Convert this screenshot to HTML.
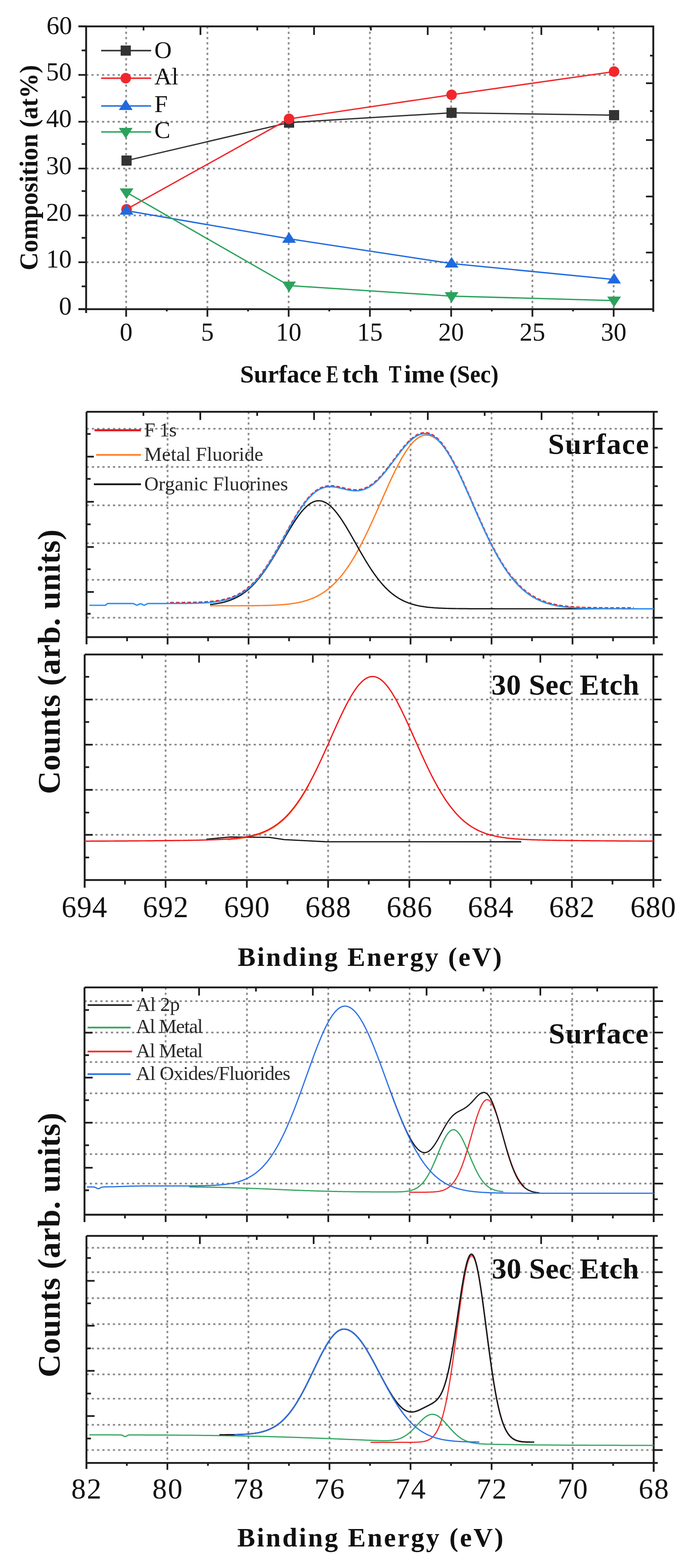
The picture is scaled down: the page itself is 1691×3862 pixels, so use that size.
<!DOCTYPE html>
<html><head><meta charset="utf-8"><title>XPS figure</title>
<style>html,body{margin:0;padding:0;background:#fff}svg{display:block}</style>
</head><body>
<svg width="1691" height="3862" viewBox="0 0 1691 3862">
<style>.g{stroke:#8c8c8c;stroke-width:4.2;stroke-dasharray:5.5 7.5;fill:none}</style>
<rect width="1691" height="3862" fill="#fff"/>
<line x1="212.0" y1="645.9" x2="1608.0" y2="645.9" class="g"/>
<line x1="212.0" y1="530.7" x2="1608.0" y2="530.7" class="g"/>
<line x1="212.0" y1="415.1" x2="1608.0" y2="415.1" class="g"/>
<line x1="212.0" y1="299.8" x2="1608.0" y2="299.8" class="g"/>
<line x1="212.0" y1="184.5" x2="1608.0" y2="184.5" class="g"/>
<line x1="310.5" y1="65.0" x2="310.5" y2="761.5" class="g"/>
<line x1="510.5" y1="65.0" x2="510.5" y2="761.5" class="g"/>
<line x1="710.5" y1="65.0" x2="710.5" y2="761.5" class="g"/>
<line x1="910.5" y1="65.0" x2="910.5" y2="761.5" class="g"/>
<line x1="1110.5" y1="65.0" x2="1110.5" y2="761.5" class="g"/>
<line x1="1310.5" y1="65.0" x2="1310.5" y2="761.5" class="g"/>
<line x1="1510.5" y1="65.0" x2="1510.5" y2="761.5" class="g"/>
<line x1="212.0" y1="65.0" x2="212.0" y2="771.0" stroke="#1c1c1c" stroke-width="4.6" />
<line x1="193.0" y1="65.0" x2="1610.0" y2="65.0" stroke="#1c1c1c" stroke-width="4.6" />
<line x1="193.0" y1="761.5" x2="1608.0" y2="761.5" stroke="#1c1c1c" stroke-width="4.6" />
<line x1="1608.0" y1="63.0" x2="1608.0" y2="768.0" stroke="#1c1c1c" stroke-width="4.6" />
<line x1="193.0" y1="761.2" x2="212.0" y2="761.2" stroke="#1c1c1c" stroke-width="4.2" />
<line x1="193.0" y1="645.9" x2="212.0" y2="645.9" stroke="#1c1c1c" stroke-width="4.2" />
<line x1="193.0" y1="530.7" x2="212.0" y2="530.7" stroke="#1c1c1c" stroke-width="4.2" />
<line x1="193.0" y1="415.1" x2="212.0" y2="415.1" stroke="#1c1c1c" stroke-width="4.2" />
<line x1="193.0" y1="299.8" x2="212.0" y2="299.8" stroke="#1c1c1c" stroke-width="4.2" />
<line x1="193.0" y1="184.5" x2="212.0" y2="184.5" stroke="#1c1c1c" stroke-width="4.2" />
<line x1="193.0" y1="64.8" x2="212.0" y2="64.8" stroke="#1c1c1c" stroke-width="4.2" />
<line x1="201.0" y1="705.3" x2="212.0" y2="705.3" stroke="#1c1c1c" stroke-width="4.2" />
<line x1="201.0" y1="585.8" x2="212.0" y2="585.8" stroke="#1c1c1c" stroke-width="4.2" />
<line x1="201.0" y1="470.6" x2="212.0" y2="470.6" stroke="#1c1c1c" stroke-width="4.2" />
<line x1="201.0" y1="354.7" x2="212.0" y2="354.7" stroke="#1c1c1c" stroke-width="4.2" />
<line x1="201.0" y1="239.5" x2="212.0" y2="239.5" stroke="#1c1c1c" stroke-width="4.2" />
<line x1="201.0" y1="124.2" x2="212.0" y2="124.2" stroke="#1c1c1c" stroke-width="4.2" />
<line x1="310.5" y1="761.5" x2="310.5" y2="780.0" stroke="#1c1c1c" stroke-width="4.2" />
<line x1="510.5" y1="761.5" x2="510.5" y2="780.0" stroke="#1c1c1c" stroke-width="4.2" />
<line x1="710.5" y1="761.5" x2="710.5" y2="780.0" stroke="#1c1c1c" stroke-width="4.2" />
<line x1="910.5" y1="761.5" x2="910.5" y2="780.0" stroke="#1c1c1c" stroke-width="4.2" />
<line x1="1110.5" y1="761.5" x2="1110.5" y2="780.0" stroke="#1c1c1c" stroke-width="4.2" />
<line x1="1310.5" y1="761.5" x2="1310.5" y2="780.0" stroke="#1c1c1c" stroke-width="4.2" />
<line x1="1510.5" y1="761.5" x2="1510.5" y2="780.0" stroke="#1c1c1c" stroke-width="4.2" />
<line x1="410.5" y1="761.5" x2="410.5" y2="767.0" stroke="#1c1c1c" stroke-width="4.2" />
<line x1="610.5" y1="761.5" x2="610.5" y2="767.0" stroke="#1c1c1c" stroke-width="4.2" />
<line x1="810.5" y1="761.5" x2="810.5" y2="767.0" stroke="#1c1c1c" stroke-width="4.2" />
<line x1="1010.5" y1="761.5" x2="1010.5" y2="767.0" stroke="#1c1c1c" stroke-width="4.2" />
<line x1="1210.5" y1="761.5" x2="1210.5" y2="767.0" stroke="#1c1c1c" stroke-width="4.2" />
<line x1="1410.5" y1="761.5" x2="1410.5" y2="767.0" stroke="#1c1c1c" stroke-width="4.2" />
<line x1="353.3" y1="65.0" x2="353.3" y2="75.0" stroke="#1c1c1c" stroke-width="4.2" />
<line x1="493.4" y1="65.0" x2="493.4" y2="86.0" stroke="#1c1c1c" stroke-width="4.2" />
<line x1="633.3" y1="65.0" x2="633.3" y2="75.0" stroke="#1c1c1c" stroke-width="4.2" />
<line x1="773.0" y1="65.0" x2="773.0" y2="86.0" stroke="#1c1c1c" stroke-width="4.2" />
<line x1="912.9" y1="65.0" x2="912.9" y2="75.0" stroke="#1c1c1c" stroke-width="4.2" />
<line x1="1052.8" y1="65.0" x2="1052.8" y2="86.0" stroke="#1c1c1c" stroke-width="4.2" />
<line x1="1192.6" y1="65.0" x2="1192.6" y2="75.0" stroke="#1c1c1c" stroke-width="4.2" />
<line x1="1332.5" y1="65.0" x2="1332.5" y2="86.0" stroke="#1c1c1c" stroke-width="4.2" />
<line x1="1472.4" y1="65.0" x2="1472.4" y2="75.0" stroke="#1c1c1c" stroke-width="4.2" />
<line x1="1608.0" y1="137.0" x2="1600.0" y2="137.0" stroke="#1c1c1c" stroke-width="4.2" />
<line x1="1608.0" y1="205.0" x2="1590.0" y2="205.0" stroke="#1c1c1c" stroke-width="4.2" />
<line x1="1608.0" y1="273.6" x2="1600.0" y2="273.6" stroke="#1c1c1c" stroke-width="4.2" />
<line x1="1608.0" y1="345.0" x2="1590.0" y2="345.0" stroke="#1c1c1c" stroke-width="4.2" />
<line x1="1608.0" y1="414.4" x2="1600.0" y2="414.4" stroke="#1c1c1c" stroke-width="4.2" />
<line x1="1608.0" y1="484.0" x2="1590.0" y2="484.0" stroke="#1c1c1c" stroke-width="4.2" />
<line x1="1608.0" y1="551.6" x2="1600.0" y2="551.6" stroke="#1c1c1c" stroke-width="4.2" />
<line x1="1608.0" y1="622.0" x2="1590.0" y2="622.0" stroke="#1c1c1c" stroke-width="4.2" />
<line x1="1608.0" y1="691.0" x2="1600.0" y2="691.0" stroke="#1c1c1c" stroke-width="4.2" />
<text x="176.5" y="774.7" font-family="'Liberation Serif','Times New Roman',serif" font-size="63" font-weight="normal" text-anchor="end" fill="#111">0</text>
<text x="176.5" y="659.4" font-family="'Liberation Serif','Times New Roman',serif" font-size="63" font-weight="normal" text-anchor="end" fill="#111">10</text>
<text x="176.5" y="544.2" font-family="'Liberation Serif','Times New Roman',serif" font-size="63" font-weight="normal" text-anchor="end" fill="#111">20</text>
<text x="176.5" y="428.6" font-family="'Liberation Serif','Times New Roman',serif" font-size="63" font-weight="normal" text-anchor="end" fill="#111">30</text>
<text x="176.5" y="313.3" font-family="'Liberation Serif','Times New Roman',serif" font-size="63" font-weight="normal" text-anchor="end" fill="#111">40</text>
<text x="176.5" y="198.0" font-family="'Liberation Serif','Times New Roman',serif" font-size="63" font-weight="normal" text-anchor="end" fill="#111">50</text>
<text x="177.5" y="83.5" font-family="'Liberation Serif','Times New Roman',serif" font-size="63" font-weight="normal" text-anchor="end" fill="#111">60</text>
<text x="310.5" y="838.5" font-family="'Liberation Serif','Times New Roman',serif" font-size="63" font-weight="normal" text-anchor="middle" fill="#111">0</text>
<text x="510.5" y="838.5" font-family="'Liberation Serif','Times New Roman',serif" font-size="63" font-weight="normal" text-anchor="middle" fill="#111">5</text>
<text x="710.5" y="838.5" font-family="'Liberation Serif','Times New Roman',serif" font-size="63" font-weight="normal" text-anchor="middle" fill="#111">10</text>
<text x="910.5" y="838.5" font-family="'Liberation Serif','Times New Roman',serif" font-size="63" font-weight="normal" text-anchor="middle" fill="#111">15</text>
<text x="1110.5" y="838.5" font-family="'Liberation Serif','Times New Roman',serif" font-size="63" font-weight="normal" text-anchor="middle" fill="#111">20</text>
<text x="1310.5" y="838.5" font-family="'Liberation Serif','Times New Roman',serif" font-size="63" font-weight="normal" text-anchor="middle" fill="#111">25</text>
<text x="1510.5" y="838.5" font-family="'Liberation Serif','Times New Roman',serif" font-size="63" font-weight="normal" text-anchor="middle" fill="#111">30</text>
<text x="591.0" y="941.5" font-family="'Liberation Serif','Times New Roman',serif" font-size="62" font-weight="bold" text-anchor="start" fill="#111" textLength="200" lengthAdjust="spacingAndGlyphs">Surface</text>
<text x="803.0" y="941.5" font-family="'Liberation Serif','Times New Roman',serif" font-size="62" font-weight="bold" text-anchor="start" fill="#111" textLength="30" lengthAdjust="spacingAndGlyphs">E</text>
<text x="842.0" y="941.5" font-family="'Liberation Serif','Times New Roman',serif" font-size="62" font-weight="bold" text-anchor="start" fill="#111" textLength="90" lengthAdjust="spacingAndGlyphs">tch</text>
<text x="957.0" y="941.5" font-family="'Liberation Serif','Times New Roman',serif" font-size="62" font-weight="bold" text-anchor="start" fill="#111" textLength="31" lengthAdjust="spacingAndGlyphs">T</text>
<text x="994.5" y="941.5" font-family="'Liberation Serif','Times New Roman',serif" font-size="62" font-weight="bold" text-anchor="start" fill="#111" textLength="99.5" lengthAdjust="spacingAndGlyphs">ime</text>
<text x="1106.0" y="941.5" font-family="'Liberation Serif','Times New Roman',serif" font-size="62" font-weight="bold" text-anchor="start" fill="#111" textLength="121" lengthAdjust="spacingAndGlyphs">(Sec)</text>
<text x="92.0" y="666.0" font-family="'Liberation Serif','Times New Roman',serif" font-size="64" font-weight="bold" text-anchor="start" fill="#111" textLength="506" lengthAdjust="spacingAndGlyphs" transform="rotate(-90 92.0 666.0)">Composition (at%)</text>
<polyline points="311.5,395.5 711.5,302.0 1111.5,277.8 1511.5,283.6" fill="none" stroke="#333333" stroke-width="3.3" stroke-linejoin="round" />
<polyline points="311.5,515.4 711.5,292.8 1111.5,233.4 1511.5,176.3" fill="none" stroke="#f0282d" stroke-width="3.3" stroke-linejoin="round" />
<polyline points="311.5,518.9 711.5,588.1 1111.5,649.2 1511.5,688.4" fill="none" stroke="#1f6ae0" stroke-width="3.3" stroke-linejoin="round" />
<polyline points="311.5,473.9 711.5,703.4 1111.5,729.4 1511.5,740.3" fill="none" stroke="#2ba35c" stroke-width="3.3" stroke-linejoin="round" />
<rect x="299.0" y="383.0" width="25" height="25" fill="#333333"/>
<rect x="699.0" y="289.5" width="25" height="25" fill="#333333"/>
<rect x="1099.0" y="265.3" width="25" height="25" fill="#333333"/>
<rect x="1499.0" y="271.1" width="25" height="25" fill="#333333"/>
<circle cx="311.5" cy="515.4" r="13.0" fill="#f0282d"/>
<circle cx="711.5" cy="292.8" r="13.0" fill="#f0282d"/>
<circle cx="1111.5" cy="233.4" r="13.0" fill="#f0282d"/>
<circle cx="1511.5" cy="176.3" r="13.0" fill="#f0282d"/>
<polygon points="311.5,502.8 294.5,528.8 328.5,528.8" fill="#1f6ae0"/>
<polygon points="711.5,572.0 694.5,598.0 728.5,598.0" fill="#1f6ae0"/>
<polygon points="1111.5,633.1 1094.5,659.1 1128.5,659.1" fill="#1f6ae0"/>
<polygon points="1511.5,672.3 1494.5,698.3 1528.5,698.3" fill="#1f6ae0"/>
<polygon points="311.5,490.0 294.5,464.0 328.5,464.0" fill="#2ba35c"/>
<polygon points="711.5,719.6 694.5,693.6 728.5,693.6" fill="#2ba35c"/>
<polygon points="1111.5,745.5 1094.5,719.5 1128.5,719.5" fill="#2ba35c"/>
<polygon points="1511.5,756.5 1494.5,730.5 1528.5,730.5" fill="#2ba35c"/>
<line x1="249.0" y1="124.6" x2="372.0" y2="124.6" stroke="#333333" stroke-width="3.6" />
<rect x="297.0" y="112.1" width="25" height="25" fill="#333333"/>
<text x="380.0" y="143.0" font-family="'Liberation Serif','Times New Roman',serif" font-size="59" font-weight="normal" text-anchor="start" fill="#111">O</text>
<line x1="249.0" y1="192.6" x2="372.0" y2="192.6" stroke="#f0282d" stroke-width="3.6" />
<circle cx="309.5" cy="192.6" r="13.0" fill="#f0282d"/>
<text x="380.0" y="207.6" font-family="'Liberation Serif','Times New Roman',serif" font-size="59" font-weight="normal" text-anchor="start" fill="#111">Al</text>
<line x1="249.0" y1="261.0" x2="372.0" y2="261.0" stroke="#1f6ae0" stroke-width="3.6" />
<polygon points="309.5,244.9 292.5,270.9 326.5,270.9" fill="#1f6ae0"/>
<text x="380.0" y="275.6" font-family="'Liberation Serif','Times New Roman',serif" font-size="59" font-weight="normal" text-anchor="start" fill="#111">F</text>
<line x1="249.0" y1="325.0" x2="372.0" y2="325.0" stroke="#2ba35c" stroke-width="3.6" />
<polygon points="309.5,341.1 292.5,315.1 326.5,315.1" fill="#2ba35c"/>
<text x="380.0" y="340.0" font-family="'Liberation Serif','Times New Roman',serif" font-size="59" font-weight="normal" text-anchor="start" fill="#111">C</text>
<line x1="213.0" y1="1056.0" x2="1609.0" y2="1056.0" class="g"/>
<line x1="213.0" y1="1150.2" x2="1609.0" y2="1150.2" class="g"/>
<line x1="213.0" y1="1244.6" x2="1609.0" y2="1244.6" class="g"/>
<line x1="213.0" y1="1337.8" x2="1609.0" y2="1337.8" class="g"/>
<line x1="213.0" y1="1428.2" x2="1609.0" y2="1428.2" class="g"/>
<line x1="213.0" y1="1521.5" x2="1609.0" y2="1521.5" class="g"/>
<line x1="412.5" y1="1014.3" x2="412.5" y2="1569.3" class="g"/>
<line x1="611.8" y1="1014.3" x2="611.8" y2="1569.3" class="g"/>
<line x1="811.2" y1="1014.3" x2="811.2" y2="1569.3" class="g"/>
<line x1="1010.5" y1="1014.3" x2="1010.5" y2="1569.3" class="g"/>
<line x1="1209.9" y1="1014.3" x2="1209.9" y2="1569.3" class="g"/>
<line x1="1409.2" y1="1014.3" x2="1409.2" y2="1569.3" class="g"/>
<line x1="213.0" y1="1068.8" x2="223.0" y2="1068.8" stroke="#1c1c1c" stroke-width="4.2" />
<line x1="213.0" y1="1124.7" x2="231.0" y2="1124.7" stroke="#1c1c1c" stroke-width="4.2" />
<line x1="213.0" y1="1179.5" x2="223.0" y2="1179.5" stroke="#1c1c1c" stroke-width="4.2" />
<line x1="213.0" y1="1235.9" x2="231.0" y2="1235.9" stroke="#1c1c1c" stroke-width="4.2" />
<line x1="213.0" y1="1291.4" x2="223.0" y2="1291.4" stroke="#1c1c1c" stroke-width="4.2" />
<line x1="213.0" y1="1347.3" x2="231.0" y2="1347.3" stroke="#1c1c1c" stroke-width="4.2" />
<line x1="213.0" y1="1402.0" x2="223.0" y2="1402.0" stroke="#1c1c1c" stroke-width="4.2" />
<line x1="213.0" y1="1458.0" x2="231.0" y2="1458.0" stroke="#1c1c1c" stroke-width="4.2" />
<line x1="213.0" y1="1511.7" x2="223.0" y2="1511.7" stroke="#1c1c1c" stroke-width="4.2" />
<line x1="1609.0" y1="1056.0" x2="1631.0" y2="1056.0" stroke="#1c1c1c" stroke-width="4.2" />
<line x1="1609.0" y1="1150.2" x2="1631.0" y2="1150.2" stroke="#1c1c1c" stroke-width="4.2" />
<line x1="1609.0" y1="1244.6" x2="1631.0" y2="1244.6" stroke="#1c1c1c" stroke-width="4.2" />
<line x1="1609.0" y1="1337.8" x2="1631.0" y2="1337.8" stroke="#1c1c1c" stroke-width="4.2" />
<line x1="1609.0" y1="1428.2" x2="1631.0" y2="1428.2" stroke="#1c1c1c" stroke-width="4.2" />
<line x1="1609.0" y1="1521.5" x2="1631.0" y2="1521.5" stroke="#1c1c1c" stroke-width="4.2" />
<line x1="1609.0" y1="1102.4" x2="1619.0" y2="1102.4" stroke="#1c1c1c" stroke-width="4.2" />
<line x1="1609.0" y1="1197.4" x2="1619.0" y2="1197.4" stroke="#1c1c1c" stroke-width="4.2" />
<line x1="1609.0" y1="1291.0" x2="1619.0" y2="1291.0" stroke="#1c1c1c" stroke-width="4.2" />
<line x1="1609.0" y1="1385.3" x2="1619.0" y2="1385.3" stroke="#1c1c1c" stroke-width="4.2" />
<line x1="1609.0" y1="1475.0" x2="1619.0" y2="1475.0" stroke="#1c1c1c" stroke-width="4.2" />
<line x1="312.8" y1="1569.3" x2="312.8" y2="1579.3" stroke="#1c1c1c" stroke-width="4.2" />
<line x1="412.5" y1="1569.3" x2="412.5" y2="1587.3" stroke="#1c1c1c" stroke-width="4.2" />
<line x1="512.2" y1="1569.3" x2="512.2" y2="1579.3" stroke="#1c1c1c" stroke-width="4.2" />
<line x1="611.8" y1="1569.3" x2="611.8" y2="1587.3" stroke="#1c1c1c" stroke-width="4.2" />
<line x1="711.5" y1="1569.3" x2="711.5" y2="1579.3" stroke="#1c1c1c" stroke-width="4.2" />
<line x1="811.2" y1="1569.3" x2="811.2" y2="1587.3" stroke="#1c1c1c" stroke-width="4.2" />
<line x1="910.9" y1="1569.3" x2="910.9" y2="1579.3" stroke="#1c1c1c" stroke-width="4.2" />
<line x1="1010.5" y1="1569.3" x2="1010.5" y2="1587.3" stroke="#1c1c1c" stroke-width="4.2" />
<line x1="1110.2" y1="1569.3" x2="1110.2" y2="1579.3" stroke="#1c1c1c" stroke-width="4.2" />
<line x1="1209.9" y1="1569.3" x2="1209.9" y2="1587.3" stroke="#1c1c1c" stroke-width="4.2" />
<line x1="1309.5" y1="1569.3" x2="1309.5" y2="1579.3" stroke="#1c1c1c" stroke-width="4.2" />
<line x1="1409.2" y1="1569.3" x2="1409.2" y2="1587.3" stroke="#1c1c1c" stroke-width="4.2" />
<line x1="1508.9" y1="1569.3" x2="1508.9" y2="1579.3" stroke="#1c1c1c" stroke-width="4.2" />
<line x1="353.0" y1="1014.3" x2="353.0" y2="1024.3" stroke="#1c1c1c" stroke-width="4.2" />
<line x1="493.0" y1="1014.3" x2="493.0" y2="1034.3" stroke="#1c1c1c" stroke-width="4.2" />
<line x1="633.0" y1="1014.3" x2="633.0" y2="1024.3" stroke="#1c1c1c" stroke-width="4.2" />
<line x1="773.0" y1="1014.3" x2="773.0" y2="1034.3" stroke="#1c1c1c" stroke-width="4.2" />
<line x1="913.0" y1="1014.3" x2="913.0" y2="1024.3" stroke="#1c1c1c" stroke-width="4.2" />
<line x1="1053.0" y1="1014.3" x2="1053.0" y2="1034.3" stroke="#1c1c1c" stroke-width="4.2" />
<line x1="1193.0" y1="1014.3" x2="1193.0" y2="1024.3" stroke="#1c1c1c" stroke-width="4.2" />
<line x1="1333.0" y1="1014.3" x2="1333.0" y2="1034.3" stroke="#1c1c1c" stroke-width="4.2" />
<line x1="1473.0" y1="1014.3" x2="1473.0" y2="1024.3" stroke="#1c1c1c" stroke-width="4.2" />
<line x1="213.0" y1="1014.3" x2="213.0" y2="1587.0" stroke="#1c1c1c" stroke-width="4.6" />
<line x1="1609.0" y1="1014.3" x2="1609.0" y2="1587.0" stroke="#1c1c1c" stroke-width="4.6" />
<line x1="213.0" y1="1014.3" x2="1619.0" y2="1014.3" stroke="#1c1c1c" stroke-width="4.6" />
<line x1="213.0" y1="1569.3" x2="1619.0" y2="1569.3" stroke="#1c1c1c" stroke-width="4.6" />
<polyline points="419.0,1484.2 422.0,1484.2 425.0,1484.2 428.0,1484.2 431.0,1484.2 434.0,1484.2 437.0,1484.2 440.0,1484.1 443.0,1484.1 446.0,1484.1 449.0,1484.1 452.0,1484.0 455.0,1484.0 458.0,1484.0 461.0,1483.9 464.0,1483.9 467.0,1483.8 470.0,1483.8 473.0,1483.7 476.0,1483.7 479.0,1483.6 482.0,1483.5 485.0,1483.4 488.0,1483.3 491.0,1483.2 494.0,1483.1 497.0,1482.9 500.0,1482.8 503.0,1482.6 506.0,1482.4 509.0,1482.2 512.0,1482.0 515.0,1481.8 518.0,1481.5 521.0,1481.2 524.0,1480.9 527.0,1480.6 530.0,1480.2 533.0,1479.8 536.0,1479.4 539.0,1478.9 542.0,1478.3 545.0,1477.8 548.0,1477.2 551.0,1476.5 554.0,1475.8 557.0,1475.0 560.0,1474.2 563.0,1473.3 566.0,1472.3 569.0,1471.3 572.0,1470.2 575.0,1469.0 578.0,1467.7 581.0,1466.4 584.0,1464.9 587.0,1463.4 590.0,1461.7 593.0,1460.0 596.0,1458.2 599.0,1456.2 602.0,1454.1 605.0,1452.0 608.0,1449.6 611.0,1447.2 614.0,1444.7 617.0,1442.0 620.0,1439.2 623.0,1436.2 626.0,1433.2 629.0,1430.0 632.0,1426.6 635.0,1423.1 638.0,1419.5 641.0,1415.8 644.0,1411.9 647.0,1407.9 650.0,1403.7 653.0,1399.5 656.0,1395.1 659.0,1390.5 662.0,1385.9 665.0,1381.2 668.0,1376.3 671.0,1371.4 674.0,1366.4 677.0,1361.2 680.0,1356.0 683.0,1350.8 686.0,1345.4 689.0,1340.1 692.0,1334.6 695.0,1329.2 698.0,1323.7 701.0,1318.2 704.0,1312.7 707.0,1307.3 710.0,1301.8 713.0,1296.4 716.0,1291.0 719.0,1285.7 722.0,1280.5 725.0,1275.3 728.0,1270.3 731.0,1265.3 734.0,1260.5 737.0,1255.8 740.0,1251.2 743.0,1246.8 746.0,1242.5 749.0,1238.4 752.0,1234.4 755.0,1230.6 758.0,1227.1 761.0,1223.7 764.0,1220.5 767.0,1217.5 770.0,1214.7 773.0,1212.1 776.0,1209.8 779.0,1207.6 782.0,1205.6 785.0,1203.9 788.0,1202.3 791.0,1201.0 794.0,1199.8 797.0,1198.8 800.0,1198.1 803.0,1197.5 806.0,1197.0 809.0,1196.7 812.0,1196.6 815.0,1196.6 818.0,1196.8 821.0,1197.0 824.0,1197.4 827.0,1197.8 830.0,1198.4 833.0,1199.0 836.0,1199.6 839.0,1200.3 842.0,1201.0 845.0,1201.7 848.0,1202.5 851.0,1203.2 854.0,1203.8 857.0,1204.5 860.0,1205.0 863.0,1205.5 866.0,1205.9 869.0,1206.2 872.0,1206.5 875.0,1206.6 878.0,1206.5 881.0,1206.4 884.0,1206.0 887.0,1205.6 890.0,1205.0 893.0,1204.2 896.0,1203.2 899.0,1202.1 902.0,1200.8 905.0,1199.3 908.0,1197.7 911.0,1195.8 914.0,1193.8 917.0,1191.7 920.0,1189.3 923.0,1186.8 926.0,1184.1 929.0,1181.3 932.0,1178.3 935.0,1175.1 938.0,1171.9 941.0,1168.5 944.0,1164.9 947.0,1161.3 950.0,1157.6 953.0,1153.8 956.0,1150.0 959.0,1146.0 962.0,1142.1 965.0,1138.0 968.0,1134.0 971.0,1130.0 974.0,1126.0 977.0,1122.0 980.0,1118.0 983.0,1114.1 986.0,1110.2 989.0,1106.5 992.0,1102.8 995.0,1099.2 998.0,1095.7 1001.0,1092.4 1004.0,1089.2 1007.0,1086.2 1010.0,1083.4 1013.0,1080.7 1016.0,1078.2 1019.0,1075.9 1022.0,1073.8 1025.0,1072.0 1028.0,1070.3 1031.0,1069.0 1034.0,1067.8 1037.0,1066.9 1040.0,1066.3 1043.0,1065.9 1046.0,1065.7 1049.0,1065.9 1052.0,1066.3 1055.0,1067.0 1058.0,1068.0 1061.0,1069.2 1064.0,1070.7 1067.0,1072.5 1070.0,1074.5 1073.0,1076.8 1076.0,1079.4 1079.0,1082.3 1082.0,1085.4 1085.0,1088.7 1088.0,1092.4 1091.0,1096.2 1094.0,1100.3 1097.0,1104.6 1100.0,1109.1 1103.0,1113.9 1106.0,1118.8 1109.0,1123.9 1112.0,1129.3 1115.0,1134.8 1118.0,1140.4 1121.0,1146.2 1124.0,1152.2 1127.0,1158.3 1130.0,1164.5 1133.0,1170.9 1136.0,1177.3 1139.0,1183.8 1142.0,1190.4 1145.0,1197.1 1148.0,1203.9 1151.0,1210.7 1154.0,1217.5 1157.0,1224.4 1160.0,1231.2 1163.0,1238.1 1166.0,1245.0 1169.0,1251.9 1172.0,1258.7 1175.0,1265.6 1178.0,1272.4 1181.0,1279.1 1184.0,1285.8 1187.0,1292.4 1190.0,1299.0 1193.0,1305.5 1196.0,1311.9 1199.0,1318.2 1202.0,1324.4 1205.0,1330.6 1208.0,1336.6 1211.0,1342.5 1214.0,1348.3 1217.0,1354.0 1220.0,1359.5 1223.0,1365.0 1226.0,1370.3 1229.0,1375.5 1232.0,1380.5 1235.0,1385.5 1238.0,1390.3 1241.0,1394.9 1244.0,1399.5 1247.0,1403.9 1250.0,1408.1 1253.0,1412.2 1256.0,1416.2 1259.0,1420.1 1262.0,1423.8 1265.0,1427.4 1268.0,1430.9 1271.0,1434.2 1274.0,1437.4 1277.0,1440.5 1280.0,1443.5 1283.0,1446.3 1286.0,1449.1 1289.0,1451.7 1292.0,1454.2 1295.0,1456.6 1298.0,1458.9 1301.0,1461.1 1304.0,1463.2 1307.0,1465.1 1310.0,1467.0 1313.0,1468.8 1316.0,1470.6 1319.0,1472.2 1322.0,1473.7 1325.0,1475.2 1328.0,1476.6 1331.0,1477.9 1334.0,1479.2 1337.0,1480.3 1340.0,1481.4 1343.0,1482.5 1346.0,1483.5 1349.0,1484.4 1352.0,1485.3 1355.0,1486.1 1358.0,1486.9 1361.0,1487.6 1364.0,1488.3 1367.0,1489.0 1370.0,1489.6 1373.0,1490.1 1376.0,1490.6 1379.0,1491.1 1382.0,1491.6 1385.0,1492.0 1388.0,1492.4 1391.0,1492.8 1394.0,1493.1 1397.0,1493.5 1400.0,1493.8 1403.0,1494.1 1406.0,1494.3 1409.0,1494.6 1412.0,1494.8 1415.0,1495.0 1418.0,1495.2 1421.0,1495.4 1424.0,1495.5 1427.0,1495.7 1430.0,1495.8 1433.0,1495.9 1436.0,1496.1 1439.0,1496.2 1442.0,1496.3 1445.0,1496.4 1448.0,1496.4 1451.0,1496.5 1454.0,1496.6 1457.0,1496.6 1460.0,1496.7 1463.0,1496.8 1466.0,1496.8 1469.0,1496.9 1472.0,1496.9 1475.0,1496.9 1478.0,1497.0 1481.0,1497.0 1484.0,1497.0 1487.0,1497.1 1490.0,1497.1 1493.0,1497.1 1496.0,1497.1 1499.0,1497.1 1502.0,1497.2 1505.0,1497.2 1508.0,1497.2 1511.0,1497.2 1514.0,1497.2 1517.0,1497.2 1520.0,1497.2 1523.0,1497.2 1526.0,1497.2 1529.0,1497.2 1532.0,1497.3 1535.0,1497.3 1538.0,1497.3 1541.0,1497.3 1544.0,1497.3 1547.0,1497.3 1550.0,1497.3 1553.0,1497.3 1556.0,1497.3 1559.0,1497.3 1560.0,1497.3" fill="none" stroke="#e8141c" stroke-width="3.4" stroke-linejoin="round" stroke-dasharray="9 5"/>
<polyline points="517.0,1492.0 519.0,1492.0 521.0,1492.0 523.0,1492.0 525.0,1492.0 527.0,1492.0 529.0,1492.0 531.0,1492.0 533.0,1492.0 535.0,1492.0 537.0,1492.0 539.0,1492.0 541.0,1492.0 543.0,1492.0 545.0,1492.0 547.0,1492.0 549.0,1492.0 551.0,1492.0 553.0,1492.0 555.0,1492.0 557.0,1492.0 559.0,1492.0 561.0,1492.0 563.0,1492.0 565.0,1492.0 567.0,1492.0 569.0,1492.0 571.0,1492.0 573.0,1492.0 575.0,1492.0 577.0,1492.0 579.0,1492.0 581.0,1492.0 583.0,1492.0 585.0,1492.0 587.0,1492.0 589.0,1492.0 591.0,1491.9 593.0,1491.9 595.0,1491.9 597.0,1491.9 599.0,1491.9 601.0,1491.9 603.0,1491.9 605.0,1491.9 607.0,1491.9 609.0,1491.9 611.0,1491.9 613.0,1491.8 615.0,1491.8 617.0,1491.8 619.0,1491.8 621.0,1491.8 623.0,1491.8 625.0,1491.8 627.0,1491.7 629.0,1491.7 631.0,1491.7 633.0,1491.7 635.0,1491.6 637.0,1491.6 639.0,1491.6 641.0,1491.5 643.0,1491.5 645.0,1491.5 647.0,1491.4 649.0,1491.4 651.0,1491.4 653.0,1491.3 655.0,1491.3 657.0,1491.2 659.0,1491.1 661.0,1491.1 663.0,1491.0 665.0,1491.0 667.0,1490.9 669.0,1490.8 671.0,1490.7 673.0,1490.6 675.0,1490.6 677.0,1490.5 679.0,1490.4 681.0,1490.3 683.0,1490.1 685.0,1490.0 687.0,1489.9 689.0,1489.8 691.0,1489.6 693.0,1489.5 695.0,1489.3 697.0,1489.2 699.0,1489.0 701.0,1488.8 703.0,1488.6 705.0,1488.4 707.0,1488.2 709.0,1488.0 711.0,1487.8 713.0,1487.5 715.0,1487.3 717.0,1487.0 719.0,1486.7 721.0,1486.4 723.0,1486.1 725.0,1485.8 727.0,1485.5 729.0,1485.1 731.0,1484.7 733.0,1484.4 735.0,1484.0 737.0,1483.5 739.0,1483.1 741.0,1482.6 743.0,1482.2 745.0,1481.7 747.0,1481.1 749.0,1480.6 751.0,1480.0 753.0,1479.4 755.0,1478.8 757.0,1478.2 759.0,1477.5 761.0,1476.8 763.0,1476.1 765.0,1475.3 767.0,1474.6 769.0,1473.7 771.0,1472.9 773.0,1472.0 775.0,1471.1 777.0,1470.2 779.0,1469.2 781.0,1468.2 783.0,1467.2 785.0,1466.1 787.0,1465.0 789.0,1463.8 791.0,1462.6 793.0,1461.3 795.0,1460.1 797.0,1458.7 799.0,1457.4 801.0,1456.0 803.0,1454.5 805.0,1453.0 807.0,1451.5 809.0,1449.9 811.0,1448.2 813.0,1446.5 815.0,1444.8 817.0,1443.0 819.0,1441.1 821.0,1439.2 823.0,1437.3 825.0,1435.3 827.0,1433.2 829.0,1431.1 831.0,1428.9 833.0,1426.7 835.0,1424.4 837.0,1422.1 839.0,1419.7 841.0,1417.2 843.0,1414.7 845.0,1412.1 847.0,1409.5 849.0,1406.8 851.0,1404.1 853.0,1401.2 855.0,1398.4 857.0,1395.5 859.0,1392.5 861.0,1389.4 863.0,1386.3 865.0,1383.1 867.0,1379.9 869.0,1376.6 871.0,1373.3 873.0,1369.9 875.0,1366.5 877.0,1362.9 879.0,1359.4 881.0,1355.8 883.0,1352.1 885.0,1348.4 887.0,1344.6 889.0,1340.7 891.0,1336.9 893.0,1332.9 895.0,1329.0 897.0,1324.9 899.0,1320.9 901.0,1316.8 903.0,1312.6 905.0,1308.4 907.0,1304.2 909.0,1299.9 911.0,1295.6 913.0,1291.3 915.0,1286.9 917.0,1282.5 919.0,1278.1 921.0,1273.7 923.0,1269.2 925.0,1264.7 927.0,1260.3 929.0,1255.7 931.0,1251.2 933.0,1246.7 935.0,1242.2 937.0,1237.6 939.0,1233.1 941.0,1228.5 943.0,1224.0 945.0,1219.5 947.0,1215.0 949.0,1210.5 951.0,1206.0 953.0,1201.6 955.0,1197.1 957.0,1192.7 959.0,1188.3 961.0,1184.0 963.0,1179.7 965.0,1175.4 967.0,1171.2 969.0,1167.0 971.0,1162.9 973.0,1158.8 975.0,1154.8 977.0,1150.9 979.0,1147.0 981.0,1143.2 983.0,1139.4 985.0,1135.7 987.0,1132.1 989.0,1128.6 991.0,1125.1 993.0,1121.8 995.0,1118.5 997.0,1115.3 999.0,1112.2 1001.0,1109.2 1003.0,1106.3 1005.0,1103.5 1007.0,1100.8 1009.0,1098.2 1011.0,1095.8 1013.0,1093.4 1015.0,1091.1 1017.0,1089.0 1019.0,1087.0 1021.0,1085.1 1023.0,1083.3 1025.0,1081.6 1027.0,1080.1 1029.0,1078.6 1031.0,1077.4 1033.0,1076.2 1035.0,1075.2 1037.0,1074.3 1039.0,1073.5 1041.0,1072.8 1043.0,1072.3 1045.0,1072.0 1047.0,1071.7 1049.0,1071.6 1051.0,1071.6 1053.0,1071.8 1055.0,1072.1 1057.0,1072.5 1059.0,1073.1 1061.0,1073.7 1063.0,1074.6 1065.0,1075.5 1067.0,1076.6 1069.0,1077.8 1071.0,1079.1 1073.0,1080.6 1075.0,1082.2 1077.0,1083.9 1079.0,1085.7 1081.0,1087.7 1083.0,1089.8 1085.0,1092.0 1087.0,1094.3 1089.0,1096.7 1091.0,1099.2 1093.0,1101.8 1095.0,1104.6 1097.0,1107.4 1099.0,1110.4 1101.0,1113.4 1103.0,1116.6 1105.0,1119.8 1107.0,1123.1 1109.0,1126.5 1111.0,1130.0 1113.0,1133.6 1115.0,1137.3 1117.0,1141.0 1119.0,1144.8 1121.0,1148.7 1123.0,1152.6 1125.0,1156.6 1127.0,1160.7 1129.0,1164.8 1131.0,1169.0 1133.0,1173.2 1135.0,1177.5 1137.0,1181.8 1139.0,1186.1 1141.0,1190.5 1143.0,1195.0 1145.0,1199.4 1147.0,1203.9 1149.0,1208.4 1151.0,1212.9 1153.0,1217.5 1155.0,1222.0 1157.0,1226.6 1159.0,1231.2 1161.0,1235.8 1163.0,1240.4 1165.0,1245.0 1167.0,1249.5 1169.0,1254.1 1171.0,1258.7 1173.0,1263.3 1175.0,1267.8 1177.0,1272.3 1179.0,1276.8 1181.0,1281.3 1183.0,1285.8 1185.0,1290.2 1187.0,1294.6 1189.0,1299.0 1191.0,1303.4 1193.0,1307.7 1195.0,1312.0 1197.0,1316.2 1199.0,1320.4 1201.0,1324.6 1203.0,1328.7 1205.0,1332.8 1207.0,1336.8 1209.0,1340.8 1211.0,1344.7 1213.0,1348.6 1215.0,1352.4 1217.0,1356.2 1219.0,1359.9 1221.0,1363.6 1223.0,1367.2 1225.0,1370.7 1227.0,1374.2 1229.0,1377.7 1231.0,1381.1 1233.0,1384.4 1235.0,1387.7 1237.0,1390.9 1239.0,1394.0 1241.0,1397.1 1243.0,1400.2 1245.0,1403.1 1247.0,1406.1 1249.0,1408.9 1251.0,1411.7 1253.0,1414.4 1255.0,1417.1 1257.0,1419.7 1259.0,1422.3 1261.0,1424.8 1263.0,1427.2 1265.0,1429.6 1267.0,1431.9 1269.0,1434.2 1271.0,1436.4 1273.0,1438.6 1275.0,1440.7 1277.0,1442.7 1279.0,1444.7 1281.0,1446.6 1283.0,1448.5 1285.0,1450.4 1287.0,1452.2 1289.0,1453.9 1291.0,1455.6 1293.0,1457.2 1295.0,1458.8 1297.0,1460.3 1299.0,1461.8 1301.0,1463.3 1303.0,1464.7 1305.0,1466.0 1307.0,1467.3 1309.0,1468.6 1311.0,1469.8 1313.0,1471.0 1315.0,1472.2 1317.0,1473.3 1319.0,1474.4 1321.0,1475.4 1323.0,1476.4 1325.0,1477.4 1327.0,1478.3 1329.0,1479.2 1331.0,1480.1 1333.0,1480.9 1335.0,1481.8 1337.0,1482.5 1339.0,1483.3 1341.0,1484.0 1343.0,1484.7 1345.0,1485.4 1347.0,1486.0 1349.0,1486.6 1351.0,1487.2 1353.0,1487.8 1355.0,1488.3 1357.0,1488.8 1359.0,1489.3 1361.0,1489.8 1363.0,1490.3 1365.0,1490.7 1367.0,1491.2 1369.0,1491.6 1371.0,1491.9 1373.0,1492.3 1375.0,1492.7 1377.0,1493.0 1379.0,1493.3 1381.0,1493.6 1383.0,1493.9 1385.0,1494.2 1387.0,1494.5 1389.0,1494.8 1391.0,1495.0 1393.0,1495.2 1395.0,1495.5 1397.0,1495.7 1399.0,1495.9 1401.0,1496.1 1403.0,1496.3 1405.0,1496.4 1407.0,1496.6 1409.0,1496.8 1411.0,1496.9 1413.0,1497.0 1415.0,1497.2 1417.0,1497.3 1419.0,1497.4 1421.0,1497.6 1423.0,1497.7 1425.0,1497.8 1427.0,1497.9 1429.0,1498.0 1431.0,1498.0 1433.0,1498.1 1435.0,1498.2 1437.0,1498.3 1439.0,1498.4 1441.0,1498.4 1443.0,1498.5 1445.0,1498.6 1447.0,1498.6 1449.0,1498.7 1451.0,1498.7 1453.0,1498.8 1455.0,1498.8 1457.0,1498.8 1459.0,1498.9 1461.0,1498.9 1463.0,1499.0 1465.0,1499.0 1467.0,1499.0 1469.0,1499.1 1471.0,1499.1 1473.0,1499.1 1475.0,1499.1 1477.0,1499.2 1479.0,1499.2 1481.0,1499.2 1483.0,1499.2 1485.0,1499.2 1487.0,1499.3 1489.0,1499.3 1491.0,1499.3 1493.0,1499.3 1495.0,1499.3 1497.0,1499.3 1499.0,1499.3 1501.0,1499.4 1503.0,1499.4 1505.0,1499.4 1507.0,1499.4 1509.0,1499.4 1511.0,1499.4 1513.0,1499.4 1515.0,1499.4 1517.0,1499.4 1519.0,1499.4 1521.0,1499.4 1523.0,1499.4 1525.0,1499.4 1527.0,1499.4 1529.0,1499.4 1531.0,1499.5 1533.0,1499.5 1535.0,1499.5 1537.0,1499.5 1539.0,1499.5 1541.0,1499.5 1543.0,1499.5 1545.0,1499.5 1547.0,1499.5 1549.0,1499.5 1551.0,1499.5 1553.0,1499.5 1555.0,1499.5 1557.0,1499.5 1559.0,1499.5 1561.0,1499.5 1563.0,1499.5 1565.0,1499.5 1567.0,1499.5 1569.0,1499.5 1571.0,1499.5 1573.0,1499.5 1575.0,1499.5 1577.0,1499.5 1579.0,1499.5 1581.0,1499.5 1583.0,1499.5 1585.0,1499.5 1587.0,1499.5 1589.0,1499.5 1591.0,1499.5 1593.0,1499.5 1595.0,1499.5 1597.0,1499.5 1599.0,1499.5 1601.0,1499.5 1603.0,1499.5 1605.0,1499.5 1607.0,1499.5 1609.0,1499.5" fill="none" stroke="#ff7f27" stroke-width="3.2" stroke-linejoin="round" />
<polyline points="517.0,1488.9 519.0,1488.7 521.0,1488.5 523.0,1488.3 525.0,1488.0 527.0,1487.7 529.0,1487.5 531.0,1487.2 533.0,1486.9 535.0,1486.5 537.0,1486.2 539.0,1485.8 541.0,1485.4 543.0,1485.0 545.0,1484.6 547.0,1484.1 549.0,1483.7 551.0,1483.2 553.0,1482.6 555.0,1482.1 557.0,1481.5 559.0,1480.9 561.0,1480.3 563.0,1479.6 565.0,1478.9 567.0,1478.2 569.0,1477.4 571.0,1476.6 573.0,1475.8 575.0,1475.0 577.0,1474.0 579.0,1473.1 581.0,1472.1 583.0,1471.1 585.0,1470.0 587.0,1468.9 589.0,1467.8 591.0,1466.6 593.0,1465.3 595.0,1464.1 597.0,1462.7 599.0,1461.3 601.0,1459.9 603.0,1458.4 605.0,1456.9 607.0,1455.3 609.0,1453.7 611.0,1452.0 613.0,1450.2 615.0,1448.4 617.0,1446.6 619.0,1444.7 621.0,1442.7 623.0,1440.7 625.0,1438.6 627.0,1436.4 629.0,1434.2 631.0,1432.0 633.0,1429.7 635.0,1427.3 637.0,1424.9 639.0,1422.4 641.0,1419.9 643.0,1417.3 645.0,1414.6 647.0,1411.9 649.0,1409.2 651.0,1406.4 653.0,1403.5 655.0,1400.6 657.0,1397.6 659.0,1394.6 661.0,1391.6 663.0,1388.5 665.0,1385.4 667.0,1382.2 669.0,1379.0 671.0,1375.7 673.0,1372.4 675.0,1369.1 677.0,1365.7 679.0,1362.4 681.0,1359.0 683.0,1355.5 685.0,1352.1 687.0,1348.6 689.0,1345.2 691.0,1341.7 693.0,1338.2 695.0,1334.7 697.0,1331.2 699.0,1327.7 701.0,1324.2 703.0,1320.8 705.0,1317.3 707.0,1313.9 709.0,1310.5 711.0,1307.1 713.0,1303.7 715.0,1300.4 717.0,1297.1 719.0,1293.9 721.0,1290.7 723.0,1287.5 725.0,1284.4 727.0,1281.4 729.0,1278.4 731.0,1275.5 733.0,1272.7 735.0,1269.9 737.0,1267.2 739.0,1264.6 741.0,1262.1 743.0,1259.6 745.0,1257.3 747.0,1255.0 749.0,1252.9 751.0,1250.8 753.0,1248.9 755.0,1247.0 757.0,1245.3 759.0,1243.6 761.0,1242.1 763.0,1240.7 765.0,1239.4 767.0,1238.3 769.0,1237.2 771.0,1236.3 773.0,1235.5 775.0,1234.8 777.0,1234.3 779.0,1233.9 781.0,1233.6 783.0,1233.4 785.0,1233.4 787.0,1233.5 789.0,1233.7 791.0,1234.0 793.0,1234.5 795.0,1235.1 797.0,1235.9 799.0,1236.7 801.0,1237.7 803.0,1238.8 805.0,1240.0 807.0,1241.4 809.0,1242.9 811.0,1244.4 813.0,1246.1 815.0,1247.9 817.0,1249.9 819.0,1251.9 821.0,1254.0 823.0,1256.2 825.0,1258.5 827.0,1260.9 829.0,1263.5 831.0,1266.0 833.0,1268.7 835.0,1271.5 837.0,1274.3 839.0,1277.2 841.0,1280.2 843.0,1283.2 845.0,1286.3 847.0,1289.5 849.0,1292.7 851.0,1295.9 853.0,1299.2 855.0,1302.6 857.0,1306.0 859.0,1309.4 861.0,1312.8 863.0,1316.3 865.0,1319.8 867.0,1323.3 869.0,1326.8 871.0,1330.4 873.0,1333.9 875.0,1337.5 877.0,1341.0 879.0,1344.6 881.0,1348.1 883.0,1351.6 885.0,1355.2 887.0,1358.7 889.0,1362.1 891.0,1365.6 893.0,1369.0 895.0,1372.4 897.0,1375.8 899.0,1379.2 901.0,1382.5 903.0,1385.7 905.0,1389.0 907.0,1392.2 909.0,1395.3 911.0,1398.4 913.0,1401.5 915.0,1404.5 917.0,1407.5 919.0,1410.4 921.0,1413.2 923.0,1416.0 925.0,1418.8 927.0,1421.5 929.0,1424.1 931.0,1426.7 933.0,1429.3 935.0,1431.7 937.0,1434.1 939.0,1436.5 941.0,1438.8 943.0,1441.1 945.0,1443.2 947.0,1445.4 949.0,1447.5 951.0,1449.5 953.0,1451.4 955.0,1453.3 957.0,1455.2 959.0,1457.0 961.0,1458.7 963.0,1460.4 965.0,1462.0 967.0,1463.6 969.0,1465.1 971.0,1466.6 973.0,1468.0 975.0,1469.4 977.0,1470.7 979.0,1472.0 981.0,1473.3 983.0,1474.5 985.0,1475.6 987.0,1476.7 989.0,1477.8 991.0,1478.8 993.0,1479.8 995.0,1480.7 997.0,1481.6 999.0,1482.5 1001.0,1483.3 1003.0,1484.1 1005.0,1484.9 1007.0,1485.6 1009.0,1486.3 1011.0,1487.0 1013.0,1487.6 1015.0,1488.2 1017.0,1488.8 1019.0,1489.3 1021.0,1489.9 1023.0,1490.4 1025.0,1490.9 1027.0,1491.3 1029.0,1491.7 1031.0,1492.2 1033.0,1492.6 1035.0,1492.9 1037.0,1493.3 1039.0,1493.6 1041.0,1493.9 1043.0,1494.2 1045.0,1494.5 1047.0,1494.8 1049.0,1495.1 1051.0,1495.3 1053.0,1495.6 1055.0,1495.8 1057.0,1496.0 1059.0,1496.2 1061.0,1496.4 1063.0,1496.5 1065.0,1496.7 1067.0,1496.9 1069.0,1497.0 1071.0,1497.2 1073.0,1497.3 1075.0,1497.4 1077.0,1497.5 1079.0,1497.6 1081.0,1497.8 1083.0,1497.9 1085.0,1497.9 1087.0,1498.0 1089.0,1498.1 1091.0,1498.2 1093.0,1498.3 1095.0,1498.3 1097.0,1498.4 1099.0,1498.5 1101.0,1498.5 1103.0,1498.6 1105.0,1498.6 1107.0,1498.7 1109.0,1498.7 1111.0,1498.8 1113.0,1498.8 1115.0,1498.8 1117.0,1498.9 1119.0,1498.9 1121.0,1498.9 1123.0,1499.0 1125.0,1499.0 1127.0,1499.0 1129.0,1499.1 1131.0,1499.1 1133.0,1499.1 1135.0,1499.1 1137.0,1499.1 1139.0,1499.2 1141.0,1499.2 1143.0,1499.2 1145.0,1499.2 1147.0,1499.2 1149.0,1499.2 1151.0,1499.3 1153.0,1499.3 1155.0,1499.3 1157.0,1499.3 1159.0,1499.3 1161.0,1499.3 1163.0,1499.3 1165.0,1499.3 1167.0,1499.3 1169.0,1499.3 1171.0,1499.3 1173.0,1499.4 1175.0,1499.4 1177.0,1499.4 1179.0,1499.4 1181.0,1499.4 1183.0,1499.4 1185.0,1499.4 1187.0,1499.4 1189.0,1499.4 1191.0,1499.4 1193.0,1499.4 1195.0,1499.4 1197.0,1499.4 1199.0,1499.4 1201.0,1499.4 1203.0,1499.4 1205.0,1499.4 1207.0,1499.4 1209.0,1499.4 1211.0,1499.4 1213.0,1499.4 1215.0,1499.4 1217.0,1499.4 1219.0,1499.5 1221.0,1499.5 1223.0,1499.5 1225.0,1499.5 1227.0,1499.5 1229.0,1499.5 1231.0,1499.5 1233.0,1499.5 1235.0,1499.5 1237.0,1499.5 1239.0,1499.5 1241.0,1499.5 1243.0,1499.5 1245.0,1499.5 1247.0,1499.5 1249.0,1499.5 1251.0,1499.5 1253.0,1499.5 1255.0,1499.5 1257.0,1499.5 1259.0,1499.5 1261.0,1499.5 1263.0,1499.5 1265.0,1499.5 1267.0,1499.5 1269.0,1499.5 1271.0,1499.5 1273.0,1499.5 1275.0,1499.5 1277.0,1499.5 1279.0,1499.5 1281.0,1499.5 1283.0,1499.5 1285.0,1499.5 1287.0,1499.5 1289.0,1499.5 1291.0,1499.5 1293.0,1499.5 1295.0,1499.5 1297.0,1499.5 1299.0,1499.5 1301.0,1499.5 1303.0,1499.5 1305.0,1499.5 1307.0,1499.5 1309.0,1499.5 1311.0,1499.5 1313.0,1499.5 1315.0,1499.5 1317.0,1499.5 1319.0,1499.5 1321.0,1499.5 1323.0,1499.5 1325.0,1499.5 1327.0,1499.5 1329.0,1499.5 1331.0,1499.5 1333.0,1499.5 1335.0,1499.5 1337.0,1499.5 1339.0,1499.5 1341.0,1499.5 1343.0,1499.5 1345.0,1499.5 1347.0,1499.5 1349.0,1499.5 1351.0,1499.5 1353.0,1499.5 1355.0,1499.5 1357.0,1499.5 1359.0,1499.5 1361.0,1499.5 1363.0,1499.5 1365.0,1499.5 1367.0,1499.5 1369.0,1499.5 1371.0,1499.5 1373.0,1499.5 1375.0,1499.5 1377.0,1499.5 1379.0,1499.5 1381.0,1499.5 1383.0,1499.5 1385.0,1499.5 1387.0,1499.5 1389.0,1499.5 1391.0,1499.5 1393.0,1499.5 1395.0,1499.5 1397.0,1499.5 1399.0,1499.5 1401.0,1499.5 1403.0,1499.5 1405.0,1499.5 1407.0,1499.5 1409.0,1499.5 1411.0,1499.5 1413.0,1499.5 1415.0,1499.5 1417.0,1499.5 1419.0,1499.5 1421.0,1499.5 1423.0,1499.5 1425.0,1499.5 1427.0,1499.5 1429.0,1499.5 1431.0,1499.5 1433.0,1499.5 1435.0,1499.5 1437.0,1499.5 1439.0,1499.5 1441.0,1499.5 1443.0,1499.5 1445.0,1499.5 1447.0,1499.5 1449.0,1499.5 1451.0,1499.5 1453.0,1499.5 1455.0,1499.5 1457.0,1499.5 1459.0,1499.5 1461.0,1499.5 1463.0,1499.5 1465.0,1499.5 1467.0,1499.5 1469.0,1499.5 1471.0,1499.5 1473.0,1499.5 1475.0,1499.5 1477.0,1499.5 1479.0,1499.5 1481.0,1499.5 1483.0,1499.5 1485.0,1499.5 1487.0,1499.5" fill="none" stroke="#1a1a1a" stroke-width="3.2" stroke-linejoin="round" />
<polyline points="220.0,1490.9 221.5,1490.9 223.0,1490.9 224.5,1490.9 226.0,1490.9 227.5,1490.9 229.0,1490.9 230.5,1490.9 232.0,1490.9 233.5,1490.9 235.0,1490.9 236.5,1490.9 238.0,1490.9 239.5,1490.9 241.0,1490.9 242.5,1490.9 244.0,1490.9 245.5,1490.9 247.0,1490.9 248.5,1490.9 250.0,1490.9 251.5,1490.9 253.0,1490.9 254.5,1490.9 256.0,1490.9 257.5,1490.9 259.0,1490.8 260.5,1490.3 262.0,1488.7 263.5,1487.1 265.0,1486.6 266.5,1486.5 268.0,1486.5 269.5,1486.5 271.0,1486.5 272.5,1486.5 274.0,1486.5 275.5,1486.5 277.0,1486.5 278.5,1486.5 280.0,1486.5 281.5,1486.5 283.0,1486.5 284.5,1486.5 286.0,1486.5 287.5,1486.5 289.0,1486.5 290.5,1486.5 292.0,1486.5 293.5,1486.5 295.0,1486.5 296.5,1486.5 298.0,1486.5 299.5,1486.5 301.0,1486.5 302.5,1486.5 304.0,1486.5 305.5,1486.5 307.0,1486.5 308.5,1486.5 310.0,1486.5 311.5,1486.5 313.0,1486.5 314.5,1486.5 316.0,1486.5 317.5,1486.5 319.0,1486.5 320.5,1486.5 322.0,1486.5 323.5,1486.5 325.0,1486.5 326.5,1486.6 328.0,1486.8 329.5,1487.2 331.0,1487.8 332.5,1488.6 334.0,1489.5 335.5,1490.2 337.0,1490.5 338.5,1490.2 340.0,1489.5 341.5,1488.6 343.0,1487.8 344.5,1487.3 346.0,1487.1 347.5,1487.3 349.0,1487.8 350.5,1488.6 352.0,1489.5 353.5,1490.2 355.0,1490.5 356.5,1490.2 358.0,1489.5 359.5,1488.6 361.0,1487.8 362.5,1487.2 364.0,1486.8 365.5,1486.6 367.0,1486.5 368.5,1486.5 370.0,1486.5 371.5,1486.5 373.0,1486.5 374.5,1486.5 376.0,1486.5 377.5,1486.5 379.0,1486.5 380.5,1486.5 382.0,1486.5 383.5,1486.5 385.0,1486.5 386.5,1486.5 388.0,1486.5 389.5,1486.5 391.0,1486.5 392.5,1486.5 394.0,1486.5 395.5,1486.5 397.0,1486.5 398.5,1486.5 400.0,1486.5 401.5,1486.5 403.0,1486.5 404.5,1486.5 406.0,1486.5 407.5,1486.5 409.0,1486.5 410.5,1486.5 412.0,1486.5 413.5,1486.5 415.0,1486.4 416.5,1486.4 418.0,1486.4 419.5,1486.4 421.0,1486.4 422.5,1486.4 424.0,1486.4 425.5,1486.4 427.0,1486.4 428.5,1486.4 430.0,1486.4 431.5,1486.4 433.0,1486.4 434.5,1486.4 436.0,1486.4 437.5,1486.4 439.0,1486.4 440.5,1486.3 442.0,1486.3 443.5,1486.3 445.0,1486.3 446.5,1486.3 448.0,1486.3 449.5,1486.3 451.0,1486.3 452.5,1486.2 454.0,1486.2 455.5,1486.2 457.0,1486.2 458.5,1486.2 460.0,1486.2 461.5,1486.1 463.0,1486.1 464.5,1486.1 466.0,1486.1 467.5,1486.0 469.0,1486.0 470.5,1486.0 472.0,1486.0 473.5,1485.9 475.0,1485.9 476.5,1485.9 478.0,1485.8 479.5,1485.8 481.0,1485.7 482.5,1485.7 484.0,1485.6 485.5,1485.6 487.0,1485.5 488.5,1485.5 490.0,1485.4 491.5,1485.4 493.0,1485.3 494.5,1485.3 496.0,1485.2 497.5,1485.1 499.0,1485.0 500.5,1485.0 502.0,1484.9 503.5,1484.8 505.0,1484.7 506.5,1484.6 508.0,1484.5 509.5,1484.4 511.0,1484.3 512.5,1484.2 514.0,1484.1 515.5,1483.9 517.0,1483.8 518.5,1483.7 520.0,1483.5 521.5,1483.4 523.0,1483.2 524.5,1483.1 526.0,1482.9 527.5,1482.7 529.0,1482.5 530.5,1482.3 532.0,1482.1 533.5,1481.9 535.0,1481.7 536.5,1481.5 538.0,1481.2 539.5,1481.0 541.0,1480.7 542.5,1480.5 544.0,1480.2 545.5,1479.9 547.0,1479.6 548.5,1479.3 550.0,1478.9 551.5,1478.6 553.0,1478.2 554.5,1477.9 556.0,1477.5 557.5,1477.1 559.0,1476.7 560.5,1476.2 562.0,1475.8 563.5,1475.3 565.0,1474.9 566.5,1474.4 568.0,1473.8 569.5,1473.3 571.0,1472.8 572.5,1472.2 574.0,1471.6 575.5,1471.0 577.0,1470.4 578.5,1469.7 580.0,1469.0 581.5,1468.3 583.0,1467.6 584.5,1466.9 586.0,1466.1 587.5,1465.3 589.0,1464.5 590.5,1463.7 592.0,1462.8 593.5,1461.9 595.0,1461.0 596.5,1460.0 598.0,1459.1 599.5,1458.1 601.0,1457.0 602.5,1456.0 604.0,1454.9 605.5,1453.8 607.0,1452.6 608.5,1451.4 610.0,1450.2 611.5,1449.0 613.0,1447.7 614.5,1446.4 616.0,1445.1 617.5,1443.7 619.0,1442.3 620.5,1440.9 622.0,1439.4 623.5,1437.9 625.0,1436.4 626.5,1434.8 628.0,1433.2 629.5,1431.6 631.0,1429.9 632.5,1428.2 634.0,1426.5 635.5,1424.7 637.0,1422.9 638.5,1421.1 640.0,1419.2 641.5,1417.3 643.0,1415.4 644.5,1413.4 646.0,1411.4 647.5,1409.4 649.0,1407.3 650.5,1405.2 652.0,1403.1 653.5,1400.9 655.0,1398.7 656.5,1396.5 658.0,1394.3 659.5,1392.0 661.0,1389.7 662.5,1387.3 664.0,1385.0 665.5,1382.6 667.0,1380.2 668.5,1377.7 670.0,1375.2 671.5,1372.8 673.0,1370.2 674.5,1367.7 676.0,1365.1 677.5,1362.6 679.0,1360.0 680.5,1357.4 682.0,1354.7 683.5,1352.1 685.0,1349.4 686.5,1346.7 688.0,1344.0 689.5,1341.4 691.0,1338.6 692.5,1335.9 694.0,1333.2 695.5,1330.5 697.0,1327.7 698.5,1325.0 700.0,1322.2 701.5,1319.5 703.0,1316.8 704.5,1314.0 706.0,1311.3 707.5,1308.6 709.0,1305.8 710.5,1303.1 712.0,1300.4 713.5,1297.7 715.0,1295.0 716.5,1292.4 718.0,1289.7 719.5,1287.1 721.0,1284.4 722.5,1281.8 724.0,1279.3 725.5,1276.7 727.0,1274.2 728.5,1271.6 730.0,1269.2 731.5,1266.7 733.0,1264.3 734.5,1261.9 736.0,1259.5 737.5,1257.2 739.0,1254.9 740.5,1252.6 742.0,1250.4 743.5,1248.2 745.0,1246.1 746.5,1244.0 748.0,1241.9 749.5,1239.9 751.0,1237.9 752.5,1236.0 754.0,1234.1 755.5,1232.2 757.0,1230.4 758.5,1228.7 760.0,1227.0 761.5,1225.3 763.0,1223.7 764.5,1222.2 766.0,1220.7 767.5,1219.2 769.0,1217.8 770.5,1216.5 772.0,1215.2 773.5,1213.9 775.0,1212.7 776.5,1211.6 778.0,1210.5 779.5,1209.4 781.0,1208.5 782.5,1207.5 784.0,1206.6 785.5,1205.8 787.0,1205.0 788.5,1204.3 790.0,1203.6 791.5,1203.0 793.0,1202.4 794.5,1201.8 796.0,1201.3 797.5,1200.9 799.0,1200.5 800.5,1200.1 802.0,1199.8 803.5,1199.6 805.0,1199.3 806.5,1199.2 808.0,1199.0 809.5,1198.9 811.0,1198.8 812.5,1198.8 814.0,1198.8 815.5,1198.8 817.0,1198.9 818.5,1199.0 820.0,1199.1 821.5,1199.3 823.0,1199.4 824.5,1199.6 826.0,1199.9 827.5,1200.1 829.0,1200.4 830.5,1200.7 832.0,1201.0 833.5,1201.3 835.0,1201.6 836.5,1201.9 838.0,1202.3 839.5,1202.6 841.0,1203.0 842.5,1203.3 844.0,1203.7 845.5,1204.1 847.0,1204.4 848.5,1204.8 850.0,1205.1 851.5,1205.5 853.0,1205.8 854.5,1206.1 856.0,1206.5 857.5,1206.8 859.0,1207.0 860.5,1207.3 862.0,1207.6 863.5,1207.8 865.0,1208.0 866.5,1208.2 868.0,1208.4 869.5,1208.5 871.0,1208.6 872.5,1208.7 874.0,1208.7 875.5,1208.8 877.0,1208.7 878.5,1208.7 880.0,1208.6 881.5,1208.5 883.0,1208.4 884.5,1208.2 886.0,1208.0 887.5,1207.7 889.0,1207.4 890.5,1207.0 892.0,1206.7 893.5,1206.2 895.0,1205.8 896.5,1205.3 898.0,1204.7 899.5,1204.1 901.0,1203.5 902.5,1202.8 904.0,1202.0 905.5,1201.3 907.0,1200.4 908.5,1199.6 910.0,1198.7 911.5,1197.7 913.0,1196.7 914.5,1195.7 916.0,1194.6 917.5,1193.5 919.0,1192.3 920.5,1191.1 922.0,1189.8 923.5,1188.5 925.0,1187.2 926.5,1185.8 928.0,1184.4 929.5,1183.0 931.0,1181.5 932.5,1179.9 934.0,1178.4 935.5,1176.8 937.0,1175.2 938.5,1173.5 940.0,1171.8 941.5,1170.1 943.0,1168.3 944.5,1166.6 946.0,1164.7 947.5,1162.9 949.0,1161.1 950.5,1159.2 952.0,1157.3 953.5,1155.4 955.0,1153.4 956.5,1151.5 958.0,1149.5 959.5,1147.6 961.0,1145.6 962.5,1143.6 964.0,1141.6 965.5,1139.6 967.0,1137.6 968.5,1135.5 970.0,1133.5 971.5,1131.5 973.0,1129.5 974.5,1127.5 976.0,1125.5 977.5,1123.5 979.0,1121.5 980.5,1119.5 982.0,1117.6 983.5,1115.6 985.0,1113.7 986.5,1111.8 988.0,1109.9 989.5,1108.0 991.0,1106.2 992.5,1104.4 994.0,1102.6 995.5,1100.8 997.0,1099.1 998.5,1097.4 1000.0,1095.7 1001.5,1094.1 1003.0,1092.5 1004.5,1090.9 1006.0,1089.4 1007.5,1087.9 1009.0,1086.5 1010.5,1085.1 1012.0,1083.7 1013.5,1082.4 1015.0,1081.2 1016.5,1080.0 1018.0,1078.8 1019.5,1077.7 1021.0,1076.7 1022.5,1075.7 1024.0,1074.8 1025.5,1073.9 1027.0,1073.1 1028.5,1072.3 1030.0,1071.6 1031.5,1070.9 1033.0,1070.4 1034.5,1069.8 1036.0,1069.4 1037.5,1069.0 1039.0,1068.6 1040.5,1068.4 1042.0,1068.2 1043.5,1068.0 1045.0,1068.0 1046.5,1068.0 1048.0,1068.0 1049.5,1068.1 1051.0,1068.3 1052.5,1068.6 1054.0,1068.9 1055.5,1069.3 1057.0,1069.8 1058.5,1070.3 1060.0,1070.9 1061.5,1071.6 1063.0,1072.4 1064.5,1073.2 1066.0,1074.1 1067.5,1075.0 1069.0,1076.0 1070.5,1077.1 1072.0,1078.2 1073.5,1079.5 1075.0,1080.7 1076.5,1082.1 1078.0,1083.5 1079.5,1085.0 1081.0,1086.5 1082.5,1088.1 1084.0,1089.8 1085.5,1091.5 1087.0,1093.3 1088.5,1095.2 1090.0,1097.1 1091.5,1099.1 1093.0,1101.1 1094.5,1103.2 1096.0,1105.3 1097.5,1107.5 1099.0,1109.8 1100.5,1112.1 1102.0,1114.5 1103.5,1116.9 1105.0,1119.3 1106.5,1121.8 1108.0,1124.4 1109.5,1127.0 1111.0,1129.7 1112.5,1132.4 1114.0,1135.1 1115.5,1137.9 1117.0,1140.7 1118.5,1143.6 1120.0,1146.5 1121.5,1149.4 1123.0,1152.4 1124.5,1155.4 1126.0,1158.5 1127.5,1161.5 1129.0,1164.6 1130.5,1167.8 1132.0,1170.9 1133.5,1174.1 1135.0,1177.3 1136.5,1180.6 1138.0,1183.8 1139.5,1187.1 1141.0,1190.4 1142.5,1193.8 1144.0,1197.1 1145.5,1200.4 1147.0,1203.8 1148.5,1207.2 1150.0,1210.6 1151.5,1214.0 1153.0,1217.4 1154.5,1220.8 1156.0,1224.3 1157.5,1227.7 1159.0,1231.1 1160.5,1234.6 1162.0,1238.0 1163.5,1241.5 1165.0,1244.9 1166.5,1248.4 1168.0,1251.8 1169.5,1255.2 1171.0,1258.7 1172.5,1262.1 1174.0,1265.5 1175.5,1268.9 1177.0,1272.3 1178.5,1275.7 1180.0,1279.1 1181.5,1282.4 1183.0,1285.8 1184.5,1289.1 1186.0,1292.4 1187.5,1295.7 1189.0,1299.0 1190.5,1302.3 1192.0,1305.5 1193.5,1308.8 1195.0,1312.0 1196.5,1315.2 1198.0,1318.3 1199.5,1321.5 1201.0,1324.6 1202.5,1327.7 1204.0,1330.7 1205.5,1333.8 1207.0,1336.8 1208.5,1339.8 1210.0,1342.7 1211.5,1345.7 1213.0,1348.6 1214.5,1351.5 1216.0,1354.3 1217.5,1357.1 1219.0,1359.9 1220.5,1362.7 1222.0,1365.4 1223.5,1368.1 1225.0,1370.7 1226.5,1373.4 1228.0,1376.0 1229.5,1378.5 1231.0,1381.1 1232.5,1383.6 1234.0,1386.0 1235.5,1388.5 1237.0,1390.9 1238.5,1393.3 1240.0,1395.6 1241.5,1397.9 1243.0,1400.2 1244.5,1402.4 1246.0,1404.6 1247.5,1406.8 1249.0,1408.9 1250.5,1411.0 1252.0,1413.1 1253.5,1415.1 1255.0,1417.1 1256.5,1419.1 1258.0,1421.0 1259.5,1422.9 1261.0,1424.8 1262.5,1426.6 1264.0,1428.4 1265.5,1430.2 1267.0,1431.9 1268.5,1433.6 1270.0,1435.3 1271.5,1437.0 1273.0,1438.6 1274.5,1440.2 1276.0,1441.7 1277.5,1443.2 1279.0,1444.7 1280.5,1446.2 1282.0,1447.6 1283.5,1449.0 1285.0,1450.4 1286.5,1451.7 1288.0,1453.0 1289.5,1454.3 1291.0,1455.6 1292.5,1456.8 1294.0,1458.0 1295.5,1459.2 1297.0,1460.3 1298.5,1461.4 1300.0,1462.5 1301.5,1463.6 1303.0,1464.7 1304.5,1465.7 1306.0,1466.7 1307.5,1467.7 1309.0,1468.6 1310.5,1469.5 1312.0,1470.4 1313.5,1471.3 1315.0,1472.2 1316.5,1473.0 1318.0,1473.9 1319.5,1474.6 1321.0,1475.4 1322.5,1476.2 1324.0,1476.9 1325.5,1477.6 1327.0,1478.3 1328.5,1479.0 1330.0,1479.7 1331.5,1480.3 1333.0,1480.9 1334.5,1481.6 1336.0,1482.1 1337.5,1482.7 1339.0,1483.3 1340.5,1483.8 1342.0,1484.3 1343.5,1484.9 1345.0,1485.4 1346.5,1485.8 1348.0,1486.3 1349.5,1486.8 1351.0,1487.2 1352.5,1487.6 1354.0,1488.0 1355.5,1488.5 1357.0,1488.8 1358.5,1489.2 1360.0,1489.6 1361.5,1489.9 1363.0,1490.3 1364.5,1490.6 1366.0,1490.9 1367.5,1491.3 1369.0,1491.6 1370.5,1491.9 1372.0,1492.1 1373.5,1492.4 1375.0,1492.7 1376.5,1492.9 1378.0,1493.2 1379.5,1493.4 1381.0,1493.6 1382.5,1493.9 1384.0,1494.1 1385.5,1494.3 1387.0,1494.5 1388.5,1494.7 1390.0,1494.9 1391.5,1495.1 1393.0,1495.2 1394.5,1495.4 1396.0,1495.6 1397.5,1495.7 1399.0,1495.9 1400.5,1496.0 1402.0,1496.2 1403.5,1496.3 1405.0,1496.4 1406.5,1496.6 1408.0,1496.7 1409.5,1496.8 1411.0,1496.9 1412.5,1497.0 1414.0,1497.1 1415.5,1497.2 1417.0,1497.3 1418.5,1497.4 1420.0,1497.5 1421.5,1497.6 1423.0,1497.7 1424.5,1497.7 1426.0,1497.8 1427.5,1497.9 1429.0,1498.0 1430.5,1498.0 1432.0,1498.1 1433.5,1498.2 1435.0,1498.2 1436.5,1498.3 1438.0,1498.3 1439.5,1498.4 1441.0,1498.4 1442.5,1498.5 1444.0,1498.5 1445.5,1498.6 1447.0,1498.6 1448.5,1498.6 1450.0,1498.7 1451.5,1498.7 1453.0,1498.8 1454.5,1498.8 1456.0,1498.8 1457.5,1498.9 1459.0,1498.9 1460.5,1498.9 1462.0,1498.9 1463.5,1499.0 1465.0,1499.0 1466.5,1499.0 1468.0,1499.0 1469.5,1499.1 1471.0,1499.1 1472.5,1499.1 1474.0,1499.1 1475.5,1499.1 1477.0,1499.2 1478.5,1499.2 1480.0,1499.2 1481.5,1499.2 1483.0,1499.2 1484.5,1499.2 1486.0,1499.3 1487.5,1499.3 1489.0,1499.3 1490.5,1499.3 1492.0,1499.3 1493.5,1499.3 1495.0,1499.3 1496.5,1499.3 1498.0,1499.3 1499.5,1499.3 1501.0,1499.4 1502.5,1499.4 1504.0,1499.4 1505.5,1499.4 1507.0,1499.4 1508.5,1499.4 1510.0,1499.4 1511.5,1499.4 1513.0,1499.4 1514.5,1499.4 1516.0,1499.4 1517.5,1499.4 1519.0,1499.4 1520.5,1499.4 1522.0,1499.4 1523.5,1499.4 1525.0,1499.4 1526.5,1499.4 1528.0,1499.4 1529.5,1499.4 1531.0,1499.5 1532.5,1499.5 1534.0,1499.5 1535.5,1499.5 1537.0,1499.5 1538.5,1499.5 1540.0,1499.5 1541.5,1499.5 1543.0,1499.5 1544.5,1499.5 1546.0,1499.5 1547.5,1499.5 1549.0,1499.5 1550.5,1499.5 1552.0,1499.5 1553.5,1499.5 1555.0,1499.5 1556.5,1499.5 1558.0,1499.5 1559.5,1499.5 1561.0,1499.5 1562.5,1499.5 1564.0,1499.5 1565.5,1499.5 1567.0,1499.5 1568.5,1499.5 1570.0,1499.5 1571.5,1499.5 1573.0,1499.5 1574.5,1499.5 1576.0,1499.5 1577.5,1499.5 1579.0,1499.5 1580.5,1499.5 1582.0,1499.5 1583.5,1499.5 1585.0,1499.5 1586.5,1499.5 1588.0,1499.5 1589.5,1499.5 1591.0,1499.5 1592.5,1499.5 1594.0,1499.5 1595.5,1499.5 1597.0,1499.5 1598.5,1499.5 1600.0,1499.5 1601.5,1499.5 1603.0,1499.5 1604.5,1499.5 1606.0,1499.5 1607.5,1499.5 1609.0,1499.5" fill="none" stroke="#2e8ff2" stroke-width="3.4" stroke-linejoin="round" />
<line x1="232.6" y1="1059.8" x2="347" y2="1059.8" stroke="#e8141c" stroke-width="5"/>
<line x1="232.6" y1="1057.5" x2="347" y2="1057.5" stroke="#4a6a8a" stroke-width="2" stroke-dasharray="4 6" opacity="0.5"/>
<line x1="236.6" y1="1120.4" x2="347.0" y2="1120.4" stroke="#ff7f27" stroke-width="4.4" />
<line x1="231.0" y1="1192.8" x2="347.0" y2="1192.8" stroke="#1a1a1a" stroke-width="4.4" />
<text x="355.0" y="1074.7" font-family="'Liberation Serif','Times New Roman',serif" font-size="49" font-weight="normal" text-anchor="start" fill="#2a2a2a" textLength="80" lengthAdjust="spacing">F 1s</text>
<text x="355.0" y="1135.0" font-family="'Liberation Serif','Times New Roman',serif" font-size="49" font-weight="normal" text-anchor="start" fill="#2a2a2a" textLength="293" lengthAdjust="spacing">Metal Fluoride</text>
<text x="355.0" y="1208.0" font-family="'Liberation Serif','Times New Roman',serif" font-size="49" font-weight="normal" text-anchor="start" fill="#2a2a2a" textLength="354" lengthAdjust="spacing">Organic Fluorines</text>
<text x="1349.0" y="1117.9" font-family="'Liberation Serif','Times New Roman',serif" font-size="72" font-weight="bold" text-anchor="start" fill="#111" textLength="248" lengthAdjust="spacing">Surface</text>
<line x1="208.4" y1="1722.8" x2="1608.3" y2="1722.8" class="g"/>
<line x1="208.4" y1="1834.0" x2="1608.3" y2="1834.0" class="g"/>
<line x1="208.4" y1="1945.3" x2="1608.3" y2="1945.3" class="g"/>
<line x1="208.4" y1="2056.2" x2="1608.3" y2="2056.2" class="g"/>
<line x1="407.6" y1="1612.0" x2="407.6" y2="2167.5" class="g"/>
<line x1="607.6" y1="1612.0" x2="607.6" y2="2167.5" class="g"/>
<line x1="807.6" y1="1612.0" x2="807.6" y2="2167.5" class="g"/>
<line x1="1007.6" y1="1612.0" x2="1007.6" y2="2167.5" class="g"/>
<line x1="1207.6" y1="1612.0" x2="1207.6" y2="2167.5" class="g"/>
<line x1="1407.6" y1="1612.0" x2="1407.6" y2="2167.5" class="g"/>
<line x1="208.4" y1="1667.0" x2="219.4" y2="1667.0" stroke="#1c1c1c" stroke-width="4.2" />
<line x1="208.4" y1="1723.0" x2="228.4" y2="1723.0" stroke="#1c1c1c" stroke-width="4.2" />
<line x1="208.4" y1="1778.3" x2="219.4" y2="1778.3" stroke="#1c1c1c" stroke-width="4.2" />
<line x1="208.4" y1="1834.2" x2="228.4" y2="1834.2" stroke="#1c1c1c" stroke-width="4.2" />
<line x1="208.4" y1="1889.5" x2="219.4" y2="1889.5" stroke="#1c1c1c" stroke-width="4.2" />
<line x1="208.4" y1="1945.4" x2="228.4" y2="1945.4" stroke="#1c1c1c" stroke-width="4.2" />
<line x1="208.4" y1="2001.4" x2="219.4" y2="2001.4" stroke="#1c1c1c" stroke-width="4.2" />
<line x1="208.4" y1="2056.2" x2="228.4" y2="2056.2" stroke="#1c1c1c" stroke-width="4.2" />
<line x1="208.4" y1="2112.0" x2="219.4" y2="2112.0" stroke="#1c1c1c" stroke-width="4.2" />
<line x1="1608.3" y1="1666.9" x2="1619.3" y2="1666.9" stroke="#1c1c1c" stroke-width="4.2" />
<line x1="1608.3" y1="1722.8" x2="1628.3" y2="1722.8" stroke="#1c1c1c" stroke-width="4.2" />
<line x1="1608.3" y1="1778.2" x2="1619.3" y2="1778.2" stroke="#1c1c1c" stroke-width="4.2" />
<line x1="1608.3" y1="1834.1" x2="1628.3" y2="1834.1" stroke="#1c1c1c" stroke-width="4.2" />
<line x1="1608.3" y1="1889.3" x2="1619.3" y2="1889.3" stroke="#1c1c1c" stroke-width="4.2" />
<line x1="1608.3" y1="1945.2" x2="1628.3" y2="1945.2" stroke="#1c1c1c" stroke-width="4.2" />
<line x1="1608.3" y1="2000.4" x2="1619.3" y2="2000.4" stroke="#1c1c1c" stroke-width="4.2" />
<line x1="1608.3" y1="2056.3" x2="1628.3" y2="2056.3" stroke="#1c1c1c" stroke-width="4.2" />
<line x1="1608.3" y1="2111.8" x2="1619.3" y2="2111.8" stroke="#1c1c1c" stroke-width="4.2" />
<line x1="307.6" y1="2167.5" x2="307.6" y2="2178.5" stroke="#1c1c1c" stroke-width="4.2" />
<line x1="407.6" y1="2167.5" x2="407.6" y2="2186.5" stroke="#1c1c1c" stroke-width="4.2" />
<line x1="507.6" y1="2167.5" x2="507.6" y2="2178.5" stroke="#1c1c1c" stroke-width="4.2" />
<line x1="607.6" y1="2167.5" x2="607.6" y2="2186.5" stroke="#1c1c1c" stroke-width="4.2" />
<line x1="707.6" y1="2167.5" x2="707.6" y2="2178.5" stroke="#1c1c1c" stroke-width="4.2" />
<line x1="807.6" y1="2167.5" x2="807.6" y2="2186.5" stroke="#1c1c1c" stroke-width="4.2" />
<line x1="907.6" y1="2167.5" x2="907.6" y2="2178.5" stroke="#1c1c1c" stroke-width="4.2" />
<line x1="1007.6" y1="2167.5" x2="1007.6" y2="2186.5" stroke="#1c1c1c" stroke-width="4.2" />
<line x1="1107.6" y1="2167.5" x2="1107.6" y2="2178.5" stroke="#1c1c1c" stroke-width="4.2" />
<line x1="1207.6" y1="2167.5" x2="1207.6" y2="2186.5" stroke="#1c1c1c" stroke-width="4.2" />
<line x1="1307.6" y1="2167.5" x2="1307.6" y2="2178.5" stroke="#1c1c1c" stroke-width="4.2" />
<line x1="1407.6" y1="2167.5" x2="1407.6" y2="2186.5" stroke="#1c1c1c" stroke-width="4.2" />
<line x1="1507.6" y1="2167.5" x2="1507.6" y2="2178.5" stroke="#1c1c1c" stroke-width="4.2" />
<line x1="350.0" y1="1612.0" x2="350.0" y2="1622.0" stroke="#1c1c1c" stroke-width="4.2" />
<line x1="490.0" y1="1612.0" x2="490.0" y2="1632.0" stroke="#1c1c1c" stroke-width="4.2" />
<line x1="630.0" y1="1612.0" x2="630.0" y2="1622.0" stroke="#1c1c1c" stroke-width="4.2" />
<line x1="770.0" y1="1612.0" x2="770.0" y2="1632.0" stroke="#1c1c1c" stroke-width="4.2" />
<line x1="910.0" y1="1612.0" x2="910.0" y2="1622.0" stroke="#1c1c1c" stroke-width="4.2" />
<line x1="1050.0" y1="1612.0" x2="1050.0" y2="1632.0" stroke="#1c1c1c" stroke-width="4.2" />
<line x1="1190.0" y1="1612.0" x2="1190.0" y2="1622.0" stroke="#1c1c1c" stroke-width="4.2" />
<line x1="1330.0" y1="1612.0" x2="1330.0" y2="1632.0" stroke="#1c1c1c" stroke-width="4.2" />
<line x1="1470.0" y1="1612.0" x2="1470.0" y2="1622.0" stroke="#1c1c1c" stroke-width="4.2" />
<line x1="208.4" y1="1612.0" x2="208.4" y2="2186.5" stroke="#1c1c1c" stroke-width="4.6" />
<line x1="1608.3" y1="1612.0" x2="1608.3" y2="2186.0" stroke="#1c1c1c" stroke-width="4.6" />
<line x1="208.4" y1="1612.0" x2="1631.6" y2="1612.0" stroke="#1c1c1c" stroke-width="4.6" />
<line x1="208.4" y1="2167.5" x2="1628.0" y2="2167.5" stroke="#1c1c1c" stroke-width="4.6" />
<text x="207.6" y="2259.0" font-family="'Liberation Serif','Times New Roman',serif" font-size="73" font-weight="normal" text-anchor="middle" fill="#111" textLength="112" lengthAdjust="spacing">694</text>
<text x="407.6" y="2259.0" font-family="'Liberation Serif','Times New Roman',serif" font-size="73" font-weight="normal" text-anchor="middle" fill="#111" textLength="112" lengthAdjust="spacing">692</text>
<text x="607.6" y="2259.0" font-family="'Liberation Serif','Times New Roman',serif" font-size="73" font-weight="normal" text-anchor="middle" fill="#111" textLength="112" lengthAdjust="spacing">690</text>
<text x="807.6" y="2259.0" font-family="'Liberation Serif','Times New Roman',serif" font-size="73" font-weight="normal" text-anchor="middle" fill="#111" textLength="112" lengthAdjust="spacing">688</text>
<text x="1007.6" y="2259.0" font-family="'Liberation Serif','Times New Roman',serif" font-size="73" font-weight="normal" text-anchor="middle" fill="#111" textLength="112" lengthAdjust="spacing">686</text>
<text x="1207.6" y="2259.0" font-family="'Liberation Serif','Times New Roman',serif" font-size="73" font-weight="normal" text-anchor="middle" fill="#111" textLength="112" lengthAdjust="spacing">684</text>
<text x="1407.6" y="2259.0" font-family="'Liberation Serif','Times New Roman',serif" font-size="73" font-weight="normal" text-anchor="middle" fill="#111" textLength="112" lengthAdjust="spacing">682</text>
<text x="1607.6" y="2259.0" font-family="'Liberation Serif','Times New Roman',serif" font-size="73" font-weight="normal" text-anchor="middle" fill="#111" textLength="112" lengthAdjust="spacing">680</text>
<text x="585.0" y="2378.6" font-family="'Liberation Serif','Times New Roman',serif" font-size="66" font-weight="bold" text-anchor="start" fill="#111" textLength="650" lengthAdjust="spacing">Binding Energy (eV)</text>
<polyline points="560.0,2068.0 562.0,2067.9 564.0,2067.7 566.0,2067.6 568.0,2067.4 570.0,2067.2 572.0,2067.1 574.0,2066.9 576.0,2066.7 578.0,2066.5 580.0,2066.3 582.0,2066.1 584.0,2065.9 586.0,2065.6 588.0,2065.4 590.0,2065.1 592.0,2064.9 594.0,2064.6 596.0,2064.3 598.0,2064.0 600.0,2063.7 602.0,2063.4 604.0,2063.0 606.0,2062.7 608.0,2062.3 610.0,2061.9 612.0,2061.5 614.0,2061.1 616.0,2060.7 618.0,2060.2 620.0,2059.7 622.0,2059.2 624.0,2058.7 626.0,2058.2 628.0,2057.7 630.0,2057.1 632.0,2056.5 634.0,2055.9 636.0,2055.2 638.0,2054.6 640.0,2053.9 642.0,2053.1 644.0,2052.4 646.0,2051.6 648.0,2050.8 650.0,2050.0 652.0,2049.1 654.0,2048.2 656.0,2047.3 658.0,2046.3 660.0,2045.3 662.0,2044.3 664.0,2043.2 666.0,2042.1 668.0,2040.9 670.0,2039.8 672.0,2038.5 674.0,2037.3 676.0,2036.0 678.0,2034.6 680.0,2033.2 682.0,2031.8 684.0,2030.3 686.0,2028.7 688.0,2027.2 690.0,2025.5 692.0,2023.9 694.0,2022.1 696.0,2020.4 698.0,2018.5 700.0,2016.6 702.0,2014.7 704.0,2012.7 706.0,2010.7 708.0,2008.6 710.0,2006.4 712.0,2004.2 714.0,2002.0 716.0,1999.6 718.0,1997.3 720.0,1994.8 722.0,1992.3 724.0,1989.8 726.0,1987.2 728.0,1984.5 730.0,1981.7 732.0,1978.9 734.0,1976.1 736.0,1973.2 738.0,1970.2 740.0,1967.2 742.0,1964.1 744.0,1960.9 746.0,1957.7 748.0,1954.4 750.0,1951.1 752.0,1947.7 754.0,1944.3 756.0,1940.7 758.0,1937.2 760.0,1933.6" fill="none" stroke="#ff7f27" stroke-width="3.2" stroke-linejoin="round" />
<polyline points="508.0,2067.0 540.0,2064.0 567.0,2061.5 663.0,2062.5 700.0,2068.0 769.0,2071.5 800.0,2073.2 1283.0,2073.3" fill="none" stroke="#1a1a1a" stroke-width="3.2" stroke-linejoin="round" />
<polyline points="208.4,2071.8 210.4,2071.8 212.4,2071.8 214.4,2071.8 216.4,2071.8 218.4,2071.8 220.4,2071.8 222.4,2071.7 224.4,2071.7 226.4,2071.7 228.4,2071.7 230.4,2071.7 232.4,2071.7 234.4,2071.7 236.4,2071.7 238.4,2071.7 240.4,2071.7 242.4,2071.7 244.4,2071.6 246.4,2071.6 248.4,2071.6 250.4,2071.6 252.4,2071.6 254.4,2071.6 256.4,2071.6 258.4,2071.6 260.4,2071.6 262.4,2071.6 264.4,2071.5 266.4,2071.5 268.4,2071.5 270.4,2071.5 272.4,2071.5 274.4,2071.5 276.4,2071.5 278.4,2071.5 280.4,2071.5 282.4,2071.4 284.4,2071.4 286.4,2071.4 288.4,2071.4 290.4,2071.4 292.4,2071.4 294.4,2071.4 296.4,2071.4 298.4,2071.4 300.4,2071.3 302.4,2071.3 304.4,2071.3 306.4,2071.3 308.4,2071.3 310.4,2071.3 312.4,2071.3 314.4,2071.3 316.4,2071.2 318.4,2071.2 320.4,2071.2 322.4,2071.2 324.4,2071.2 326.4,2071.2 328.4,2071.2 330.4,2071.1 332.4,2071.1 334.4,2071.1 336.4,2071.1 338.4,2071.1 340.4,2071.1 342.4,2071.1 344.4,2071.0 346.4,2071.0 348.4,2071.0 350.4,2071.0 352.4,2071.0 354.4,2071.0 356.4,2071.0 358.4,2070.9 360.4,2070.9 362.4,2070.9 364.4,2070.9 366.4,2070.9 368.4,2070.9 370.4,2070.8 372.4,2070.8 374.4,2070.8 376.4,2070.8 378.4,2070.8 380.4,2070.7 382.4,2070.7 384.4,2070.7 386.4,2070.7 388.4,2070.7 390.4,2070.7 392.4,2070.6 394.4,2070.6 396.4,2070.6 398.4,2070.6 400.4,2070.6 402.4,2070.5 404.4,2070.5 406.4,2070.5 408.4,2070.5 410.4,2070.4 412.4,2070.4 414.4,2070.4 416.4,2070.4 418.4,2070.4 420.4,2070.3 422.4,2070.3 424.4,2070.3 426.4,2070.3 428.4,2070.2 430.4,2070.2 432.4,2070.2 434.4,2070.2 436.4,2070.1 438.4,2070.1 440.4,2070.1 442.4,2070.1 444.4,2070.0 446.4,2070.0 448.4,2070.0 450.4,2070.0 452.4,2069.9 454.4,2069.9 456.4,2069.9 458.4,2069.8 460.4,2069.8 462.4,2069.8 464.4,2069.7 466.4,2069.7 468.4,2069.7 470.4,2069.6 472.4,2069.6 474.4,2069.6 476.4,2069.5 478.4,2069.5 480.4,2069.5 482.4,2069.4 484.4,2069.4 486.4,2069.3 488.4,2069.3 490.4,2069.3 492.4,2069.2 494.4,2069.2 496.4,2069.1 498.4,2069.1 500.4,2069.0 502.4,2069.0 504.4,2068.9 506.4,2068.9 508.4,2068.8 510.4,2068.8 512.4,2068.7 514.4,2068.6 516.4,2068.6 518.4,2068.5 520.4,2068.4 522.4,2068.4 524.4,2068.3 526.4,2068.2 528.4,2068.2 530.4,2068.1 532.4,2068.0 534.4,2067.9 536.4,2067.8 538.4,2067.7 540.4,2067.7 542.4,2067.6 544.4,2067.5 546.4,2067.3 548.4,2067.2 550.4,2067.1 552.4,2067.0 554.4,2066.9 556.4,2066.8 558.4,2066.6 560.4,2066.5 562.4,2066.3 564.4,2066.2 566.4,2066.0 568.4,2065.9 570.4,2065.7 572.4,2065.5 574.4,2065.4 576.4,2065.2 578.4,2065.0 580.4,2064.8 582.4,2064.5 584.4,2064.3 586.4,2064.1 588.4,2063.8 590.4,2063.6 592.4,2063.3 594.4,2063.0 596.4,2062.7 598.4,2062.4 600.4,2062.1 602.4,2061.8 604.4,2061.4 606.4,2061.1 608.4,2060.7 610.4,2060.3 612.4,2059.9 614.4,2059.5 616.4,2059.1 618.4,2058.6 620.4,2058.1 622.4,2057.6 624.4,2057.1 626.4,2056.6 628.4,2056.0 630.4,2055.5 632.4,2054.9 634.4,2054.2 636.4,2053.6 638.4,2052.9 640.4,2052.2 642.4,2051.5 644.4,2050.7 646.4,2050.0 648.4,2049.1 650.4,2048.3 652.4,2047.4 654.4,2046.5 656.4,2045.6 658.4,2044.6 660.4,2043.6 662.4,2042.6 664.4,2041.5 666.4,2040.4 668.4,2039.2 670.4,2038.0 672.4,2036.8 674.4,2035.5 676.4,2034.2 678.4,2032.8 680.4,2031.4 682.4,2030.0 684.4,2028.5 686.4,2026.9 688.4,2025.3 690.4,2023.7 692.4,2022.0 694.4,2020.3 696.4,2018.5 698.4,2016.7 700.4,2014.8 702.4,2012.8 704.4,2010.8 706.4,2008.8 708.4,2006.7 710.4,2004.5 712.4,2002.3 714.4,2000.0 716.4,1997.7 718.4,1995.3 720.4,1992.8 722.4,1990.3 724.4,1987.8 726.4,1985.1 728.4,1982.4 730.4,1979.7 732.4,1976.9 734.4,1974.0 736.4,1971.1 738.4,1968.1 740.4,1965.1 742.4,1961.9 744.4,1958.8 746.4,1955.5 748.4,1952.3 750.4,1948.9 752.4,1945.5 754.4,1942.1 756.4,1938.5 758.4,1935.0 760.4,1931.3 762.4,1927.7 764.4,1923.9 766.4,1920.1 768.4,1916.3 770.4,1912.4 772.4,1908.5 774.4,1904.5 776.4,1900.5 778.4,1896.4 780.4,1892.3 782.4,1888.1 784.4,1883.9 786.4,1879.7 788.4,1875.4 790.4,1871.1 792.4,1866.8 794.4,1862.4 796.4,1858.0 798.4,1853.6 800.4,1849.2 802.4,1844.7 804.4,1840.2 806.4,1835.8 808.4,1831.3 810.4,1826.8 812.4,1822.3 814.4,1817.7 816.4,1813.2 818.4,1808.7 820.4,1804.2 822.4,1799.7 824.4,1795.3 826.4,1790.8 828.4,1786.4 830.4,1782.0 832.4,1777.6 834.4,1773.2 836.4,1768.9 838.4,1764.7 840.4,1760.4 842.4,1756.2 844.4,1752.1 846.4,1748.0 848.4,1744.0 850.4,1740.0 852.4,1736.1 854.4,1732.3 856.4,1728.5 858.4,1724.9 860.4,1721.2 862.4,1717.7 864.4,1714.3 866.4,1711.0 868.4,1707.7 870.4,1704.6 872.4,1701.5 874.4,1698.6 876.4,1695.8 878.4,1693.0 880.4,1690.4 882.4,1688.0 884.4,1685.6 886.4,1683.4 888.4,1681.3 890.4,1679.3 892.4,1677.4 894.4,1675.7 896.4,1674.1 898.4,1672.7 900.4,1671.4 902.4,1670.3 904.4,1669.3 906.4,1668.4 908.4,1667.7 910.4,1667.1 912.4,1666.7 914.4,1666.4 916.4,1666.3 918.4,1666.3 920.4,1666.5 922.4,1666.8 924.4,1667.3 926.4,1667.9 928.4,1668.7 930.4,1669.6 932.4,1670.7 934.4,1671.9 936.4,1673.3 938.4,1674.8 940.4,1676.4 942.4,1678.2 944.4,1680.1 946.4,1682.1 948.4,1684.2 950.4,1686.5 952.4,1688.9 954.4,1691.5 956.4,1694.1 958.4,1696.9 960.4,1699.8 962.4,1702.7 964.4,1705.8 966.4,1709.0 968.4,1712.3 970.4,1715.7 972.4,1719.1 974.4,1722.7 976.4,1726.3 978.4,1730.0 980.4,1733.8 982.4,1737.7 984.4,1741.6 986.4,1745.6 988.4,1749.6 990.4,1753.7 992.4,1757.9 994.4,1762.1 996.4,1766.4 998.4,1770.7 1000.4,1775.0 1002.4,1779.3 1004.4,1783.7 1006.4,1788.2 1008.4,1792.6 1010.4,1797.1 1012.4,1801.5 1014.4,1806.0 1016.4,1810.5 1018.4,1815.0 1020.4,1819.5 1022.4,1824.1 1024.4,1828.6 1026.4,1833.1 1028.4,1837.6 1030.4,1842.0 1032.4,1846.5 1034.4,1850.9 1036.4,1855.4 1038.4,1859.8 1040.4,1864.1 1042.4,1868.5 1044.4,1872.8 1046.4,1877.1 1048.4,1881.4 1050.4,1885.6 1052.4,1889.8 1054.4,1893.9 1056.4,1898.0 1058.4,1902.1 1060.4,1906.1 1062.4,1910.1 1064.4,1914.0 1066.4,1917.8 1068.4,1921.7 1070.4,1925.4 1072.4,1929.1 1074.4,1932.8 1076.4,1936.4 1078.4,1940.0 1080.4,1943.4 1082.4,1946.9 1084.4,1950.3 1086.4,1953.6 1088.4,1956.8 1090.4,1960.0 1092.4,1963.2 1094.4,1966.3 1096.4,1969.3 1098.4,1972.3 1100.4,1975.2 1102.4,1978.0 1104.4,1980.8 1106.4,1983.5 1108.4,1986.2 1110.4,1988.8 1112.4,1991.3 1114.4,1993.8 1116.4,1996.2 1118.4,1998.6 1120.4,2000.9 1122.4,2003.2 1124.4,2005.4 1126.4,2007.5 1128.4,2009.6 1130.4,2011.6 1132.4,2013.6 1134.4,2015.5 1136.4,2017.4 1138.4,2019.2 1140.4,2021.0 1142.4,2022.7 1144.4,2024.4 1146.4,2026.0 1148.4,2027.6 1150.4,2029.1 1152.4,2030.6 1154.4,2032.0 1156.4,2033.4 1158.4,2034.7 1160.4,2036.0 1162.4,2037.3 1164.4,2038.5 1166.4,2039.7 1168.4,2040.8 1170.4,2041.9 1172.4,2043.0 1174.4,2044.0 1176.4,2045.0 1178.4,2046.0 1180.4,2046.9 1182.4,2047.8 1184.4,2048.6 1186.4,2049.5 1188.4,2050.3 1190.4,2051.0 1192.4,2051.8 1194.4,2052.5 1196.4,2053.2 1198.4,2053.9 1200.4,2054.5 1202.4,2055.1 1204.4,2055.7 1206.4,2056.3 1208.4,2056.8 1210.4,2057.3 1212.4,2057.8 1214.4,2058.3 1216.4,2058.8 1218.4,2059.2 1220.4,2059.7 1222.4,2060.1 1224.4,2060.5 1226.4,2060.9 1228.4,2061.2 1230.4,2061.6 1232.4,2061.9 1234.4,2062.2 1236.4,2062.6 1238.4,2062.9 1240.4,2063.1 1242.4,2063.4 1244.4,2063.7 1246.4,2063.9 1248.4,2064.2 1250.4,2064.4 1252.4,2064.6 1254.4,2064.8 1256.4,2065.0 1258.4,2065.2 1260.4,2065.4 1262.4,2065.6 1264.4,2065.8 1266.4,2065.9 1268.4,2066.1 1270.4,2066.3 1272.4,2066.4 1274.4,2066.5 1276.4,2066.7 1278.4,2066.8 1280.4,2066.9 1282.4,2067.1 1284.4,2067.2 1286.4,2067.3 1288.4,2067.4 1290.4,2067.5 1292.4,2067.6 1294.4,2067.7 1296.4,2067.8 1298.4,2067.9 1300.4,2068.0 1302.4,2068.0 1304.4,2068.1 1306.4,2068.2 1308.4,2068.3 1310.4,2068.3 1312.4,2068.4 1314.4,2068.5 1316.4,2068.5 1318.4,2068.6 1320.4,2068.7 1322.4,2068.7 1324.4,2068.8 1326.4,2068.8 1328.4,2068.9 1330.4,2068.9 1332.4,2069.0 1334.4,2069.0 1336.4,2069.1 1338.4,2069.1 1340.4,2069.2 1342.4,2069.2 1344.4,2069.3 1346.4,2069.3 1348.4,2069.4 1350.4,2069.4 1352.4,2069.4 1354.4,2069.5 1356.4,2069.5 1358.4,2069.5 1360.4,2069.6 1362.4,2069.6 1364.4,2069.7 1366.4,2069.7 1368.4,2069.7 1370.4,2069.8 1372.4,2069.8 1374.4,2069.8 1376.4,2069.8 1378.4,2069.9 1380.4,2069.9 1382.4,2069.9 1384.4,2070.0 1386.4,2070.0 1388.4,2070.0 1390.4,2070.0 1392.4,2070.1 1394.4,2070.1 1396.4,2070.1 1398.4,2070.2 1400.4,2070.2 1402.4,2070.2 1404.4,2070.2 1406.4,2070.3 1408.4,2070.3 1410.4,2070.3 1412.4,2070.3 1414.4,2070.3 1416.4,2070.4 1418.4,2070.4 1420.4,2070.4 1422.4,2070.4 1424.4,2070.5 1426.4,2070.5 1428.4,2070.5 1430.4,2070.5 1432.4,2070.5 1434.4,2070.6 1436.4,2070.6 1438.4,2070.6 1440.4,2070.6 1442.4,2070.6 1444.4,2070.7 1446.4,2070.7 1448.4,2070.7 1450.4,2070.7 1452.4,2070.7 1454.4,2070.8 1456.4,2070.8 1458.4,2070.8 1460.4,2070.8 1462.4,2070.8 1464.4,2070.8 1466.4,2070.9 1468.4,2070.9 1470.4,2070.9 1472.4,2070.9 1474.4,2070.9 1476.4,2070.9 1478.4,2071.0 1480.4,2071.0 1482.4,2071.0 1484.4,2071.0 1486.4,2071.0 1488.4,2071.0 1490.4,2071.1 1492.4,2071.1 1494.4,2071.1 1496.4,2071.1 1498.4,2071.1 1500.4,2071.1 1502.4,2071.1 1504.4,2071.2 1506.4,2071.2 1508.4,2071.2 1510.4,2071.2 1512.4,2071.2 1514.4,2071.2 1516.4,2071.2 1518.4,2071.2 1520.4,2071.3 1522.4,2071.3 1524.4,2071.3 1526.4,2071.3 1528.4,2071.3 1530.4,2071.3 1532.4,2071.3 1534.4,2071.3 1536.4,2071.4 1538.4,2071.4 1540.4,2071.4 1542.4,2071.4 1544.4,2071.4 1546.4,2071.4 1548.4,2071.4 1550.4,2071.4 1552.4,2071.5 1554.4,2071.5 1556.4,2071.5 1558.4,2071.5 1560.4,2071.5 1562.4,2071.5 1564.4,2071.5 1566.4,2071.5 1568.4,2071.5 1570.4,2071.5 1572.4,2071.6 1574.4,2071.6 1576.4,2071.6 1578.4,2071.6 1580.4,2071.6 1582.4,2071.6 1584.4,2071.6 1586.4,2071.6 1588.4,2071.6 1590.4,2071.6 1592.4,2071.7 1594.4,2071.7 1596.4,2071.7 1598.4,2071.7 1600.4,2071.7 1602.4,2071.7 1604.4,2071.7 1606.4,2071.7 1608.3,2071.7" fill="none" stroke="#f21c1c" stroke-width="3.2" stroke-linejoin="round" />
<text x="1209.5" y="1711.2" font-family="'Liberation Serif','Times New Roman',serif" font-size="72" font-weight="bold" text-anchor="start" fill="#111" textLength="363.5" lengthAdjust="spacing">30 Sec Etch</text>
<text x="147.3" y="1956.0" font-family="'Liberation Serif','Times New Roman',serif" font-size="79" font-weight="bold" text-anchor="start" fill="#111" textLength="652" lengthAdjust="spacing" transform="rotate(-90 147.3 1956.0)">Counts (arb. units)</text>
<line x1="208.0" y1="2465.9" x2="1609.0" y2="2465.9" class="g"/>
<line x1="208.0" y1="2543.2" x2="1609.0" y2="2543.2" class="g"/>
<line x1="208.0" y1="2615.8" x2="1609.0" y2="2615.8" class="g"/>
<line x1="208.0" y1="2692.9" x2="1609.0" y2="2692.9" class="g"/>
<line x1="208.0" y1="2765.5" x2="1609.0" y2="2765.5" class="g"/>
<line x1="208.0" y1="2842.6" x2="1609.0" y2="2842.6" class="g"/>
<line x1="208.0" y1="2915.2" x2="1609.0" y2="2915.2" class="g"/>
<line x1="407.7" y1="2432.0" x2="407.7" y2="2991.9" class="g"/>
<line x1="607.8" y1="2432.0" x2="607.8" y2="2991.9" class="g"/>
<line x1="808.0" y1="2432.0" x2="808.0" y2="2991.9" class="g"/>
<line x1="1008.1" y1="2432.0" x2="1008.1" y2="2991.9" class="g"/>
<line x1="1208.3" y1="2432.0" x2="1208.3" y2="2991.9" class="g"/>
<line x1="1408.5" y1="2432.0" x2="1408.5" y2="2991.9" class="g"/>
<line x1="208.0" y1="2487.7" x2="219.0" y2="2487.7" stroke="#1c1c1c" stroke-width="4.2" />
<line x1="208.0" y1="2543.5" x2="228.0" y2="2543.5" stroke="#1c1c1c" stroke-width="4.2" />
<line x1="208.0" y1="2598.9" x2="219.0" y2="2598.9" stroke="#1c1c1c" stroke-width="4.2" />
<line x1="208.0" y1="2654.2" x2="228.0" y2="2654.2" stroke="#1c1c1c" stroke-width="4.2" />
<line x1="208.0" y1="2709.7" x2="219.0" y2="2709.7" stroke="#1c1c1c" stroke-width="4.2" />
<line x1="208.0" y1="2765.2" x2="228.0" y2="2765.2" stroke="#1c1c1c" stroke-width="4.2" />
<line x1="208.0" y1="2820.7" x2="219.0" y2="2820.7" stroke="#1c1c1c" stroke-width="4.2" />
<line x1="208.0" y1="2876.2" x2="228.0" y2="2876.2" stroke="#1c1c1c" stroke-width="4.2" />
<line x1="208.0" y1="2931.7" x2="219.0" y2="2931.7" stroke="#1c1c1c" stroke-width="4.2" />
<line x1="1609.0" y1="2465.9" x2="1632.0" y2="2465.9" stroke="#1c1c1c" stroke-width="4.2" />
<line x1="1609.0" y1="2543.2" x2="1632.0" y2="2543.2" stroke="#1c1c1c" stroke-width="4.2" />
<line x1="1609.0" y1="2615.8" x2="1632.0" y2="2615.8" stroke="#1c1c1c" stroke-width="4.2" />
<line x1="1609.0" y1="2692.9" x2="1632.0" y2="2692.9" stroke="#1c1c1c" stroke-width="4.2" />
<line x1="1609.0" y1="2765.5" x2="1632.0" y2="2765.5" stroke="#1c1c1c" stroke-width="4.2" />
<line x1="1609.0" y1="2842.6" x2="1632.0" y2="2842.6" stroke="#1c1c1c" stroke-width="4.2" />
<line x1="1609.0" y1="2915.2" x2="1632.0" y2="2915.2" stroke="#1c1c1c" stroke-width="4.2" />
<line x1="1609.0" y1="2991.9" x2="1632.0" y2="2991.9" stroke="#1c1c1c" stroke-width="4.2" />
<line x1="1609.0" y1="2505.0" x2="1619.0" y2="2505.0" stroke="#1c1c1c" stroke-width="4.2" />
<line x1="1609.0" y1="2581.8" x2="1619.0" y2="2581.8" stroke="#1c1c1c" stroke-width="4.2" />
<line x1="1609.0" y1="2654.5" x2="1619.0" y2="2654.5" stroke="#1c1c1c" stroke-width="4.2" />
<line x1="1609.0" y1="2727.0" x2="1619.0" y2="2727.0" stroke="#1c1c1c" stroke-width="4.2" />
<line x1="1609.0" y1="2804.0" x2="1619.0" y2="2804.0" stroke="#1c1c1c" stroke-width="4.2" />
<line x1="1609.0" y1="2876.8" x2="1619.0" y2="2876.8" stroke="#1c1c1c" stroke-width="4.2" />
<line x1="1609.0" y1="2953.7" x2="1619.0" y2="2953.7" stroke="#1c1c1c" stroke-width="4.2" />
<line x1="307.6" y1="2991.9" x2="307.6" y2="3000.9" stroke="#1c1c1c" stroke-width="4.2" />
<line x1="407.7" y1="2991.9" x2="407.7" y2="3009.9" stroke="#1c1c1c" stroke-width="4.2" />
<line x1="507.7" y1="2991.9" x2="507.7" y2="3000.9" stroke="#1c1c1c" stroke-width="4.2" />
<line x1="607.8" y1="2991.9" x2="607.8" y2="3009.9" stroke="#1c1c1c" stroke-width="4.2" />
<line x1="707.9" y1="2991.9" x2="707.9" y2="3000.9" stroke="#1c1c1c" stroke-width="4.2" />
<line x1="808.0" y1="2991.9" x2="808.0" y2="3009.9" stroke="#1c1c1c" stroke-width="4.2" />
<line x1="908.1" y1="2991.9" x2="908.1" y2="3000.9" stroke="#1c1c1c" stroke-width="4.2" />
<line x1="1008.1" y1="2991.9" x2="1008.1" y2="3009.9" stroke="#1c1c1c" stroke-width="4.2" />
<line x1="1108.2" y1="2991.9" x2="1108.2" y2="3000.9" stroke="#1c1c1c" stroke-width="4.2" />
<line x1="1208.3" y1="2991.9" x2="1208.3" y2="3009.9" stroke="#1c1c1c" stroke-width="4.2" />
<line x1="1308.4" y1="2991.9" x2="1308.4" y2="3000.9" stroke="#1c1c1c" stroke-width="4.2" />
<line x1="1408.5" y1="2991.9" x2="1408.5" y2="3009.9" stroke="#1c1c1c" stroke-width="4.2" />
<line x1="1508.5" y1="2991.9" x2="1508.5" y2="3000.9" stroke="#1c1c1c" stroke-width="4.2" />
<line x1="350.0" y1="2432.0" x2="350.0" y2="2442.0" stroke="#1c1c1c" stroke-width="4.2" />
<line x1="490.0" y1="2432.0" x2="490.0" y2="2452.0" stroke="#1c1c1c" stroke-width="4.2" />
<line x1="630.0" y1="2432.0" x2="630.0" y2="2442.0" stroke="#1c1c1c" stroke-width="4.2" />
<line x1="770.0" y1="2432.0" x2="770.0" y2="2452.0" stroke="#1c1c1c" stroke-width="4.2" />
<line x1="910.0" y1="2432.0" x2="910.0" y2="2442.0" stroke="#1c1c1c" stroke-width="4.2" />
<line x1="1050.0" y1="2432.0" x2="1050.0" y2="2452.0" stroke="#1c1c1c" stroke-width="4.2" />
<line x1="1190.0" y1="2432.0" x2="1190.0" y2="2442.0" stroke="#1c1c1c" stroke-width="4.2" />
<line x1="1330.0" y1="2432.0" x2="1330.0" y2="2452.0" stroke="#1c1c1c" stroke-width="4.2" />
<line x1="1470.0" y1="2432.0" x2="1470.0" y2="2442.0" stroke="#1c1c1c" stroke-width="4.2" />
<line x1="208.0" y1="2432.0" x2="208.0" y2="3010.0" stroke="#1c1c1c" stroke-width="4.6" />
<line x1="1609.0" y1="2432.0" x2="1609.0" y2="3010.0" stroke="#1c1c1c" stroke-width="4.6" />
<line x1="208.0" y1="2432.0" x2="1619.0" y2="2432.0" stroke="#1c1c1c" stroke-width="4.6" />
<line x1="208.0" y1="2991.9" x2="1609.0" y2="2991.9" stroke="#1c1c1c" stroke-width="4.6" />
<polyline points="466.0,2923.5 468.0,2923.5 470.0,2923.5 472.0,2923.5 474.0,2923.6 476.0,2923.6 478.0,2923.6 480.0,2923.6 482.0,2923.6 484.0,2923.7 486.0,2923.7 488.0,2923.7 490.0,2923.7 492.0,2923.8 494.0,2923.8 496.0,2923.8 498.0,2923.8 500.0,2923.9 502.0,2923.9 504.0,2923.9 506.0,2924.0 508.0,2924.0 510.0,2924.0 512.0,2924.1 514.0,2924.1 516.0,2924.1 518.0,2924.2 520.0,2924.2 522.0,2924.2 524.0,2924.3 526.0,2924.3 528.0,2924.3 530.0,2924.4 532.0,2924.4 534.0,2924.5 536.0,2924.5 538.0,2924.5 540.0,2924.6 542.0,2924.6 544.0,2924.7 546.0,2924.7 548.0,2924.8 550.0,2924.8 552.0,2924.9 554.0,2924.9 556.0,2925.0 558.0,2925.0 560.0,2925.1 562.0,2925.1 564.0,2925.2 566.0,2925.2 568.0,2925.3 570.0,2925.3 572.0,2925.4 574.0,2925.5 576.0,2925.5 578.0,2925.6 580.0,2925.6 582.0,2925.7 584.0,2925.8 586.0,2925.8 588.0,2925.9 590.0,2926.0 592.0,2926.0 594.0,2926.1 596.0,2926.2 598.0,2926.2 600.0,2926.3 602.0,2926.4 604.0,2926.4 606.0,2926.5 608.0,2926.6 610.0,2926.6 612.0,2926.7 614.0,2926.8 616.0,2926.9 618.0,2926.9 620.0,2927.0 622.0,2927.1 624.0,2927.2 626.0,2927.2 628.0,2927.3 630.0,2927.4 632.0,2927.5 634.0,2927.6 636.0,2927.6 638.0,2927.7 640.0,2927.8 642.0,2927.9 644.0,2928.0 646.0,2928.1 648.0,2928.1 650.0,2928.2 652.0,2928.3 654.0,2928.4 656.0,2928.5 658.0,2928.6 660.0,2928.6 662.0,2928.7 664.0,2928.8 666.0,2928.9 668.0,2929.0 670.0,2929.1 672.0,2929.2 674.0,2929.2 676.0,2929.3 678.0,2929.4 680.0,2929.5 682.0,2929.6 684.0,2929.7 686.0,2929.8 688.0,2929.8 690.0,2929.9 692.0,2930.0 694.0,2930.1 696.0,2930.2 698.0,2930.3 700.0,2930.4 702.0,2930.4 704.0,2930.5 706.0,2930.6 708.0,2930.7 710.0,2930.8 712.0,2930.9 714.0,2930.9 716.0,2931.0 718.0,2931.1 720.0,2931.2 722.0,2931.3 724.0,2931.4 726.0,2931.4 728.0,2931.5 730.0,2931.6 732.0,2931.7 734.0,2931.8 736.0,2931.8 738.0,2931.9 740.0,2932.0 742.0,2932.1 744.0,2932.1 746.0,2932.2 748.0,2932.3 750.0,2932.4 752.0,2932.4 754.0,2932.5 756.0,2932.6 758.0,2932.6 760.0,2932.7 762.0,2932.8 764.0,2932.8 766.0,2932.9 768.0,2933.0 770.0,2933.0 772.0,2933.1 774.0,2933.2 776.0,2933.2 778.0,2933.3 780.0,2933.4 782.0,2933.4 784.0,2933.5 786.0,2933.5 788.0,2933.6 790.0,2933.7 792.0,2933.7 794.0,2933.8 796.0,2933.8 798.0,2933.9 800.0,2933.9 802.0,2934.0 804.0,2934.0 806.0,2934.1 808.0,2934.1 810.0,2934.2 812.0,2934.2 814.0,2934.3 816.0,2934.3 818.0,2934.4 820.0,2934.4 822.0,2934.5 824.0,2934.5 826.0,2934.5 828.0,2934.6 830.0,2934.6 832.0,2934.7 834.0,2934.7 836.0,2934.7 838.0,2934.8 840.0,2934.8 842.0,2934.8 844.0,2934.9 846.0,2934.9 848.0,2934.9 850.0,2935.0 852.0,2935.0 854.0,2935.0 856.0,2935.1 858.0,2935.1 860.0,2935.1 862.0,2935.2 864.0,2935.2 866.0,2935.2 868.0,2935.2 870.0,2935.3 872.0,2935.3 874.0,2935.3 876.0,2935.3 878.0,2935.4 880.0,2935.4 882.0,2935.4 884.0,2935.4 886.0,2935.4 888.0,2935.5 890.0,2935.5 892.0,2935.5 894.0,2935.5 896.0,2935.5 898.0,2935.5 900.0,2935.6 902.0,2935.6 904.0,2935.6 906.0,2935.6 908.0,2935.6 910.0,2935.6 912.0,2935.7 914.0,2935.7 916.0,2935.7 918.0,2935.7 920.0,2935.7 922.0,2935.7 924.0,2935.7 926.0,2935.7 928.0,2935.7 930.0,2935.8 932.0,2935.8 934.0,2935.8 936.0,2935.8 938.0,2935.8 940.0,2935.8 942.0,2935.8 944.0,2935.8 946.0,2935.8 948.0,2935.8 950.0,2935.8 952.0,2935.8 954.0,2935.8 956.0,2935.8 958.0,2935.8 960.0,2935.8 962.0,2935.8 964.0,2935.8 966.0,2935.8 968.0,2935.8 970.0,2935.8 972.0,2935.8 974.0,2935.7 976.0,2935.7 978.0,2935.7 980.0,2935.6 982.0,2935.6 984.0,2935.5 986.0,2935.4 988.0,2935.3 990.0,2935.2 992.0,2935.1 994.0,2934.9 996.0,2934.8 998.0,2934.5 1000.0,2934.3 1002.0,2934.0 1004.0,2933.7 1006.0,2933.4 1008.0,2933.0 1010.0,2932.5 1012.0,2932.0 1014.0,2931.4 1016.0,2930.7 1018.0,2930.0 1020.0,2929.1 1022.0,2928.2 1024.0,2927.1 1026.0,2926.0 1028.0,2924.7 1030.0,2923.3 1032.0,2921.8 1034.0,2920.1 1036.0,2918.2 1038.0,2916.3 1040.0,2914.1 1042.0,2911.8 1044.0,2909.3 1046.0,2906.6 1048.0,2903.7 1050.0,2900.6 1052.0,2897.4 1054.0,2894.0 1056.0,2890.4 1058.0,2886.6 1060.0,2882.7 1062.0,2878.6 1064.0,2874.3 1066.0,2869.9 1068.0,2865.4 1070.0,2860.8 1072.0,2856.1 1074.0,2851.3 1076.0,2846.5 1078.0,2841.6 1080.0,2836.8 1082.0,2832.0 1084.0,2827.3 1086.0,2822.6 1088.0,2818.1 1090.0,2813.7 1092.0,2809.5 1094.0,2805.5 1096.0,2801.8 1098.0,2798.3 1100.0,2795.1 1102.0,2792.2 1104.0,2789.7 1106.0,2787.5 1108.0,2785.7 1110.0,2784.3 1112.0,2783.2 1114.0,2782.6 1116.0,2782.4 1118.0,2782.6 1120.0,2783.2 1122.0,2784.3 1124.0,2785.7 1126.0,2787.5 1128.0,2789.7 1130.0,2792.2 1132.0,2795.1 1134.0,2798.3 1136.0,2801.8 1138.0,2805.5 1140.0,2809.5 1142.0,2813.7 1144.0,2818.1 1146.0,2822.6 1148.0,2827.3 1150.0,2832.0 1152.0,2836.8 1154.0,2841.6 1156.0,2846.5 1158.0,2851.3 1160.0,2856.1 1162.0,2860.8 1164.0,2865.4 1166.0,2869.9 1168.0,2874.3 1170.0,2878.6 1172.0,2882.7 1174.0,2886.6 1176.0,2890.4 1178.0,2894.0 1180.0,2897.4 1182.0,2900.7 1184.0,2903.7 1186.0,2906.6 1188.0,2909.3 1190.0,2911.8 1192.0,2914.1 1194.0,2916.3 1196.0,2918.3 1198.0,2920.1 1200.0,2921.8 1202.0,2923.3 1204.0,2924.7 1206.0,2926.0 1208.0,2927.2 1210.0,2928.2 1212.0,2929.1 1214.0,2930.0 1216.0,2930.7 1218.0,2931.4 1220.0,2932.0 1222.0,2932.5 1224.0,2933.0 1226.0,2933.4 1228.0,2933.8 1230.0,2934.1 1232.0,2934.4 1234.0,2934.6 1236.0,2934.8 1238.0,2935.0 1239.0,2935.1" fill="none" stroke="#35a862" stroke-width="3.0" stroke-linejoin="round" />
<polyline points="1007.0,2936.5 1009.0,2936.5 1011.0,2936.5 1013.0,2936.5 1015.0,2936.5 1017.0,2936.5 1019.0,2936.5 1021.0,2936.5 1023.0,2936.5 1025.0,2936.5 1027.0,2936.5 1029.0,2936.5 1031.0,2936.5 1033.0,2936.5 1035.0,2936.5 1037.0,2936.5 1039.0,2936.4 1041.0,2936.4 1043.0,2936.4 1045.0,2936.4 1047.0,2936.4 1049.0,2936.4 1051.0,2936.3 1053.0,2936.3 1055.0,2936.3 1057.0,2936.2 1059.0,2936.1 1061.0,2936.1 1063.0,2936.0 1065.0,2935.9 1067.0,2935.8 1069.0,2935.6 1071.0,2935.5 1073.0,2935.3 1075.0,2935.0 1077.0,2934.8 1079.0,2934.5 1081.0,2934.2 1083.0,2933.8 1085.0,2933.3 1087.0,2932.8 1089.0,2932.2 1091.0,2931.6 1093.0,2930.8 1095.0,2930.0 1097.0,2929.0 1099.0,2928.0 1101.0,2926.8 1103.0,2925.5 1105.0,2924.0 1107.0,2922.4 1109.0,2920.6 1111.0,2918.6 1113.0,2916.5 1115.0,2914.1 1117.0,2911.5 1119.0,2908.7 1121.0,2905.6 1123.0,2902.4 1125.0,2898.8 1127.0,2895.0 1129.0,2891.0 1131.0,2886.6 1133.0,2882.0 1135.0,2877.2 1137.0,2872.1 1139.0,2866.7 1141.0,2861.0 1143.0,2855.2 1145.0,2849.1 1147.0,2842.8 1149.0,2836.3 1151.0,2829.6 1153.0,2822.8 1155.0,2815.8 1157.0,2808.8 1159.0,2801.8 1161.0,2794.7 1163.0,2787.6 1165.0,2780.6 1167.0,2773.7 1169.0,2766.9 1171.0,2760.3 1173.0,2753.9 1175.0,2747.8 1177.0,2742.0 1179.0,2736.6 1181.0,2731.5 1183.0,2726.9 1185.0,2722.7 1187.0,2719.0 1189.0,2715.9 1191.0,2713.2 1193.0,2711.2 1195.0,2709.7 1197.0,2708.8 1199.0,2708.5 1201.0,2708.8 1203.0,2709.7 1205.0,2711.2 1207.0,2713.2 1209.0,2715.9 1211.0,2719.0 1213.0,2722.7 1215.0,2726.9 1217.0,2731.5 1219.0,2736.6 1221.0,2742.0 1223.0,2747.8 1225.0,2753.9 1227.0,2760.3 1229.0,2766.9 1231.0,2773.7 1233.0,2780.6 1235.0,2787.6 1237.0,2794.7 1239.0,2801.8 1241.0,2808.8 1243.0,2815.8 1245.0,2822.8 1247.0,2829.6 1249.0,2836.3 1251.0,2842.8 1253.0,2849.1 1255.0,2855.2 1257.0,2861.0 1259.0,2866.7 1261.0,2872.1 1263.0,2877.2 1265.0,2882.0 1267.0,2886.6 1269.0,2891.0 1271.0,2895.0 1273.0,2898.8 1275.0,2902.4 1277.0,2905.6 1279.0,2908.7 1281.0,2911.5 1283.0,2914.1 1285.0,2916.5 1287.0,2918.6 1289.0,2920.6 1290.0,2921.5" fill="none" stroke="#f03232" stroke-width="3.0" stroke-linejoin="round" />
<polyline points="960.0,2685.4 962.0,2690.8 964.0,2696.2 966.0,2701.6 968.0,2706.9 970.0,2712.3 972.0,2717.5 974.0,2722.8 976.0,2727.9 978.0,2733.1 980.0,2738.1 982.0,2743.1 984.0,2748.1 986.0,2752.9 988.0,2757.7 990.0,2762.4 992.0,2767.1 994.0,2771.6 996.0,2776.1 998.0,2780.4 1000.0,2784.7 1002.0,2788.8 1004.0,2792.9 1006.0,2796.8 1008.0,2800.6 1010.0,2804.2 1012.0,2807.7 1014.0,2811.1 1016.0,2814.3 1018.0,2817.4 1020.0,2820.3 1022.0,2823.0 1024.0,2825.5 1026.0,2827.8 1028.0,2830.0 1030.0,2831.9 1032.0,2833.6 1034.0,2835.1 1036.0,2836.3 1038.0,2837.3 1040.0,2838.1 1042.0,2838.6 1044.0,2838.9 1046.0,2838.9 1048.0,2838.6 1050.0,2838.1 1052.0,2837.3 1054.0,2836.3 1056.0,2834.9 1058.0,2833.4 1060.0,2831.6 1062.0,2829.5 1064.0,2827.2 1066.0,2824.7 1068.0,2822.0 1070.0,2819.1 1072.0,2816.0 1074.0,2812.8 1076.0,2809.4 1078.0,2805.9 1080.0,2802.4 1082.0,2798.7 1084.0,2795.0 1086.0,2791.3 1088.0,2787.6 1090.0,2783.9 1092.0,2780.3 1094.0,2776.7 1096.0,2773.3 1098.0,2769.9 1100.0,2766.6 1102.0,2763.5 1104.0,2760.6 1106.0,2757.8 1108.0,2755.2 1110.0,2752.8 1112.0,2750.5 1114.0,2748.4 1116.0,2746.5 1118.0,2744.8 1120.0,2743.2 1122.0,2741.7 1124.0,2740.4 1126.0,2739.1 1128.0,2738.0 1130.0,2736.9 1132.0,2735.9 1134.0,2734.8 1136.0,2733.8 1138.0,2732.8 1140.0,2731.7 1142.0,2730.6 1144.0,2729.4 1146.0,2728.1 1148.0,2726.7 1150.0,2725.2 1152.0,2723.5 1154.0,2721.8 1156.0,2720.0 1158.0,2718.0 1160.0,2716.0 1162.0,2713.9 1164.0,2711.7 1166.0,2709.5 1168.0,2707.2 1170.0,2705.0 1172.0,2702.8 1174.0,2700.7 1176.0,2698.7 1178.0,2696.9 1180.0,2695.2 1182.0,2693.7 1184.0,2692.5 1186.0,2691.6 1188.0,2691.0 1190.0,2690.7 1192.0,2690.8 1194.0,2691.3 1196.0,2692.2 1198.0,2693.5 1200.0,2695.3 1202.0,2697.5 1204.0,2700.2 1206.0,2703.3 1208.0,2706.9 1210.0,2710.9 1212.0,2715.4 1214.0,2720.2 1216.0,2725.4 1218.0,2731.0 1220.0,2736.9 1222.0,2743.1 1224.0,2749.6 1226.0,2756.3 1228.0,2763.1 1230.0,2770.2 1232.0,2777.3 1234.0,2784.6 1236.0,2791.9 1238.0,2799.2 1240.0,2806.4 1242.0,2813.7 1244.0,2820.8 1246.0,2827.8 1248.0,2834.6 1250.0,2841.3 1252.0,2847.8 1254.0,2854.1 1256.0,2860.1 1258.0,2865.9 1260.0,2871.5 1262.0,2876.8 1264.0,2881.8 1266.0,2886.6 1268.0,2891.0 1270.0,2895.3 1272.0,2899.2 1274.0,2902.9 1276.0,2906.3 1278.0,2909.5 1280.0,2912.4 1282.0,2915.1 1284.0,2917.6 1286.0,2919.9 1288.0,2922.0 1290.0,2923.9 1292.0,2925.6 1294.0,2927.1 1296.0,2928.5 1298.0,2929.8 1300.0,2930.9 1302.0,2931.9 1304.0,2932.8 1306.0,2933.6 1308.0,2934.3 1310.0,2935.0 1312.0,2935.5 1314.0,2936.0 1316.0,2936.4 1318.0,2936.8 1320.0,2937.1 1322.0,2937.4 1324.0,2937.6 1326.0,2937.8 1328.0,2938.0" fill="none" stroke="#1a1a1a" stroke-width="3.0" stroke-linejoin="round" />
<polyline points="214.0,2923.5 215.5,2923.5 217.0,2923.5 218.5,2923.5 220.0,2923.5 221.5,2923.5 223.0,2923.5 224.5,2923.5 226.0,2923.5 227.5,2923.5 229.0,2923.6 230.5,2923.6 232.0,2923.8 233.5,2924.2 235.0,2924.8 236.5,2925.5 238.0,2926.4 239.5,2927.1 241.0,2927.6 242.5,2927.7 244.0,2927.3 245.5,2926.6 247.0,2925.7 248.5,2924.9 250.0,2924.3 251.5,2923.9 253.0,2923.6 254.5,2923.5 256.0,2923.4 257.5,2923.3 259.0,2923.3 260.5,2923.3 262.0,2923.3 263.5,2923.3 265.0,2923.2 266.5,2923.2 268.0,2923.2 269.5,2923.1 271.0,2923.1 272.5,2923.1 274.0,2923.1 275.5,2923.0 277.0,2923.0 278.5,2922.9 280.0,2922.9 281.5,2922.9 283.0,2922.8 284.5,2922.8 286.0,2922.7 287.5,2922.7 289.0,2922.6 290.5,2922.6 292.0,2922.5 293.5,2922.5 295.0,2922.4 296.5,2922.4 298.0,2922.3 299.5,2922.3 301.0,2922.2 302.5,2922.2 304.0,2922.1 305.5,2922.1 307.0,2922.0 308.5,2922.0 310.0,2921.9 311.5,2921.9 313.0,2921.8 314.5,2921.8 316.0,2921.7 317.5,2921.7 319.0,2921.6 320.5,2921.6 322.0,2921.5 323.5,2921.5 325.0,2921.5 326.5,2921.4 328.0,2921.4 329.5,2921.4 331.0,2921.3 332.5,2921.3 334.0,2921.3 335.5,2921.3 337.0,2921.2 338.5,2921.2 340.0,2921.2 341.5,2921.2 343.0,2921.2 344.5,2921.1 346.0,2921.1 347.5,2921.1 349.0,2921.1 350.5,2921.1 352.0,2921.1 353.5,2921.1 355.0,2921.1 356.5,2921.1 358.0,2921.0 359.5,2921.0 361.0,2921.0 362.5,2921.0 364.0,2921.0 365.5,2921.0 367.0,2921.0 368.5,2921.0 370.0,2921.0 371.5,2921.0 373.0,2921.0 374.5,2921.0 376.0,2921.0 377.5,2921.0 379.0,2921.0 380.5,2921.0 382.0,2921.0 383.5,2921.0 385.0,2921.0 386.5,2921.0 388.0,2921.0 389.5,2921.0 391.0,2921.0 392.5,2921.0 394.0,2921.0 395.5,2921.0 397.0,2921.0 398.5,2921.0 400.0,2921.0 401.5,2921.0 403.0,2921.0 404.5,2921.0 406.0,2921.0 407.5,2921.0 409.0,2921.0 410.5,2921.0 412.0,2921.0 413.5,2921.0 415.0,2921.0 416.5,2921.0 418.0,2921.0 419.5,2921.0 421.0,2921.0 422.5,2921.0 424.0,2921.0 425.5,2921.0 427.0,2921.0 428.5,2921.0 430.0,2921.0 431.5,2921.0 433.0,2921.0 434.5,2921.0 436.0,2921.0 437.5,2921.0 439.0,2921.0 440.5,2921.0 442.0,2921.0 443.5,2920.9 445.0,2920.9 446.5,2920.9 448.0,2920.9 449.5,2920.9 451.0,2920.9 452.5,2920.9 454.0,2920.9 455.5,2920.9 457.0,2920.9 458.5,2920.9 460.0,2920.9 461.5,2920.9 463.0,2920.9 464.5,2920.9 466.0,2920.9 467.5,2920.8 469.0,2920.8 470.5,2920.8 472.0,2920.8 473.5,2920.8 475.0,2920.8 476.5,2920.8 478.0,2920.8 479.5,2920.8 481.0,2920.7 482.5,2920.7 484.0,2920.7 485.5,2920.7 487.0,2920.7 488.5,2920.6 490.0,2920.6 491.5,2920.6 493.0,2920.6 494.5,2920.5 496.0,2920.5 497.5,2920.5 499.0,2920.5 500.5,2920.4 502.0,2920.4 503.5,2920.4 505.0,2920.3 506.5,2920.3 508.0,2920.2 509.5,2920.2 511.0,2920.1 512.5,2920.1 514.0,2920.0 515.5,2920.0 517.0,2919.9 518.5,2919.9 520.0,2919.8 521.5,2919.8 523.0,2919.7 524.5,2919.6 526.0,2919.5 527.5,2919.5 529.0,2919.4 530.5,2919.3 532.0,2919.2 533.5,2919.1 535.0,2919.0 536.5,2918.9 538.0,2918.8 539.5,2918.7 541.0,2918.5 542.5,2918.4 544.0,2918.3 545.5,2918.1 547.0,2918.0 548.5,2917.8 550.0,2917.7 551.5,2917.5 553.0,2917.3 554.5,2917.1 556.0,2917.0 557.5,2916.8 559.0,2916.5 560.5,2916.3 562.0,2916.1 563.5,2915.9 565.0,2915.6 566.5,2915.4 568.0,2915.1 569.5,2914.8 571.0,2914.5 572.5,2914.2 574.0,2913.9 575.5,2913.6 577.0,2913.3 578.5,2912.9 580.0,2912.5 581.5,2912.2 583.0,2911.8 584.5,2911.3 586.0,2910.9 587.5,2910.5 589.0,2910.0 590.5,2909.5 592.0,2909.0 593.5,2908.5 595.0,2908.0 596.5,2907.5 598.0,2906.9 599.5,2906.3 601.0,2905.7 602.5,2905.0 604.0,2904.4 605.5,2903.7 607.0,2903.0 608.5,2902.3 610.0,2901.5 611.5,2900.8 613.0,2900.0 614.5,2899.1 616.0,2898.3 617.5,2897.4 619.0,2896.5 620.5,2895.5 622.0,2894.6 623.5,2893.6 625.0,2892.5 626.5,2891.5 628.0,2890.4 629.5,2889.3 631.0,2888.1 632.5,2886.9 634.0,2885.7 635.5,2884.4 637.0,2883.1 638.5,2881.8 640.0,2880.4 641.5,2879.0 643.0,2877.6 644.5,2876.1 646.0,2874.6 647.5,2873.0 649.0,2871.4 650.5,2869.7 652.0,2868.0 653.5,2866.3 655.0,2864.5 656.5,2862.7 658.0,2860.9 659.5,2859.0 661.0,2857.0 662.5,2855.0 664.0,2853.0 665.5,2850.9 667.0,2848.8 668.5,2846.6 670.0,2844.3 671.5,2842.1 673.0,2839.8 674.5,2837.4 676.0,2835.0 677.5,2832.5 679.0,2830.0 680.5,2827.4 682.0,2824.8 683.5,2822.2 685.0,2819.5 686.5,2816.7 688.0,2813.9 689.5,2811.1 691.0,2808.2 692.5,2805.2 694.0,2802.2 695.5,2799.2 697.0,2796.1 698.5,2792.9 700.0,2789.8 701.5,2786.5 703.0,2783.3 704.5,2779.9 706.0,2776.6 707.5,2773.2 709.0,2769.7 710.5,2766.2 712.0,2762.7 713.5,2759.1 715.0,2755.5 716.5,2751.8 718.0,2748.1 719.5,2744.4 721.0,2740.6 722.5,2736.8 724.0,2733.0 725.5,2729.1 727.0,2725.2 728.5,2721.3 730.0,2717.3 731.5,2713.3 733.0,2709.3 734.5,2705.3 736.0,2701.2 737.5,2697.1 739.0,2693.0 740.5,2688.9 742.0,2684.7 743.5,2680.6 745.0,2676.4 746.5,2672.2 748.0,2668.0 749.5,2663.8 751.0,2659.6 752.5,2655.4 754.0,2651.2 755.5,2647.0 757.0,2642.8 758.5,2638.6 760.0,2634.4 761.5,2630.2 763.0,2626.0 764.5,2621.9 766.0,2617.7 767.5,2613.6 769.0,2609.5 770.5,2605.4 772.0,2601.3 773.5,2597.3 775.0,2593.3 776.5,2589.3 778.0,2585.4 779.5,2581.5 781.0,2577.6 782.5,2573.8 784.0,2570.0 785.5,2566.3 787.0,2562.6 788.5,2559.0 790.0,2555.4 791.5,2551.9 793.0,2548.4 794.5,2545.0 796.0,2541.6 797.5,2538.4 799.0,2535.1 800.5,2532.0 802.0,2528.9 803.5,2525.9 805.0,2523.0 806.5,2520.2 808.0,2517.4 809.5,2514.7 811.0,2512.1 812.5,2509.6 814.0,2507.1 815.5,2504.8 817.0,2502.5 818.5,2500.4 820.0,2498.3 821.5,2496.3 823.0,2494.4 824.5,2492.6 826.0,2490.9 827.5,2489.4 829.0,2487.9 830.5,2486.5 832.0,2485.2 833.5,2484.0 835.0,2483.0 836.5,2482.0 838.0,2481.1 839.5,2480.4 841.0,2479.7 842.5,2479.2 844.0,2478.8 845.5,2478.4 847.0,2478.2 848.5,2478.1 850.0,2478.1 851.5,2478.3 853.0,2478.5 854.5,2478.8 856.0,2479.2 857.5,2479.7 859.0,2480.3 860.5,2481.0 862.0,2481.9 863.5,2482.8 865.0,2483.8 866.5,2484.9 868.0,2486.1 869.5,2487.4 871.0,2488.8 872.5,2490.2 874.0,2491.8 875.5,2493.5 877.0,2495.2 878.5,2497.1 880.0,2499.0 881.5,2501.1 883.0,2503.2 884.5,2505.4 886.0,2507.6 887.5,2510.0 889.0,2512.4 890.5,2515.0 892.0,2517.6 893.5,2520.2 895.0,2523.0 896.5,2525.8 898.0,2528.7 899.5,2531.6 901.0,2534.7 902.5,2537.8 904.0,2540.9 905.5,2544.1 907.0,2547.4 908.5,2550.7 910.0,2554.1 911.5,2557.6 913.0,2561.1 914.5,2564.6 916.0,2568.2 917.5,2571.8 919.0,2575.5 920.5,2579.2 922.0,2583.0 923.5,2586.8 925.0,2590.6 926.5,2594.5 928.0,2598.4 929.5,2602.3 931.0,2606.3 932.5,2610.3 934.0,2614.3 935.5,2618.3 937.0,2622.4 938.5,2626.4 940.0,2630.5 941.5,2634.6 943.0,2638.7 944.5,2642.8 946.0,2646.9 947.5,2651.1 949.0,2655.2 950.5,2659.3 952.0,2663.4 953.5,2667.6 955.0,2671.7 956.5,2675.8 958.0,2679.9 959.5,2684.0 961.0,2688.1 962.5,2692.2 964.0,2696.3 965.5,2700.3 967.0,2704.4 968.5,2708.4 970.0,2712.4 971.5,2716.4 973.0,2720.3 974.5,2724.2 976.0,2728.1 977.5,2732.0 979.0,2735.9 980.5,2739.7 982.0,2743.5 983.5,2747.3 985.0,2751.0 986.5,2754.7 988.0,2758.3 989.5,2762.0 991.0,2765.6 992.5,2769.1 994.0,2772.6 995.5,2776.1 997.0,2779.6 998.5,2783.0 1000.0,2786.3 1001.5,2789.7 1003.0,2792.9 1004.5,2796.2 1006.0,2799.4 1007.5,2802.5 1009.0,2805.7 1010.5,2808.7 1012.0,2811.7 1013.5,2814.7 1015.0,2817.7 1016.5,2820.6 1018.0,2823.4 1019.5,2826.2 1021.0,2829.0 1022.5,2831.7 1024.0,2834.4 1025.5,2837.0 1027.0,2839.6 1028.5,2842.1 1030.0,2844.6 1031.5,2847.0 1033.0,2849.4 1034.5,2851.8 1036.0,2854.1 1037.5,2856.4 1039.0,2858.6 1040.5,2860.8 1042.0,2862.9 1043.5,2865.0 1045.0,2867.1 1046.5,2869.1 1048.0,2871.0 1049.5,2873.0 1051.0,2874.8 1052.5,2876.7 1054.0,2878.5 1055.5,2880.2 1057.0,2882.0 1058.5,2883.6 1060.0,2885.3 1061.5,2886.9 1063.0,2888.5 1064.5,2890.0 1066.0,2891.5 1067.5,2892.9 1069.0,2894.4 1070.5,2895.8 1072.0,2897.1 1073.5,2898.4 1075.0,2899.7 1076.5,2901.0 1078.0,2902.2 1079.5,2903.4 1081.0,2904.5 1082.5,2905.6 1084.0,2906.7 1085.5,2907.8 1087.0,2908.8 1088.5,2909.8 1090.0,2910.8 1091.5,2911.8 1093.0,2912.7 1094.5,2913.6 1096.0,2914.4 1097.5,2915.3 1099.0,2916.1 1100.5,2916.9 1102.0,2917.7 1103.5,2918.4 1105.0,2919.1 1106.5,2919.8 1108.0,2920.5 1109.5,2921.2 1111.0,2921.8 1112.5,2922.4 1114.0,2923.0 1115.5,2923.6 1117.0,2924.2 1118.5,2924.7 1120.0,2925.3 1121.5,2925.8 1123.0,2926.3 1124.5,2926.7 1126.0,2927.2 1127.5,2927.6 1129.0,2928.1 1130.5,2928.5 1132.0,2928.9 1133.5,2929.3 1135.0,2929.6 1136.5,2930.0 1138.0,2930.3 1139.5,2930.7 1141.0,2931.0 1142.5,2931.3 1144.0,2931.6 1145.5,2931.9 1147.0,2932.2 1148.5,2932.5 1150.0,2932.7 1151.5,2933.0 1153.0,2933.2 1154.5,2933.4 1156.0,2933.7 1157.5,2933.9 1159.0,2934.1 1160.5,2934.3 1162.0,2934.5 1163.5,2934.7 1165.0,2934.8 1166.5,2935.0 1168.0,2935.2 1169.5,2935.3 1171.0,2935.5 1172.5,2935.6 1174.0,2935.8 1175.5,2935.9 1177.0,2936.0 1178.5,2936.1 1180.0,2936.3 1181.5,2936.4 1183.0,2936.5 1184.5,2936.6 1186.0,2936.7 1187.5,2936.8 1189.0,2936.9 1190.5,2937.0 1192.0,2937.1 1193.5,2937.1 1195.0,2937.2 1196.5,2937.3 1198.0,2937.4 1199.5,2937.4 1201.0,2937.5 1202.5,2937.6 1204.0,2937.6 1205.5,2937.7 1207.0,2937.7 1208.5,2937.8 1210.0,2937.8 1211.5,2937.9 1213.0,2937.9 1214.5,2938.0 1216.0,2938.0 1217.5,2938.1 1219.0,2938.1 1220.5,2938.1 1222.0,2938.2 1223.5,2938.2 1225.0,2938.2 1226.5,2938.3 1228.0,2938.3 1229.5,2938.3 1231.0,2938.4 1232.5,2938.4 1234.0,2938.4 1235.5,2938.4 1237.0,2938.5 1238.5,2938.5 1240.0,2938.5 1241.5,2938.5 1243.0,2938.5 1244.5,2938.6 1246.0,2938.6 1247.5,2938.6 1249.0,2938.6 1250.5,2938.6 1252.0,2938.6 1253.5,2938.7 1255.0,2938.7 1256.5,2938.7 1258.0,2938.7 1259.5,2938.7 1261.0,2938.7 1262.5,2938.7 1264.0,2938.7 1265.5,2938.8 1267.0,2938.8 1268.5,2938.8 1270.0,2938.8 1271.5,2938.8 1273.0,2938.8 1274.5,2938.8 1276.0,2938.8 1277.5,2938.8 1279.0,2938.8 1280.5,2938.8 1282.0,2938.8 1283.5,2938.8 1285.0,2938.9 1286.5,2938.9 1288.0,2938.9 1289.5,2938.9 1291.0,2938.9 1292.5,2938.9 1294.0,2938.9 1295.5,2938.9 1297.0,2938.9 1298.5,2938.9 1300.0,2938.9 1301.5,2938.9 1303.0,2938.9 1304.5,2938.9 1306.0,2938.9 1307.5,2938.9 1309.0,2938.9 1310.5,2938.9 1312.0,2938.9 1313.5,2938.9 1315.0,2938.9 1316.5,2938.9 1318.0,2938.9 1319.5,2938.9 1321.0,2938.9 1322.5,2938.9 1324.0,2938.9 1325.5,2938.9 1327.0,2938.9 1328.5,2939.0 1330.0,2939.0 1331.5,2939.0 1333.0,2939.0 1334.5,2939.0 1336.0,2939.0 1337.5,2939.0 1339.0,2939.0 1340.5,2939.0 1342.0,2939.0 1343.5,2939.0 1345.0,2939.0 1346.5,2939.0 1348.0,2939.0 1349.5,2939.0 1351.0,2939.0 1352.5,2939.0 1354.0,2939.0 1355.5,2939.0 1357.0,2939.0 1358.5,2939.0 1360.0,2939.0 1361.5,2939.0 1363.0,2939.0 1364.5,2939.0 1366.0,2939.0 1367.5,2939.0 1369.0,2939.0 1370.5,2939.0 1372.0,2939.0 1373.5,2939.0 1375.0,2939.0 1376.5,2939.0 1378.0,2939.0 1379.5,2939.0 1381.0,2939.0 1382.5,2939.0 1384.0,2939.0 1385.5,2939.0 1387.0,2939.0 1388.5,2939.0 1390.0,2939.0 1391.5,2939.0 1393.0,2939.0 1394.5,2939.0 1396.0,2939.0 1397.5,2939.0 1399.0,2939.0 1400.5,2939.0 1402.0,2939.0 1403.5,2939.0 1405.0,2939.0 1406.5,2939.0 1408.0,2939.0 1409.5,2939.0 1411.0,2939.0 1412.5,2939.0 1414.0,2939.0 1415.5,2939.0 1417.0,2939.0 1418.5,2939.0 1420.0,2939.0 1421.5,2939.0 1423.0,2939.0 1424.5,2939.0 1426.0,2939.0 1427.5,2939.0 1429.0,2939.0 1430.5,2939.0 1432.0,2939.0 1433.5,2939.0 1435.0,2939.0 1436.5,2939.0 1438.0,2939.0 1439.5,2939.0 1441.0,2939.0 1442.5,2939.0 1444.0,2939.0 1445.5,2939.0 1447.0,2939.0 1448.5,2939.0 1450.0,2939.0 1451.5,2939.0 1453.0,2939.0 1454.5,2939.0 1456.0,2939.0 1457.5,2939.0 1459.0,2939.0 1460.5,2939.0 1462.0,2939.0 1463.5,2939.0 1465.0,2939.0 1466.5,2939.0 1468.0,2939.0 1469.5,2939.0 1471.0,2939.0 1472.5,2939.0 1474.0,2939.0 1475.5,2939.0 1477.0,2939.0 1478.5,2939.0 1480.0,2939.0 1481.5,2939.0 1483.0,2939.0 1484.5,2939.0 1486.0,2939.0 1487.5,2939.0 1489.0,2939.0 1490.5,2939.0 1492.0,2939.0 1493.5,2939.0 1495.0,2939.0 1496.5,2939.0 1498.0,2939.0 1499.5,2939.0 1501.0,2939.0 1502.5,2939.0 1504.0,2939.0 1505.5,2939.0 1507.0,2939.0 1508.5,2939.0 1510.0,2939.0 1511.5,2939.0 1513.0,2939.0 1514.5,2939.0 1516.0,2939.0 1517.5,2939.0 1519.0,2939.0 1520.5,2939.0 1522.0,2939.0 1523.5,2939.0 1525.0,2939.0 1526.5,2939.0 1528.0,2939.0 1529.5,2939.0 1531.0,2939.0 1532.5,2939.0 1534.0,2939.0 1535.5,2939.0 1537.0,2939.0 1538.5,2939.0 1540.0,2939.0 1541.5,2939.0 1543.0,2939.0 1544.5,2939.0 1546.0,2939.0 1547.5,2939.0 1549.0,2939.0 1550.5,2939.0 1552.0,2939.0 1553.5,2939.0 1555.0,2939.0 1556.5,2939.0 1558.0,2939.0 1559.5,2939.0 1561.0,2939.0 1562.5,2939.0 1564.0,2939.0 1565.5,2939.0 1567.0,2939.0 1568.5,2939.0 1570.0,2939.0 1571.5,2939.0 1573.0,2939.0 1574.5,2939.0 1576.0,2939.0 1577.5,2939.0 1579.0,2939.0 1580.5,2939.0 1582.0,2939.0 1583.5,2939.0 1585.0,2939.0 1586.5,2939.0 1588.0,2939.0 1589.5,2939.0 1591.0,2939.0 1592.5,2939.0 1594.0,2939.0 1595.5,2939.0 1597.0,2939.0 1598.5,2939.0 1600.0,2939.0 1601.5,2939.0 1603.0,2939.0 1604.5,2939.0 1606.0,2939.0 1607.5,2939.0 1609.0,2939.0" fill="none" stroke="#2f72e6" stroke-width="3.0" stroke-linejoin="round" />
<line x1="215.6" y1="2475.5" x2="324.8" y2="2475.5" stroke="#1a1a1a" stroke-width="4.2" />
<line x1="215.6" y1="2530.8" x2="321.4" y2="2530.8" stroke="#35a862" stroke-width="4.2" />
<line x1="215.6" y1="2589.8" x2="325.0" y2="2589.8" stroke="#f03232" stroke-width="4.2" />
<line x1="215.6" y1="2645.7" x2="321.4" y2="2645.7" stroke="#2f72e6" stroke-width="4.2" />
<text x="334.8" y="2489.6" font-family="'Liberation Serif','Times New Roman',serif" font-size="49" font-weight="normal" text-anchor="start" fill="#2a2a2a" textLength="108" lengthAdjust="spacing">Al 2p</text>
<text x="334.8" y="2543.5" font-family="'Liberation Serif','Times New Roman',serif" font-size="49" font-weight="normal" text-anchor="start" fill="#2a2a2a" textLength="164.5" lengthAdjust="spacing">Al Metal</text>
<text x="334.8" y="2604.0" font-family="'Liberation Serif','Times New Roman',serif" font-size="49" font-weight="normal" text-anchor="start" fill="#2a2a2a" textLength="164.5" lengthAdjust="spacing">Al Metal</text>
<text x="334.8" y="2659.9" font-family="'Liberation Serif','Times New Roman',serif" font-size="49" font-weight="normal" text-anchor="start" fill="#2a2a2a" textLength="380" lengthAdjust="spacing">Al Oxides/Fluorides</text>
<text x="1350.5" y="2570.0" font-family="'Liberation Serif','Times New Roman',serif" font-size="72" font-weight="bold" text-anchor="start" fill="#111" textLength="245.5" lengthAdjust="spacing">Surface</text>
<line x1="212.8" y1="3073.4" x2="1609.0" y2="3073.4" class="g"/>
<line x1="212.8" y1="3133.4" x2="1609.0" y2="3133.4" class="g"/>
<line x1="212.8" y1="3197.4" x2="1609.0" y2="3197.4" class="g"/>
<line x1="212.8" y1="3261.4" x2="1609.0" y2="3261.4" class="g"/>
<line x1="212.8" y1="3321.4" x2="1609.0" y2="3321.4" class="g"/>
<line x1="212.8" y1="3385.2" x2="1609.0" y2="3385.2" class="g"/>
<line x1="212.8" y1="3445.0" x2="1609.0" y2="3445.0" class="g"/>
<line x1="212.8" y1="3509.3" x2="1609.0" y2="3509.3" class="g"/>
<line x1="212.8" y1="3571.5" x2="1609.0" y2="3571.5" class="g"/>
<line x1="412.0" y1="3044.0" x2="412.0" y2="3603.3" class="g"/>
<line x1="611.5" y1="3044.0" x2="611.5" y2="3603.3" class="g"/>
<line x1="811.0" y1="3044.0" x2="811.0" y2="3603.3" class="g"/>
<line x1="1010.5" y1="3044.0" x2="1010.5" y2="3603.3" class="g"/>
<line x1="1210.0" y1="3044.0" x2="1210.0" y2="3603.3" class="g"/>
<line x1="1409.5" y1="3044.0" x2="1409.5" y2="3603.3" class="g"/>
<line x1="212.8" y1="3098.5" x2="223.8" y2="3098.5" stroke="#1c1c1c" stroke-width="4.2" />
<line x1="212.8" y1="3154.7" x2="232.8" y2="3154.7" stroke="#1c1c1c" stroke-width="4.2" />
<line x1="212.8" y1="3210.1" x2="223.8" y2="3210.1" stroke="#1c1c1c" stroke-width="4.2" />
<line x1="212.8" y1="3265.3" x2="232.8" y2="3265.3" stroke="#1c1c1c" stroke-width="4.2" />
<line x1="212.8" y1="3321.0" x2="223.8" y2="3321.0" stroke="#1c1c1c" stroke-width="4.2" />
<line x1="212.8" y1="3376.4" x2="232.8" y2="3376.4" stroke="#1c1c1c" stroke-width="4.2" />
<line x1="212.8" y1="3432.3" x2="223.8" y2="3432.3" stroke="#1c1c1c" stroke-width="4.2" />
<line x1="212.8" y1="3487.7" x2="232.8" y2="3487.7" stroke="#1c1c1c" stroke-width="4.2" />
<line x1="212.8" y1="3543.1" x2="223.8" y2="3543.1" stroke="#1c1c1c" stroke-width="4.2" />
<line x1="1609.0" y1="3073.4" x2="1631.0" y2="3073.4" stroke="#1c1c1c" stroke-width="4.2" />
<line x1="1609.0" y1="3133.4" x2="1631.0" y2="3133.4" stroke="#1c1c1c" stroke-width="4.2" />
<line x1="1609.0" y1="3197.4" x2="1631.0" y2="3197.4" stroke="#1c1c1c" stroke-width="4.2" />
<line x1="1609.0" y1="3261.4" x2="1631.0" y2="3261.4" stroke="#1c1c1c" stroke-width="4.2" />
<line x1="1609.0" y1="3321.4" x2="1631.0" y2="3321.4" stroke="#1c1c1c" stroke-width="4.2" />
<line x1="1609.0" y1="3385.2" x2="1631.0" y2="3385.2" stroke="#1c1c1c" stroke-width="4.2" />
<line x1="1609.0" y1="3445.0" x2="1631.0" y2="3445.0" stroke="#1c1c1c" stroke-width="4.2" />
<line x1="1609.0" y1="3509.3" x2="1631.0" y2="3509.3" stroke="#1c1c1c" stroke-width="4.2" />
<line x1="1609.0" y1="3571.5" x2="1631.0" y2="3571.5" stroke="#1c1c1c" stroke-width="4.2" />
<line x1="1609.0" y1="3103.0" x2="1619.0" y2="3103.0" stroke="#1c1c1c" stroke-width="4.2" />
<line x1="1609.0" y1="3167.6" x2="1619.0" y2="3167.6" stroke="#1c1c1c" stroke-width="4.2" />
<line x1="1609.0" y1="3227.2" x2="1619.0" y2="3227.2" stroke="#1c1c1c" stroke-width="4.2" />
<line x1="1609.0" y1="3291.0" x2="1619.0" y2="3291.0" stroke="#1c1c1c" stroke-width="4.2" />
<line x1="1609.0" y1="3351.4" x2="1619.0" y2="3351.4" stroke="#1c1c1c" stroke-width="4.2" />
<line x1="1609.0" y1="3415.5" x2="1619.0" y2="3415.5" stroke="#1c1c1c" stroke-width="4.2" />
<line x1="1609.0" y1="3475.0" x2="1619.0" y2="3475.0" stroke="#1c1c1c" stroke-width="4.2" />
<line x1="1609.0" y1="3539.8" x2="1619.0" y2="3539.8" stroke="#1c1c1c" stroke-width="4.2" />
<line x1="312.2" y1="3603.3" x2="312.2" y2="3610.3" stroke="#1c1c1c" stroke-width="4.2" />
<line x1="412.0" y1="3603.3" x2="412.0" y2="3620.3" stroke="#1c1c1c" stroke-width="4.2" />
<line x1="511.8" y1="3603.3" x2="511.8" y2="3610.3" stroke="#1c1c1c" stroke-width="4.2" />
<line x1="611.5" y1="3603.3" x2="611.5" y2="3620.3" stroke="#1c1c1c" stroke-width="4.2" />
<line x1="711.2" y1="3603.3" x2="711.2" y2="3610.3" stroke="#1c1c1c" stroke-width="4.2" />
<line x1="811.0" y1="3603.3" x2="811.0" y2="3620.3" stroke="#1c1c1c" stroke-width="4.2" />
<line x1="910.8" y1="3603.3" x2="910.8" y2="3610.3" stroke="#1c1c1c" stroke-width="4.2" />
<line x1="1010.5" y1="3603.3" x2="1010.5" y2="3620.3" stroke="#1c1c1c" stroke-width="4.2" />
<line x1="1110.2" y1="3603.3" x2="1110.2" y2="3610.3" stroke="#1c1c1c" stroke-width="4.2" />
<line x1="1210.0" y1="3603.3" x2="1210.0" y2="3620.3" stroke="#1c1c1c" stroke-width="4.2" />
<line x1="1309.8" y1="3603.3" x2="1309.8" y2="3610.3" stroke="#1c1c1c" stroke-width="4.2" />
<line x1="1409.5" y1="3603.3" x2="1409.5" y2="3620.3" stroke="#1c1c1c" stroke-width="4.2" />
<line x1="1509.2" y1="3603.3" x2="1509.2" y2="3610.3" stroke="#1c1c1c" stroke-width="4.2" />
<line x1="352.0" y1="3044.0" x2="352.0" y2="3054.0" stroke="#1c1c1c" stroke-width="4.2" />
<line x1="492.0" y1="3044.0" x2="492.0" y2="3064.0" stroke="#1c1c1c" stroke-width="4.2" />
<line x1="632.0" y1="3044.0" x2="632.0" y2="3054.0" stroke="#1c1c1c" stroke-width="4.2" />
<line x1="772.0" y1="3044.0" x2="772.0" y2="3064.0" stroke="#1c1c1c" stroke-width="4.2" />
<line x1="912.0" y1="3044.0" x2="912.0" y2="3054.0" stroke="#1c1c1c" stroke-width="4.2" />
<line x1="1052.0" y1="3044.0" x2="1052.0" y2="3064.0" stroke="#1c1c1c" stroke-width="4.2" />
<line x1="1192.0" y1="3044.0" x2="1192.0" y2="3054.0" stroke="#1c1c1c" stroke-width="4.2" />
<line x1="1332.0" y1="3044.0" x2="1332.0" y2="3064.0" stroke="#1c1c1c" stroke-width="4.2" />
<line x1="1472.0" y1="3044.0" x2="1472.0" y2="3054.0" stroke="#1c1c1c" stroke-width="4.2" />
<line x1="212.8" y1="3044.0" x2="212.8" y2="3618.0" stroke="#1c1c1c" stroke-width="4.6" />
<line x1="1609.0" y1="3044.0" x2="1609.0" y2="3625.0" stroke="#1c1c1c" stroke-width="4.6" />
<line x1="212.8" y1="3044.0" x2="1619.0" y2="3044.0" stroke="#1c1c1c" stroke-width="4.6" />
<line x1="212.8" y1="3603.3" x2="1619.0" y2="3603.3" stroke="#1c1c1c" stroke-width="4.6" />
<text x="212.5" y="3691.0" font-family="'Liberation Serif','Times New Roman',serif" font-size="71.5" font-weight="normal" text-anchor="middle" fill="#111" textLength="74" lengthAdjust="spacing">82</text>
<text x="412.0" y="3691.0" font-family="'Liberation Serif','Times New Roman',serif" font-size="71.5" font-weight="normal" text-anchor="middle" fill="#111" textLength="74" lengthAdjust="spacing">80</text>
<text x="611.5" y="3691.0" font-family="'Liberation Serif','Times New Roman',serif" font-size="71.5" font-weight="normal" text-anchor="middle" fill="#111" textLength="74" lengthAdjust="spacing">78</text>
<text x="811.0" y="3691.0" font-family="'Liberation Serif','Times New Roman',serif" font-size="71.5" font-weight="normal" text-anchor="middle" fill="#111" textLength="74" lengthAdjust="spacing">76</text>
<text x="1010.5" y="3691.0" font-family="'Liberation Serif','Times New Roman',serif" font-size="71.5" font-weight="normal" text-anchor="middle" fill="#111" textLength="74" lengthAdjust="spacing">74</text>
<text x="1210.0" y="3691.0" font-family="'Liberation Serif','Times New Roman',serif" font-size="71.5" font-weight="normal" text-anchor="middle" fill="#111" textLength="74" lengthAdjust="spacing">72</text>
<text x="1409.5" y="3691.0" font-family="'Liberation Serif','Times New Roman',serif" font-size="71.5" font-weight="normal" text-anchor="middle" fill="#111" textLength="74" lengthAdjust="spacing">70</text>
<text x="1609.0" y="3691.0" font-family="'Liberation Serif','Times New Roman',serif" font-size="71.5" font-weight="normal" text-anchor="middle" fill="#111" textLength="74" lengthAdjust="spacing">68</text>
<text x="584.0" y="3808.7" font-family="'Liberation Serif','Times New Roman',serif" font-size="66" font-weight="bold" text-anchor="start" fill="#111" textLength="655" lengthAdjust="spacing">Binding Energy (eV)</text>
<text x="147.3" y="3392.5" font-family="'Liberation Serif','Times New Roman',serif" font-size="79" font-weight="bold" text-anchor="start" fill="#111" textLength="652" lengthAdjust="spacing" transform="rotate(-90 147.3 3392.5)">Counts (arb. units)</text>
<polyline points="220.0,3534.1 221.5,3534.1 223.0,3534.1 224.5,3534.1 226.0,3534.1 227.5,3534.1 229.0,3534.1 230.5,3534.1 232.0,3534.1 233.5,3534.1 235.0,3534.1 236.5,3534.1 238.0,3534.1 239.5,3534.1 241.0,3534.1 242.5,3534.1 244.0,3534.1 245.5,3534.1 247.0,3534.1 248.5,3534.1 250.0,3534.1 251.5,3534.1 253.0,3534.1 254.5,3534.1 256.0,3534.1 257.5,3534.1 259.0,3534.1 260.5,3534.1 262.0,3534.1 263.5,3534.1 265.0,3534.1 266.5,3534.1 268.0,3534.1 269.5,3534.1 271.0,3534.1 272.5,3534.1 274.0,3534.1 275.5,3534.2 277.0,3534.2 278.5,3534.2 280.0,3534.2 281.5,3534.2 283.0,3534.2 284.5,3534.2 286.0,3534.2 287.5,3534.2 289.0,3534.2 290.5,3534.2 292.0,3534.2 293.5,3534.2 295.0,3534.2 296.5,3534.3 298.0,3534.4 299.5,3534.6 301.0,3535.1 302.5,3535.8 304.0,3536.6 305.5,3537.5 307.0,3538.1 308.5,3538.2 310.0,3537.8 311.5,3537.0 313.0,3536.1 314.5,3535.3 316.0,3534.8 317.5,3534.5 319.0,3534.3 320.5,3534.3 322.0,3534.3 323.5,3534.3 325.0,3534.3 326.5,3534.3 328.0,3534.3 329.5,3534.3 331.0,3534.3 332.5,3534.3 334.0,3534.3 335.5,3534.3 337.0,3534.3 338.5,3534.3 340.0,3534.3 341.5,3534.3 343.0,3534.3 344.5,3534.3 346.0,3534.3 347.5,3534.3 349.0,3534.3 350.5,3534.3 352.0,3534.3 353.5,3534.4 355.0,3534.4 356.5,3534.4 358.0,3534.4 359.5,3534.4 361.0,3534.4 362.5,3534.4 364.0,3534.4 365.5,3534.4 367.0,3534.4 368.5,3534.4 370.0,3534.4 371.5,3534.4 373.0,3534.4 374.5,3534.4 376.0,3534.4 377.5,3534.5 379.0,3534.5 380.5,3534.5 382.0,3534.5 383.5,3534.5 385.0,3534.5 386.5,3534.5 388.0,3534.5 389.5,3534.5 391.0,3534.5 392.5,3534.5 394.0,3534.5 395.5,3534.5 397.0,3534.5 398.5,3534.6 400.0,3534.6 401.5,3534.6 403.0,3534.6 404.5,3534.6 406.0,3534.6 407.5,3534.6 409.0,3534.6 410.5,3534.6 412.0,3534.6 413.5,3534.6 415.0,3534.7 416.5,3534.7 418.0,3534.7 419.5,3534.7 421.0,3534.7 422.5,3534.7 424.0,3534.7 425.5,3534.7 427.0,3534.7 428.5,3534.7 430.0,3534.7 431.5,3534.8 433.0,3534.8 434.5,3534.8 436.0,3534.8 437.5,3534.8 439.0,3534.8 440.5,3534.8 442.0,3534.8 443.5,3534.8 445.0,3534.9 446.5,3534.9 448.0,3534.9 449.5,3534.9 451.0,3534.9 452.5,3534.9 454.0,3534.9 455.5,3534.9 457.0,3535.0 458.5,3535.0 460.0,3535.0 461.5,3535.0 463.0,3535.0 464.5,3535.0 466.0,3535.0 467.5,3535.0 469.0,3535.1 470.5,3535.1 472.0,3535.1 473.5,3535.1 475.0,3535.1 476.5,3535.1 478.0,3535.1 479.5,3535.2 481.0,3535.2 482.5,3535.2 484.0,3535.2 485.5,3535.2 487.0,3535.2 488.5,3535.3 490.0,3535.3 491.5,3535.3 493.0,3535.3 494.5,3535.3 496.0,3535.3 497.5,3535.4 499.0,3535.4 500.5,3535.4 502.0,3535.4 503.5,3535.4 505.0,3535.4 506.5,3535.5 508.0,3535.5 509.5,3535.5 511.0,3535.5 512.5,3535.5 514.0,3535.5 515.5,3535.6 517.0,3535.6 518.5,3535.6 520.0,3535.6 521.5,3535.6 523.0,3535.7 524.5,3535.7 526.0,3535.7 527.5,3535.7 529.0,3535.7 530.5,3535.8 532.0,3535.8 533.5,3535.8 535.0,3535.8 536.5,3535.8 538.0,3535.9 539.5,3535.9 541.0,3535.9 542.5,3535.9 544.0,3536.0 545.5,3536.0 547.0,3536.0 548.5,3536.0 550.0,3536.0 551.5,3536.1 553.0,3536.1 554.5,3536.1 556.0,3536.1 557.5,3536.2 559.0,3536.2 560.5,3536.2 562.0,3536.2 563.5,3536.3 565.0,3536.3 566.5,3536.3 568.0,3536.3 569.5,3536.4 571.0,3536.4 572.5,3536.4 574.0,3536.4 575.5,3536.5 577.0,3536.5 578.5,3536.5 580.0,3536.5 581.5,3536.6 583.0,3536.6 584.5,3536.6 586.0,3536.7 587.5,3536.7 589.0,3536.7 590.5,3536.7 592.0,3536.8 593.5,3536.8 595.0,3536.8 596.5,3536.9 598.0,3536.9 599.5,3536.9 601.0,3537.0 602.5,3537.0 604.0,3537.0 605.5,3537.0 607.0,3537.1 608.5,3537.1 610.0,3537.1 611.5,3537.2 613.0,3537.2 614.5,3537.2 616.0,3537.3 617.5,3537.3 619.0,3537.3 620.5,3537.4 622.0,3537.4 623.5,3537.4 625.0,3537.5 626.5,3537.5 628.0,3537.5 629.5,3537.6 631.0,3537.6 632.5,3537.6 634.0,3537.7 635.5,3537.7 637.0,3537.7 638.5,3537.8 640.0,3537.8 641.5,3537.9 643.0,3537.9 644.5,3537.9 646.0,3538.0 647.5,3538.0 649.0,3538.0 650.5,3538.1 652.0,3538.1 653.5,3538.2 655.0,3538.2 656.5,3538.2 658.0,3538.3 659.5,3538.3 661.0,3538.3 662.5,3538.4 664.0,3538.4 665.5,3538.5 667.0,3538.5 668.5,3538.5 670.0,3538.6 671.5,3538.6 673.0,3538.7 674.5,3538.7 676.0,3538.8 677.5,3538.8 679.0,3538.8 680.5,3538.9 682.0,3538.9 683.5,3539.0 685.0,3539.0 686.5,3539.0 688.0,3539.1 689.5,3539.1 691.0,3539.2 692.5,3539.2 694.0,3539.3 695.5,3539.3 697.0,3539.4 698.5,3539.4 700.0,3539.4 701.5,3539.5 703.0,3539.5 704.5,3539.6 706.0,3539.6 707.5,3539.7 709.0,3539.7 710.5,3539.8 712.0,3539.8 713.5,3539.9 715.0,3539.9 716.5,3540.0 718.0,3540.0 719.5,3540.1 721.0,3540.1 722.5,3540.2 724.0,3540.2 725.5,3540.2 727.0,3540.3 728.5,3540.3 730.0,3540.4 731.5,3540.4 733.0,3540.5 734.5,3540.5 736.0,3540.6 737.5,3540.6 739.0,3540.7 740.5,3540.8 742.0,3540.8 743.5,3540.9 745.0,3540.9 746.5,3541.0 748.0,3541.0 749.5,3541.1 751.0,3541.1 752.5,3541.2 754.0,3541.2 755.5,3541.3 757.0,3541.3 758.5,3541.4 760.0,3541.4 761.5,3541.5 763.0,3541.5 764.5,3541.6 766.0,3541.6 767.5,3541.7 769.0,3541.8 770.5,3541.8 772.0,3541.9 773.5,3541.9 775.0,3542.0 776.5,3542.0 778.0,3542.1 779.5,3542.1 781.0,3542.2 782.5,3542.3 784.0,3542.3 785.5,3542.4 787.0,3542.4 788.5,3542.5 790.0,3542.5 791.5,3542.6 793.0,3542.7 794.5,3542.7 796.0,3542.8 797.5,3542.8 799.0,3542.9 800.5,3542.9 802.0,3543.0 803.5,3543.1 805.0,3543.1 806.5,3543.2 808.0,3543.2 809.5,3543.3 811.0,3543.3 812.5,3543.4 814.0,3543.5 815.5,3543.5 817.0,3543.6 818.5,3543.6 820.0,3543.7 821.5,3543.8 823.0,3543.8 824.5,3543.9 826.0,3543.9 827.5,3544.0 829.0,3544.1 830.5,3544.1 832.0,3544.2 833.5,3544.2 835.0,3544.3 836.5,3544.4 838.0,3544.4 839.5,3544.5 841.0,3544.6 842.5,3544.6 844.0,3544.7 845.5,3544.7 847.0,3544.8 848.5,3544.9 850.0,3544.9 851.5,3545.0 853.0,3545.0 854.5,3545.1 856.0,3545.2 857.5,3545.2 859.0,3545.3 860.5,3545.4 862.0,3545.4 863.5,3545.5 865.0,3545.5 866.5,3545.6 868.0,3545.7 869.5,3545.7 871.0,3545.8 872.5,3545.8 874.0,3545.9 875.5,3546.0 877.0,3546.0 878.5,3546.1 880.0,3546.2 881.5,3546.2 883.0,3546.3 884.5,3546.3 886.0,3546.4 887.5,3546.5 889.0,3546.5 890.5,3546.6 892.0,3546.7 893.5,3546.7 895.0,3546.8 896.5,3546.8 898.0,3546.9 899.5,3547.0 901.0,3547.0 902.5,3547.1 904.0,3547.2 905.5,3547.2 907.0,3547.3 908.5,3547.3 910.0,3547.4 911.5,3547.5 913.0,3547.5 914.5,3547.6 916.0,3547.6 917.5,3547.7 919.0,3547.8 920.5,3547.8 922.0,3547.9 923.5,3547.9 925.0,3548.0 926.5,3548.0 928.0,3548.1 929.5,3548.1 931.0,3548.2 932.5,3548.2 934.0,3548.2 935.5,3548.3 937.0,3548.3 938.5,3548.3 940.0,3548.4 941.5,3548.4 943.0,3548.4 944.5,3548.4 946.0,3548.4 947.5,3548.4 949.0,3548.4 950.5,3548.4 952.0,3548.3 953.5,3548.3 955.0,3548.2 956.5,3548.2 958.0,3548.1 959.5,3548.0 961.0,3547.9 962.5,3547.8 964.0,3547.6 965.5,3547.4 967.0,3547.3 968.5,3547.1 970.0,3546.8 971.5,3546.6 973.0,3546.3 974.5,3546.0 976.0,3545.6 977.5,3545.3 979.0,3544.8 980.5,3544.4 982.0,3543.9 983.5,3543.4 985.0,3542.9 986.5,3542.3 988.0,3541.6 989.5,3540.9 991.0,3540.2 992.5,3539.4 994.0,3538.6 995.5,3537.8 997.0,3536.8 998.5,3535.9 1000.0,3534.9 1001.5,3533.8 1003.0,3532.7 1004.5,3531.5 1006.0,3530.3 1007.5,3529.1 1009.0,3527.8 1010.5,3526.5 1012.0,3525.1 1013.5,3523.7 1015.0,3522.2 1016.5,3520.7 1018.0,3519.2 1019.5,3517.6 1021.0,3516.1 1022.5,3514.5 1024.0,3512.9 1025.5,3511.3 1027.0,3509.6 1028.5,3508.0 1030.0,3506.4 1031.5,3504.8 1033.0,3503.2 1034.5,3501.6 1036.0,3500.1 1037.5,3498.6 1039.0,3497.1 1040.5,3495.7 1042.0,3494.4 1043.5,3493.0 1045.0,3491.8 1046.5,3490.6 1048.0,3489.5 1049.5,3488.5 1051.0,3487.6 1052.5,3486.7 1054.0,3485.9 1055.5,3485.3 1057.0,3484.7 1058.5,3484.2 1060.0,3483.9 1061.5,3483.6 1063.0,3483.5 1064.5,3483.4 1066.0,3483.5 1067.5,3483.7 1069.0,3484.0 1070.5,3484.3 1072.0,3484.8 1073.5,3485.4 1075.0,3486.1 1076.5,3486.9 1078.0,3487.8 1079.5,3488.8 1081.0,3489.9 1082.5,3491.1 1084.0,3492.3 1085.5,3493.6 1087.0,3495.0 1088.5,3496.4 1090.0,3497.9 1091.5,3499.4 1093.0,3501.0 1094.5,3502.6 1096.0,3504.2 1097.5,3505.9 1099.0,3507.6 1100.5,3509.3 1102.0,3511.0 1103.5,3512.8 1105.0,3514.5 1106.5,3516.2 1108.0,3517.9 1109.5,3519.6 1111.0,3521.2 1112.5,3522.9 1114.0,3524.5 1115.5,3526.1 1117.0,3527.6 1118.5,3529.1 1120.0,3530.6 1121.5,3532.0 1123.0,3533.4 1124.5,3534.7 1126.0,3536.0 1127.5,3537.2 1129.0,3538.4 1130.5,3539.6 1132.0,3540.7 1133.5,3541.7 1135.0,3542.7 1136.5,3543.7 1138.0,3544.6 1139.5,3545.4 1141.0,3546.2 1142.5,3547.0 1144.0,3547.7 1145.5,3548.4 1147.0,3549.0 1148.5,3549.6 1150.0,3550.2 1151.5,3550.7 1153.0,3551.2 1154.5,3551.7 1156.0,3552.1 1157.5,3552.5 1159.0,3552.9 1160.5,3553.2 1162.0,3553.5 1163.5,3553.8 1165.0,3554.1 1166.5,3554.4 1168.0,3554.6 1169.5,3554.8 1171.0,3555.0 1172.5,3555.2 1174.0,3555.4 1175.5,3555.5 1177.0,3555.7 1178.5,3555.8 1180.0,3555.9 1181.5,3556.0 1183.0,3556.1 1184.5,3556.2 1186.0,3556.3 1187.5,3556.4 1189.0,3556.5 1190.5,3556.6 1192.0,3556.6 1193.5,3556.7 1195.0,3556.8 1196.5,3556.8 1198.0,3556.9 1199.5,3556.9 1201.0,3557.0 1202.5,3557.0 1204.0,3557.1 1205.5,3557.1 1207.0,3557.1 1208.5,3557.2 1210.0,3557.2 1211.5,3557.3 1213.0,3557.3 1214.5,3557.3 1216.0,3557.4 1217.5,3557.4 1219.0,3557.4 1220.5,3557.4 1222.0,3557.5 1223.5,3557.5 1225.0,3557.5 1226.5,3557.6 1228.0,3557.6 1229.5,3557.6 1231.0,3557.6 1232.5,3557.7 1234.0,3557.7 1235.5,3557.7 1237.0,3557.7 1238.5,3557.8 1240.0,3557.8 1241.5,3557.8 1243.0,3557.8 1244.5,3557.9 1246.0,3557.9 1247.5,3557.9 1249.0,3557.9 1250.5,3558.0 1252.0,3558.0 1253.5,3558.0 1255.0,3558.0 1256.5,3558.1 1258.0,3558.1 1259.5,3558.1 1261.0,3558.1 1262.5,3558.1 1264.0,3558.2 1265.5,3558.2 1267.0,3558.2 1268.5,3558.2 1270.0,3558.2 1271.5,3558.3 1273.0,3558.3 1274.5,3558.3 1276.0,3558.3 1277.5,3558.3 1279.0,3558.4 1280.5,3558.4 1282.0,3558.4 1283.5,3558.4 1285.0,3558.4 1286.5,3558.5 1288.0,3558.5 1289.5,3558.5 1291.0,3558.5 1292.5,3558.5 1294.0,3558.6 1295.5,3558.6 1297.0,3558.6 1298.5,3558.6 1300.0,3558.6 1301.5,3558.6 1303.0,3558.7 1304.5,3558.7 1306.0,3558.7 1307.5,3558.7 1309.0,3558.7 1310.5,3558.7 1312.0,3558.8 1313.5,3558.8 1315.0,3558.8 1316.5,3558.8 1318.0,3558.8 1319.5,3558.8 1321.0,3558.8 1322.5,3558.9 1324.0,3558.9 1325.5,3558.9 1327.0,3558.9 1328.5,3558.9 1330.0,3558.9 1331.5,3558.9 1333.0,3559.0 1334.5,3559.0 1336.0,3559.0 1337.5,3559.0 1339.0,3559.0 1340.5,3559.0 1342.0,3559.0 1343.5,3559.0 1345.0,3559.1 1346.5,3559.1 1348.0,3559.1 1349.5,3559.1 1351.0,3559.1 1352.5,3559.1 1354.0,3559.1 1355.5,3559.1 1357.0,3559.2 1358.5,3559.2 1360.0,3559.2 1361.5,3559.2 1363.0,3559.2 1364.5,3559.2 1366.0,3559.2 1367.5,3559.2 1369.0,3559.2 1370.5,3559.3 1372.0,3559.3 1373.5,3559.3 1375.0,3559.3 1376.5,3559.3 1378.0,3559.3 1379.5,3559.3 1381.0,3559.3 1382.5,3559.3 1384.0,3559.3 1385.5,3559.4 1387.0,3559.4 1388.5,3559.4 1390.0,3559.4 1391.5,3559.4 1393.0,3559.4 1394.5,3559.4 1396.0,3559.4 1397.5,3559.4 1399.0,3559.4 1400.5,3559.4 1402.0,3559.4 1403.5,3559.5 1405.0,3559.5 1406.5,3559.5 1408.0,3559.5 1409.5,3559.5 1411.0,3559.5 1412.5,3559.5 1414.0,3559.5 1415.5,3559.5 1417.0,3559.5 1418.5,3559.5 1420.0,3559.5 1421.5,3559.5 1423.0,3559.6 1424.5,3559.6 1426.0,3559.6 1427.5,3559.6 1429.0,3559.6 1430.5,3559.6 1432.0,3559.6 1433.5,3559.6 1435.0,3559.6 1436.5,3559.6 1438.0,3559.6 1439.5,3559.6 1441.0,3559.6 1442.5,3559.6 1444.0,3559.6 1445.5,3559.6 1447.0,3559.6 1448.5,3559.7 1450.0,3559.7 1451.5,3559.7 1453.0,3559.7 1454.5,3559.7 1456.0,3559.7 1457.5,3559.7 1459.0,3559.7 1460.5,3559.7 1462.0,3559.7 1463.5,3559.7 1465.0,3559.7 1466.5,3559.7 1468.0,3559.7 1469.5,3559.7 1471.0,3559.7 1472.5,3559.7 1474.0,3559.7 1475.5,3559.7 1477.0,3559.7 1478.5,3559.7 1480.0,3559.8 1481.5,3559.8 1483.0,3559.8 1484.5,3559.8 1486.0,3559.8 1487.5,3559.8 1489.0,3559.8 1490.5,3559.8 1492.0,3559.8 1493.5,3559.8 1495.0,3559.8 1496.5,3559.8 1498.0,3559.8 1499.5,3559.8 1501.0,3559.8 1502.5,3559.8 1504.0,3559.8 1505.5,3559.8 1507.0,3559.8 1508.5,3559.8 1510.0,3559.8 1511.5,3559.8 1513.0,3559.8 1514.5,3559.8 1516.0,3559.8 1517.5,3559.8 1519.0,3559.8 1520.5,3559.8 1522.0,3559.8 1523.5,3559.8 1525.0,3559.8 1526.5,3559.9 1528.0,3559.9 1529.5,3559.9 1531.0,3559.9 1532.5,3559.9 1534.0,3559.9 1535.5,3559.9 1537.0,3559.9 1538.5,3559.9 1540.0,3559.9 1541.5,3559.9 1543.0,3559.9 1544.5,3559.9 1546.0,3559.9 1547.5,3559.9 1549.0,3559.9 1550.5,3559.9 1552.0,3559.9 1553.5,3559.9 1555.0,3559.9 1556.5,3559.9 1558.0,3559.9 1559.5,3559.9 1561.0,3559.9 1562.5,3559.9 1564.0,3559.9 1565.5,3559.9 1567.0,3559.9 1568.5,3559.9 1570.0,3559.9 1571.5,3559.9 1573.0,3559.9 1574.5,3559.9 1576.0,3559.9 1577.5,3559.9 1579.0,3559.9 1580.5,3559.9 1582.0,3559.9 1583.5,3559.9 1585.0,3559.9 1586.5,3559.9 1588.0,3559.9 1589.5,3559.9 1591.0,3559.9 1592.5,3559.9 1594.0,3559.9 1595.5,3559.9 1597.0,3559.9 1598.5,3559.9 1600.0,3559.9 1601.5,3559.9 1603.0,3559.9 1604.5,3559.9 1606.0,3559.9 1607.5,3559.9 1609.0,3559.9" fill="none" stroke="#35a862" stroke-width="3.0" stroke-linejoin="round" />
<polyline points="912.0,3552.5 914.0,3552.5 916.0,3552.5 918.0,3552.5 920.0,3552.5 922.0,3552.5 924.0,3552.5 926.0,3552.5 928.0,3552.5 930.0,3552.5 932.0,3552.5 934.0,3552.5 936.0,3552.5 938.0,3552.5 940.0,3552.5 942.0,3552.5 944.0,3552.5 946.0,3552.5 948.0,3552.5 950.0,3552.5 952.0,3552.5 954.0,3552.5 956.0,3552.5 958.0,3552.5 960.0,3552.5 962.0,3552.5 964.0,3552.5 966.0,3552.5 968.0,3552.5 970.0,3552.5 972.0,3552.5 974.0,3552.5 976.0,3552.5 978.0,3552.5 980.0,3552.5 982.0,3552.5 984.0,3552.5 986.0,3552.5 988.0,3552.5 990.0,3552.5 992.0,3552.5 994.0,3552.5 996.0,3552.5 998.0,3552.5 1000.0,3552.5 1002.0,3552.5 1004.0,3552.5 1006.0,3552.5 1008.0,3552.4 1010.0,3552.4 1012.0,3552.4 1014.0,3552.4 1016.0,3552.4 1018.0,3552.3 1020.0,3552.3 1022.0,3552.2 1024.0,3552.2 1026.0,3552.1 1028.0,3552.0 1030.0,3551.9 1032.0,3551.8 1034.0,3551.6 1036.0,3551.4 1038.0,3551.2 1040.0,3550.9 1042.0,3550.6 1044.0,3550.2 1046.0,3549.7 1048.0,3549.2 1050.0,3548.5 1052.0,3547.8 1054.0,3547.0 1056.0,3546.0 1058.0,3544.8 1060.0,3543.5 1062.0,3542.0 1064.0,3540.3 1066.0,3538.4 1068.0,3536.2 1070.0,3533.7 1072.0,3530.9 1074.0,3527.7 1076.0,3524.2 1078.0,3520.3 1080.0,3515.9 1082.0,3511.1 1084.0,3505.8 1086.0,3500.0 1088.0,3493.7 1090.0,3486.8 1092.0,3479.3 1094.0,3471.2 1096.0,3462.5 1098.0,3453.1 1100.0,3443.1 1102.0,3432.5 1104.0,3421.3 1106.0,3409.4 1108.0,3397.0 1110.0,3384.0 1112.0,3370.5 1114.0,3356.5 1116.0,3342.1 1118.0,3327.3 1120.0,3312.2 1122.0,3296.9 1124.0,3281.5 1126.0,3266.0 1128.0,3250.6 1130.0,3235.3 1132.0,3220.2 1134.0,3205.6 1136.0,3191.4 1138.0,3177.7 1140.0,3164.8 1142.0,3152.7 1144.0,3141.4 1146.0,3131.1 1148.0,3121.9 1150.0,3113.9 1152.0,3107.0 1154.0,3101.5 1156.0,3097.3 1158.0,3094.5 1160.0,3093.1 1162.0,3093.1 1164.0,3094.5 1166.0,3097.3 1168.0,3101.5 1170.0,3107.0 1172.0,3113.9 1174.0,3121.9 1176.0,3131.1 1178.0,3141.4 1180.0,3152.7 1182.0,3164.8 1184.0,3177.7 1186.0,3191.4 1188.0,3205.6 1190.0,3220.2 1192.0,3235.3 1194.0,3250.6 1196.0,3266.0 1198.0,3281.5 1200.0,3296.9 1202.0,3312.2 1204.0,3327.3 1206.0,3342.1 1208.0,3356.5 1210.0,3370.5 1212.0,3384.0 1214.0,3397.0 1216.0,3409.4 1218.0,3421.3 1220.0,3432.5 1222.0,3443.1 1224.0,3453.1 1226.0,3462.5 1228.0,3471.2 1230.0,3479.3 1232.0,3486.8 1234.0,3493.7 1236.0,3500.0 1238.0,3505.8 1240.0,3511.1 1242.0,3515.9 1244.0,3520.3 1246.0,3524.2 1248.0,3527.7 1250.0,3530.9 1252.0,3533.7 1254.0,3536.2 1256.0,3538.4 1258.0,3540.3 1260.0,3542.0 1262.0,3543.5 1264.0,3544.8 1266.0,3546.0 1268.0,3547.0 1270.0,3547.8 1272.0,3548.5 1274.0,3549.2 1276.0,3549.7 1278.0,3550.2 1280.0,3550.6 1282.0,3550.9 1284.0,3551.2 1286.0,3551.4 1288.0,3551.6 1290.0,3551.8 1292.0,3551.9 1294.0,3552.0 1296.0,3552.1 1298.0,3552.2 1300.0,3552.2" fill="none" stroke="#f03232" stroke-width="3.0" stroke-linejoin="round" />
<polyline points="577.0,3533.6 579.0,3533.5 581.0,3533.5 583.0,3533.4 585.0,3533.4 587.0,3533.3 589.0,3533.2 591.0,3533.2 593.0,3533.1 595.0,3533.0 597.0,3532.9 599.0,3532.8 601.0,3532.7 603.0,3532.6 605.0,3532.4 607.0,3532.3 609.0,3532.2 611.0,3532.0 613.0,3531.8 615.0,3531.6 617.0,3531.4 619.0,3531.2 621.0,3531.0 623.0,3530.8 625.0,3530.5 627.0,3530.2 629.0,3529.9 631.0,3529.6 633.0,3529.2 635.0,3528.9 637.0,3528.5 639.0,3528.1 641.0,3527.6 643.0,3527.1 645.0,3526.6 647.0,3526.1 649.0,3525.5 651.0,3524.9 653.0,3524.3 655.0,3523.6 657.0,3522.9 659.0,3522.1 661.0,3521.3 663.0,3520.5 665.0,3519.6 667.0,3518.6 669.0,3517.7 671.0,3516.6 673.0,3515.5 675.0,3514.4 677.0,3513.2 679.0,3511.9 681.0,3510.6 683.0,3509.2 685.0,3507.7 687.0,3506.2 689.0,3504.6 691.0,3502.9 693.0,3501.2 695.0,3499.4 697.0,3497.5 699.0,3495.6 701.0,3493.6 703.0,3491.5 705.0,3489.3 707.0,3487.0 709.0,3484.7 711.0,3482.3 713.0,3479.8 715.0,3477.2 717.0,3474.5 719.0,3471.8 721.0,3469.0 723.0,3466.1 725.0,3463.1 727.0,3460.0 729.0,3456.9 731.0,3453.7 733.0,3450.4 735.0,3447.0 737.0,3443.6 739.0,3440.1 741.0,3436.5 743.0,3432.8 745.0,3429.1 747.0,3425.3 749.0,3421.5 751.0,3417.6 753.0,3413.7 755.0,3409.7 757.0,3405.7 759.0,3401.7 761.0,3397.6 763.0,3393.5 765.0,3389.3 767.0,3385.2 769.0,3381.0 771.0,3376.8 773.0,3372.6 775.0,3368.4 777.0,3364.3 779.0,3360.1 781.0,3356.0 783.0,3351.9 785.0,3347.8 787.0,3343.8 789.0,3339.9 791.0,3335.9 793.0,3332.1 795.0,3328.3 797.0,3324.6 799.0,3321.0 801.0,3317.5 803.0,3314.0 805.0,3310.7 807.0,3307.4 809.0,3304.3 811.0,3301.3 813.0,3298.5 815.0,3295.7 817.0,3293.1 819.0,3290.7 821.0,3288.4 823.0,3286.2 825.0,3284.2 827.0,3282.4 829.0,3280.7 831.0,3279.2 833.0,3277.9 835.0,3276.7 837.0,3275.7 839.0,3274.9 841.0,3274.3 843.0,3273.9 845.0,3273.6 847.0,3273.6 849.0,3273.7 851.0,3274.0 853.0,3274.4 855.0,3274.9 857.0,3275.6 859.0,3276.4 861.0,3277.4 863.0,3278.5 865.0,3279.7 867.0,3281.1 869.0,3282.6 871.0,3284.2 873.0,3286.0 875.0,3287.8 877.0,3289.8 879.0,3291.9 881.0,3294.2 883.0,3296.5 885.0,3299.0 887.0,3301.5 889.0,3304.2 891.0,3307.0 893.0,3309.8 895.0,3312.8 897.0,3315.8 899.0,3318.9 901.0,3322.1 903.0,3325.4 905.0,3328.7 907.0,3332.1 909.0,3335.6 911.0,3339.1 913.0,3342.7 915.0,3346.3 917.0,3349.9 919.0,3353.6 921.0,3357.3 923.0,3361.1 925.0,3364.9 927.0,3368.7 929.0,3372.5 931.0,3376.3 933.0,3380.2 935.0,3384.0 937.0,3387.8 939.0,3391.7 941.0,3395.5 943.0,3399.3 945.0,3403.1 947.0,3406.9 949.0,3410.6 951.0,3414.3 953.0,3418.0 955.0,3421.7 957.0,3425.3 959.0,3428.9 961.0,3432.5 963.0,3436.0 965.0,3439.5 967.0,3442.9 969.0,3446.2 971.0,3449.6 973.0,3452.8 975.0,3456.0 977.0,3459.2 979.0,3462.3 981.0,3465.3 983.0,3468.3 985.0,3471.2 987.0,3474.1 989.0,3476.9 991.0,3479.6 993.0,3482.2 995.0,3484.8 997.0,3487.4 999.0,3489.9 1001.0,3492.3 1003.0,3494.6 1005.0,3496.9 1007.0,3499.1 1009.0,3501.3 1011.0,3503.4 1013.0,3505.4 1015.0,3507.3 1017.0,3509.3 1019.0,3511.1 1021.0,3512.9 1023.0,3514.6 1025.0,3516.3 1027.0,3517.9 1029.0,3519.4 1031.0,3520.9 1033.0,3522.4 1035.0,3523.8 1037.0,3525.1 1039.0,3526.4 1041.0,3527.6 1043.0,3528.8 1045.0,3530.0 1047.0,3531.1 1049.0,3532.1 1051.0,3533.1 1053.0,3534.1 1055.0,3535.0 1057.0,3535.9 1059.0,3536.7 1061.0,3537.6 1063.0,3538.3 1065.0,3539.1 1067.0,3539.8 1069.0,3540.4 1071.0,3541.1 1073.0,3541.7 1075.0,3542.3 1077.0,3542.8 1079.0,3543.3 1081.0,3543.8 1083.0,3544.3 1085.0,3544.8 1087.0,3545.2 1089.0,3545.6 1091.0,3546.0 1093.0,3546.3 1095.0,3546.7 1097.0,3547.0 1099.0,3547.3 1101.0,3547.6 1103.0,3547.9 1105.0,3548.1 1107.0,3548.4 1109.0,3548.6 1111.0,3548.8 1113.0,3549.0 1115.0,3549.2 1117.0,3549.4 1119.0,3549.6 1121.0,3549.7 1123.0,3549.9 1125.0,3550.0 1127.0,3550.2 1129.0,3550.3 1131.0,3550.4 1133.0,3550.5 1135.0,3550.6 1137.0,3550.7 1139.0,3550.8 1141.0,3550.9 1143.0,3551.0 1145.0,3551.0 1147.0,3551.1 1149.0,3551.2 1151.0,3551.2 1153.0,3551.3 1155.0,3551.3 1157.0,3551.4 1159.0,3551.4 1161.0,3551.5 1163.0,3551.5 1165.0,3551.5 1167.0,3551.6 1169.0,3551.6 1171.0,3551.6 1173.0,3551.7 1175.0,3551.7 1177.0,3551.7 1179.0,3551.7 1180.0,3551.7" fill="none" stroke="#2f72e6" stroke-width="3.0" stroke-linejoin="round" />
<polyline points="540.0,3533.9 542.0,3533.9 544.0,3533.9 546.0,3533.9 548.0,3533.9 550.0,3533.9 552.0,3533.9 554.0,3533.9 556.0,3533.8 558.0,3533.8 560.0,3533.8 562.0,3533.8 564.0,3533.8 566.0,3533.7 568.0,3533.7 570.0,3533.7 572.0,3533.7 574.0,3533.6 576.0,3533.6 578.0,3533.5 580.0,3533.5 582.0,3533.4 584.0,3533.4 586.0,3533.3 588.0,3533.3 590.0,3533.2 592.0,3533.1 594.0,3533.0 596.0,3532.9 598.0,3532.9 600.0,3532.7 602.0,3532.6 604.0,3532.5 606.0,3532.4 608.0,3532.2 610.0,3532.1 612.0,3531.9 614.0,3531.7 616.0,3531.5 618.0,3531.3 620.0,3531.1 622.0,3530.9 624.0,3530.6 626.0,3530.4 628.0,3530.1 630.0,3529.8 632.0,3529.4 634.0,3529.1 636.0,3528.7 638.0,3528.3 640.0,3527.8 642.0,3527.4 644.0,3526.9 646.0,3526.4 648.0,3525.8 650.0,3525.2 652.0,3524.6 654.0,3524.0 656.0,3523.3 658.0,3522.5 660.0,3521.7 662.0,3520.9 664.0,3520.0 666.0,3519.1 668.0,3518.2 670.0,3517.1 672.0,3516.1 674.0,3514.9 676.0,3513.8 678.0,3512.5 680.0,3511.2 682.0,3509.9 684.0,3508.4 686.0,3507.0 688.0,3505.4 690.0,3503.8 692.0,3502.1 694.0,3500.3 696.0,3498.5 698.0,3496.6 700.0,3494.6 702.0,3492.5 704.0,3490.4 706.0,3488.2 708.0,3485.9 710.0,3483.5 712.0,3481.0 714.0,3478.5 716.0,3475.9 718.0,3473.2 720.0,3470.4 722.0,3467.5 724.0,3464.6 726.0,3461.6 728.0,3458.5 730.0,3455.3 732.0,3452.0 734.0,3448.7 736.0,3445.3 738.0,3441.8 740.0,3438.3 742.0,3434.7 744.0,3431.0 746.0,3427.2 748.0,3423.4 750.0,3419.6 752.0,3415.7 754.0,3411.7 756.0,3407.7 758.0,3403.7 760.0,3399.6 762.0,3395.5 764.0,3391.4 766.0,3387.2 768.0,3383.1 770.0,3378.9 772.0,3374.7 774.0,3370.5 776.0,3366.4 778.0,3362.2 780.0,3358.1 782.0,3354.0 784.0,3349.9 786.0,3345.8 788.0,3341.8 790.0,3337.9 792.0,3334.0 794.0,3330.2 796.0,3326.5 798.0,3322.8 800.0,3319.2 802.0,3315.7 804.0,3312.3 806.0,3309.0 808.0,3305.9 810.0,3302.8 812.0,3299.9 814.0,3297.1 816.0,3294.4 818.0,3291.9 820.0,3289.5 822.0,3287.3 824.0,3285.2 826.0,3283.3 828.0,3281.5 830.0,3279.9 832.0,3278.5 834.0,3277.3 836.0,3276.2 838.0,3275.3 840.0,3274.6 842.0,3274.1 844.0,3273.7 846.0,3273.6 848.0,3273.6 850.0,3273.8 852.0,3274.1 854.0,3274.6 856.0,3275.2 858.0,3276.0 860.0,3276.9 862.0,3277.9 864.0,3279.1 866.0,3280.4 868.0,3281.8 870.0,3283.4 872.0,3285.1 874.0,3286.9 876.0,3288.8 878.0,3290.9 880.0,3293.1 882.0,3295.3 884.0,3297.7 886.0,3300.3 888.0,3302.9 890.0,3305.6 892.0,3308.4 894.0,3311.3 896.0,3314.3 898.0,3317.4 900.0,3320.5 902.0,3323.7 904.0,3327.0 906.0,3330.4 908.0,3333.8 910.0,3337.3 912.0,3340.8 914.0,3344.4 916.0,3348.1 918.0,3351.7 920.0,3355.4 922.0,3359.2 924.0,3362.9 926.0,3366.7 928.0,3370.5 930.0,3374.3 932.0,3378.1 934.0,3381.9 936.0,3385.7 938.0,3389.5 940.0,3393.3 942.0,3397.0 944.0,3400.8 946.0,3404.5 948.0,3408.1 950.0,3411.8 952.0,3415.4 954.0,3418.9 956.0,3422.4 958.0,3425.8 960.0,3429.2 962.0,3432.5 964.0,3435.7 966.0,3438.8 968.0,3441.9 970.0,3444.8 972.0,3447.7 974.0,3450.5 976.0,3453.1 978.0,3455.6 980.0,3458.1 982.0,3460.4 984.0,3462.5 986.0,3464.6 988.0,3466.5 990.0,3468.2 992.0,3469.9 994.0,3471.3 996.0,3472.6 998.0,3473.8 1000.0,3474.8 1002.0,3475.7 1004.0,3476.4 1006.0,3477.0 1008.0,3477.4 1010.0,3477.7 1012.0,3477.8 1014.0,3477.8 1016.0,3477.7 1018.0,3477.4 1020.0,3477.1 1022.0,3476.6 1024.0,3476.0 1026.0,3475.3 1028.0,3474.6 1030.0,3473.8 1032.0,3472.9 1034.0,3472.0 1036.0,3471.0 1038.0,3470.0 1040.0,3469.0 1042.0,3468.0 1044.0,3467.0 1046.0,3466.0 1048.0,3464.9 1050.0,3463.9 1052.0,3462.9 1054.0,3461.9 1056.0,3460.9 1058.0,3459.8 1060.0,3458.8 1062.0,3457.7 1064.0,3456.5 1066.0,3455.3 1068.0,3454.0 1070.0,3452.5 1072.0,3450.9 1074.0,3449.1 1076.0,3447.1 1078.0,3444.8 1080.0,3442.3 1082.0,3439.4 1084.0,3436.1 1086.0,3432.4 1088.0,3428.3 1090.0,3423.7 1092.0,3418.5 1094.0,3412.9 1096.0,3406.6 1098.0,3399.8 1100.0,3392.3 1102.0,3384.2 1104.0,3375.4 1106.0,3366.1 1108.0,3356.1 1110.0,3345.5 1112.0,3334.3 1114.0,3322.6 1116.0,3310.4 1118.0,3297.8 1120.0,3284.8 1122.0,3271.5 1124.0,3258.0 1126.0,3244.3 1128.0,3230.6 1130.0,3216.9 1132.0,3203.4 1134.0,3190.2 1136.0,3177.3 1138.0,3164.9 1140.0,3153.2 1142.0,3142.1 1144.0,3131.8 1146.0,3122.5 1148.0,3114.1 1150.0,3106.8 1152.0,3100.7 1154.0,3095.8 1156.0,3092.2 1158.0,3089.9 1160.0,3088.9 1162.0,3089.4 1164.0,3091.2 1166.0,3094.3 1168.0,3098.8 1170.0,3104.6 1172.0,3111.7 1174.0,3119.9 1176.0,3129.3 1178.0,3139.8 1180.0,3151.2 1182.0,3163.5 1184.0,3176.5 1186.0,3190.2 1188.0,3204.5 1190.0,3219.3 1192.0,3234.4 1194.0,3249.7 1196.0,3265.2 1198.0,3280.7 1200.0,3296.2 1202.0,3311.5 1204.0,3326.6 1206.0,3341.4 1208.0,3355.9 1210.0,3369.9 1212.0,3383.4 1214.0,3396.4 1216.0,3408.8 1218.0,3420.7 1220.0,3431.9 1222.0,3442.6 1224.0,3452.5 1226.0,3461.9 1228.0,3470.6 1230.0,3478.7 1232.0,3486.2 1234.0,3493.2 1236.0,3499.5 1238.0,3505.3 1240.0,3510.6 1242.0,3515.4 1244.0,3519.8 1246.0,3523.7 1248.0,3527.2 1250.0,3530.3 1252.0,3533.2 1254.0,3535.6 1256.0,3537.9 1258.0,3539.8 1260.0,3541.5 1262.0,3543.0 1264.0,3544.3 1266.0,3545.5 1268.0,3546.4 1270.0,3547.3 1272.0,3548.0 1274.0,3548.7 1276.0,3549.2 1278.0,3549.7 1280.0,3550.0 1282.0,3550.4 1284.0,3550.7 1286.0,3550.9 1288.0,3551.1 1290.0,3551.2 1292.0,3551.4 1294.0,3551.5 1296.0,3551.6 1298.0,3551.7 1300.0,3551.7 1302.0,3551.8 1304.0,3551.8 1306.0,3551.9 1308.0,3551.9 1310.0,3551.9 1312.0,3551.9 1314.0,3551.9 1315.0,3552.0" fill="none" stroke="#1a1a1a" stroke-width="3.4" stroke-linejoin="round" />
<polyline points="577.0,3533.6 579.0,3533.5 581.0,3533.5 583.0,3533.4 585.0,3533.4 587.0,3533.3 589.0,3533.2 591.0,3533.2 593.0,3533.1 595.0,3533.0 597.0,3532.9 599.0,3532.8 601.0,3532.7 603.0,3532.6 605.0,3532.4 607.0,3532.3 609.0,3532.2 611.0,3532.0 613.0,3531.8 615.0,3531.6 617.0,3531.4 619.0,3531.2 621.0,3531.0 623.0,3530.8 625.0,3530.5 627.0,3530.2 629.0,3529.9 631.0,3529.6 633.0,3529.2 635.0,3528.9 637.0,3528.5 639.0,3528.1 641.0,3527.6 643.0,3527.1 645.0,3526.6 647.0,3526.1 649.0,3525.5 651.0,3524.9 653.0,3524.3 655.0,3523.6 657.0,3522.9 659.0,3522.1 661.0,3521.3 663.0,3520.5 665.0,3519.6 667.0,3518.6 669.0,3517.7 671.0,3516.6 673.0,3515.5 675.0,3514.4 677.0,3513.2 679.0,3511.9 681.0,3510.6 683.0,3509.2 685.0,3507.7 687.0,3506.2 689.0,3504.6 691.0,3502.9 693.0,3501.2 695.0,3499.4 697.0,3497.5 699.0,3495.6 701.0,3493.6 703.0,3491.5 705.0,3489.3 707.0,3487.0 709.0,3484.7 711.0,3482.3 713.0,3479.8 715.0,3477.2 717.0,3474.5 719.0,3471.8 721.0,3469.0 723.0,3466.1 725.0,3463.1 727.0,3460.0 729.0,3456.9 731.0,3453.7 733.0,3450.4 735.0,3447.0 737.0,3443.6 739.0,3440.1 741.0,3436.5 743.0,3432.8 745.0,3429.1 747.0,3425.3 749.0,3421.5 751.0,3417.6 753.0,3413.7 755.0,3409.7 757.0,3405.7 759.0,3401.7 761.0,3397.6 763.0,3393.5 765.0,3389.3 767.0,3385.2 769.0,3381.0 771.0,3376.8 773.0,3372.6 775.0,3368.4 777.0,3364.3 779.0,3360.1 781.0,3356.0 783.0,3351.9 785.0,3347.8 787.0,3343.8 789.0,3339.9 791.0,3335.9 793.0,3332.1 795.0,3328.3 797.0,3324.6 799.0,3321.0 801.0,3317.5 803.0,3314.0 805.0,3310.7 807.0,3307.4 809.0,3304.3 811.0,3301.3 813.0,3298.5 815.0,3295.7 817.0,3293.1 819.0,3290.7 821.0,3288.4 823.0,3286.2 825.0,3284.2 827.0,3282.4 829.0,3280.7 831.0,3279.2 833.0,3277.9 835.0,3276.7 837.0,3275.7 839.0,3274.9 841.0,3274.3 843.0,3273.9 845.0,3273.6 847.0,3273.6 849.0,3273.7 851.0,3274.0 853.0,3274.4 855.0,3274.9 857.0,3275.6 859.0,3276.4 861.0,3277.4 863.0,3278.5 865.0,3279.7 867.0,3281.1 869.0,3282.6 871.0,3284.2 873.0,3286.0 875.0,3287.8 877.0,3289.8 879.0,3291.9 881.0,3294.2 883.0,3296.5 885.0,3299.0 887.0,3301.5 889.0,3304.2 891.0,3307.0 893.0,3309.8 895.0,3312.8 897.0,3315.8 899.0,3318.9 901.0,3322.1 903.0,3325.4 905.0,3328.7 907.0,3332.1 909.0,3335.6 911.0,3339.1 913.0,3342.7 915.0,3346.3 917.0,3349.9 919.0,3353.6 921.0,3357.3 923.0,3361.1 925.0,3364.9 927.0,3368.7 929.0,3372.5 931.0,3376.3 933.0,3380.2 935.0,3384.0 937.0,3387.8 939.0,3391.7 941.0,3395.5 943.0,3399.3 945.0,3403.1 947.0,3406.9 949.0,3410.6 951.0,3414.3 953.0,3418.0 955.0,3421.7 957.0,3425.3 959.0,3428.9 961.0,3432.5 963.0,3436.0 965.0,3439.5 967.0,3442.9 969.0,3446.2 971.0,3449.6 973.0,3452.8 975.0,3456.0 977.0,3459.2 979.0,3462.3 981.0,3465.3 983.0,3468.3 985.0,3471.2 987.0,3474.1 989.0,3476.9 991.0,3479.6 993.0,3482.2 995.0,3484.8 997.0,3487.4 999.0,3489.9 1000.0,3491.1" fill="none" stroke="#2f72e6" stroke-width="3.0" stroke-linejoin="round" />
<text x="1210.5" y="3149.2" font-family="'Liberation Serif','Times New Roman',serif" font-size="72" font-weight="bold" text-anchor="start" fill="#111" textLength="362" lengthAdjust="spacing">30 Sec Etch</text>
</svg>
</body></html>
